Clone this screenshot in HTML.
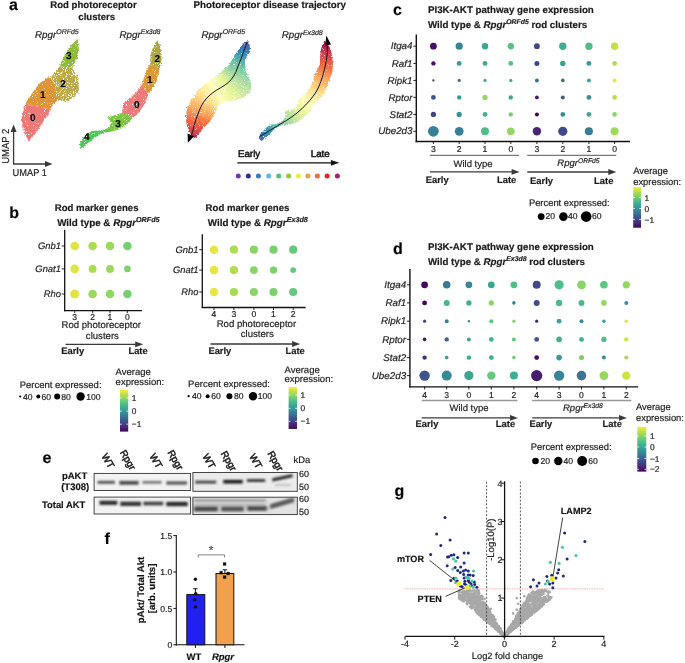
<!DOCTYPE html>
<html><head><meta charset="utf-8"><style>
html,body{margin:0;padding:0;background:#fff;}
svg{display:block;will-change:transform;}
text{font-family:"Liberation Sans", sans-serif;stroke:#1e1e1e;stroke-width:0.18px;text-rendering:geometricPrecision;}
</style></head><body>
<svg width="685" height="663" viewBox="0 0 685 663" font-family='"Liberation Sans", sans-serif'>
<rect width="685" height="663" fill="#fff"/>
<text x="9.0" y="9.8" font-size="16" font-weight="bold" font-style="normal" text-anchor="start" fill="#000" color="#000" >a</text>
<text x="9.3" y="217.7" font-size="16" font-weight="bold" font-style="normal" text-anchor="start" fill="#000" color="#000" >b</text>
<text x="393.0" y="14.5" font-size="16" font-weight="bold" font-style="normal" text-anchor="start" fill="#000" color="#000" >c</text>
<text x="393.0" y="253.8" font-size="16" font-weight="bold" font-style="normal" text-anchor="start" fill="#000" color="#000" >d</text>
<text x="42.4" y="462.9" font-size="16" font-weight="bold" font-style="normal" text-anchor="start" fill="#000" color="#000" >e</text>
<text x="104.5" y="544.4" font-size="16" font-weight="bold" font-style="normal" text-anchor="start" fill="#000" color="#000" >f</text>
<text x="394.4" y="495.7" font-size="16" font-weight="bold" font-style="normal" text-anchor="start" fill="#000" color="#000" >g</text>
<defs><filter id="stip" x="-10%" y="-10%" width="120%" height="120%" color-interpolation-filters="sRGB"><feTurbulence type="fractalNoise" baseFrequency="0.7" numOctaves="2" seed="4" result="n"/><feDisplacementMap in="SourceGraphic" in2="n" scale="3.2" xChannelSelector="R" yChannelSelector="G" result="d"/><feTurbulence type="fractalNoise" baseFrequency="1.1" numOctaves="1" seed="9" result="n2"/><feColorMatrix in="n2" type="matrix" values="0 0 0 0 0  0 0 0 0 0  0 0 0 0 0  14 0 0 0 -3.9" result="m"/><feComposite in="d" in2="m" operator="in"/></filter><filter id="stip2" x="-10%" y="-10%" width="120%" height="120%" color-interpolation-filters="sRGB"><feTurbulence type="fractalNoise" baseFrequency="0.7" numOctaves="2" seed="5" result="n"/><feDisplacementMap in="SourceGraphic" in2="n" scale="4" xChannelSelector="R" yChannelSelector="G" result="d"/><feTurbulence type="fractalNoise" baseFrequency="0.9" numOctaves="1" seed="2" result="n2"/><feColorMatrix in="n2" type="matrix" values="0 0 0 0 0  0 0 0 0 0  0 0 0 0 0  12 0 0 0 -4.3" result="m"/><feComposite in="d" in2="m" operator="in"/></filter></defs>
<text x="50.3" y="8.3" font-size="9.6" font-weight="bold" font-style="normal" text-anchor="start" fill="#1a1a1a" color="#1a1a1a" >Rod photoreceptor</text>
<text x="78.3" y="19.6" font-size="9.6" font-weight="bold" font-style="normal" text-anchor="start" fill="#1a1a1a" color="#1a1a1a" >clusters</text>
<text x="193.6" y="7.8" font-size="9.75" font-weight="bold" font-style="normal" text-anchor="start" fill="#1a1a1a" color="#1a1a1a" >Photoreceptor disease trajectory</text>
<text x="35.0" y="37.6" font-size="9.8" font-weight="normal" font-style="italic" text-anchor="start" fill="#1a1a1a" color="#1a1a1a">Rpgr<tspan font-size="6.96" dy="-3.4">ORFd5</tspan></text>
<text x="119.5" y="37.7" font-size="9.8" font-weight="normal" font-style="italic" text-anchor="start" fill="#1a1a1a" color="#1a1a1a">Rpgr<tspan font-size="6.96" dy="-3.4">Ex3d8</tspan></text>
<text x="201.4" y="37.8" font-size="9.8" font-weight="normal" font-style="italic" text-anchor="start" fill="#1a1a1a" color="#1a1a1a">Rpgr<tspan font-size="6.96" dy="-3.4">ORFd5</tspan></text>
<text x="281.7" y="38.2" font-size="9.8" font-weight="normal" font-style="italic" text-anchor="start" fill="#1a1a1a" color="#1a1a1a">Rpgr<tspan font-size="6.96" dy="-3.4">Ex3d8</tspan></text>
<g filter="url(#stip)">
<path d="M77.7,38.7 L78.9,49.9 L76.4,59.9 L72.2,67.4 L59.5,66.5 L64.8,54.9 L71.4,45.0 Z" fill="#8fbb3c" />
<path d="M50.7,78.1 L54.8,84.8 L57.3,100.5 L53.2,104.7 L49.8,109.7 L36.6,106.3 L25.0,104.7 L26.6,101.4 L33.3,91.4 L39.9,83.1 L48.2,77.3 Z" fill="#e09438" />
<path d="M25.0,104.7 L36.6,106.3 L49.8,109.7 L48.2,114.6 L41.5,124.6 L34.9,134.6 L28.3,141.2 L22.5,127.9 L21.6,118.0 Z" fill="#ef7876" />
</g>
<g filter="url(#stip2)">
<path d="M59.5,66.5 L72.2,67.4 L78.0,78.1 L78.9,89.8 L73.0,98.0 L64.8,101.4 L57.3,100.5 L54.8,84.8 L50.7,78.1 L51.5,76.5 Z" fill="#bea843" />
</g>
<circle cx="75.6" cy="94.7" r="0.60" fill="#5cc8e8"/>
<circle cx="78.9" cy="89.8" r="0.60" fill="#5cc8e8"/>
<circle cx="77.0" cy="92.0" r="0.60" fill="#5cc8e8"/>
<circle cx="74.0" cy="96.0" r="0.60" fill="#5cc8e8"/>
<circle cx="79.0" cy="93.5" r="0.60" fill="#5cc8e8"/>
<g filter="url(#stip)">
<path d="M157.4,40.6 L159.6,44.0 L160.9,50.0 L161.6,58.0 L161.0,64.0 L159.4,68.5 L150.1,64.0 L150.4,57.0 L152.0,50.0 L154.6,44.0 Z" fill="#aaa83c" />
<path d="M150.1,64.0 L159.2,68.5 L159.2,71.2 L156.4,82.1 L148.3,94.7 L142.0,84.8 L142.9,81.2 L146.5,70.3 Z" fill="#dc9838" />
<path d="M142.0,84.8 L148.3,94.7 L143.8,105.6 L137.4,114.6 L132.9,117.4 L122.1,112.8 L123.0,104.7 L127.5,100.2 L135.6,92.9 Z" fill="#ef7878" />
<path d="M122.1,112.8 L132.9,117.4 L127.5,123.7 L120.2,129.1 L111.2,131.8 L104.0,130.0 L109.4,127.3 L111.2,121.9 L107.6,117.4 Z" fill="#7cc640" />
<path d="M104.0,129.6 L110.0,130.5 L111.2,131.8 L107.6,132.0 L104.0,132.9 L98.5,135.5 L94.0,138.2 L89.5,141.8 L85.0,145.4 L81.3,149.2 L79.8,148.1 L80.0,143.6 L82.0,139.1 L85.0,135.5 L88.6,132.7 L93.1,130.9 L98.5,130.4 Z" fill="#4ec854" />
</g>
<text x="68.9" y="58.7" font-size="10" font-weight="bold" font-style="normal" text-anchor="middle" fill="#000" color="#000" >3</text>
<text x="63.1" y="86.9" font-size="10" font-weight="bold" font-style="normal" text-anchor="middle" fill="#000" color="#000" >2</text>
<text x="42.9" y="97.9" font-size="10" font-weight="bold" font-style="normal" text-anchor="middle" fill="#000" color="#000" >1</text>
<text x="32.9" y="121.1" font-size="10" font-weight="bold" font-style="normal" text-anchor="middle" fill="#000" color="#000" >0</text>
<text x="157.4" y="62.0" font-size="10" font-weight="bold" font-style="normal" text-anchor="middle" fill="#000" color="#000" >2</text>
<text x="149.8" y="82.8" font-size="10" font-weight="bold" font-style="normal" text-anchor="middle" fill="#000" color="#000" >1</text>
<text x="136.9" y="107.6" font-size="10" font-weight="bold" font-style="normal" text-anchor="middle" fill="#000" color="#000" >0</text>
<text x="118.1" y="126.6" font-size="10" font-weight="bold" font-style="normal" text-anchor="middle" fill="#000" color="#000" >3</text>
<text x="86.8" y="140.4" font-size="10" font-weight="bold" font-style="normal" text-anchor="middle" fill="#000" color="#000" >4</text>
<line x1="13.6" y1="164.0" x2="13.6" y2="131.0" stroke="#3a3a3a" stroke-width="1.3" />
<path d="M10.6,132 L13.6,124.5 L16.6,132 Z" fill="#3a3a3a"/>
<line x1="13.0" y1="164.0" x2="46.0" y2="164.0" stroke="#3a3a3a" stroke-width="1.3" />
<path d="M45,161 L52.5,164 L45,167 Z" fill="#3a3a3a"/>
<text transform="translate(8.7,146.2) rotate(-90) scale(1,1.07)" font-size="9.5" text-anchor="middle" fill="#222">UMAP 2</text>
<text x="12.6" y="175.9" font-size="9.3" font-weight="normal" font-style="normal" text-anchor="start" fill="#222" color="#222" transform="translate(0,-12.31) scale(1,1.07)">UMAP 1</text>
<defs><clipPath id="cp1"><path d="M247.5,41.2 L249.5,45.0 L249.8,52.0 L246.0,57.0 L244.5,62.0 L246.0,72.0 L250.0,80.0 L251.5,86.0 L250.0,92.0 L244.0,97.0 L239.7,98.6 L234.3,100.8 L225.2,101.3 L218.9,104.0 L216.2,110.3 L209.9,121.2 L202.6,128.4 L195.4,137.5 L193.1,138.6 L191.8,135.7 L189.0,130.2 L186.8,123.9 L185.9,117.6 L187.2,108.5 L190.9,101.3 L196.8,92.3 L204.0,85.0 L213.1,77.8 L221.2,72.4 L229.4,65.1 L234.8,55.2 L240.0,48.0 L244.0,43.0 Z"/></clipPath></defs>
<g filter="url(#stip)"><g clip-path="url(#cp1)">
<line x1="248.2" y1="38.6" x2="246.8" y2="42.6" stroke="#5e4fa2" stroke-width="48"/>
<line x1="247.2" y1="41.4" x2="246.6" y2="43.2" stroke="#5b53a4" stroke-width="48"/>
<line x1="247.0" y1="42.0" x2="246.4" y2="43.9" stroke="#5856a5" stroke-width="48"/>
<line x1="246.7" y1="42.8" x2="246.1" y2="44.7" stroke="#555aa7" stroke-width="48"/>
<line x1="246.4" y1="43.6" x2="245.7" y2="45.7" stroke="#525fa9" stroke-width="48"/>
<line x1="246.1" y1="44.6" x2="245.4" y2="46.8" stroke="#4e63ac" stroke-width="48"/>
<line x1="245.8" y1="45.6" x2="245.0" y2="47.9" stroke="#4a69ae" stroke-width="48"/>
<line x1="245.4" y1="46.8" x2="244.6" y2="49.1" stroke="#466eb1" stroke-width="48"/>
<line x1="245.0" y1="47.9" x2="244.2" y2="50.2" stroke="#4174b4" stroke-width="48"/>
<line x1="244.6" y1="49.1" x2="243.8" y2="51.4" stroke="#3d7ab6" stroke-width="48"/>
<line x1="244.2" y1="50.3" x2="243.4" y2="52.6" stroke="#3880b9" stroke-width="48"/>
<line x1="243.8" y1="51.5" x2="243.0" y2="53.7" stroke="#3485bc" stroke-width="48"/>
<line x1="243.4" y1="52.6" x2="242.6" y2="54.8" stroke="#358bbc" stroke-width="48"/>
<line x1="243.0" y1="53.7" x2="242.2" y2="55.8" stroke="#3990ba" stroke-width="48"/>
<line x1="242.6" y1="54.7" x2="241.9" y2="56.7" stroke="#3d95b8" stroke-width="48"/>
<line x1="242.3" y1="55.5" x2="241.6" y2="57.5" stroke="#4199b6" stroke-width="48"/>
<line x1="242.0" y1="56.3" x2="241.3" y2="58.2" stroke="#459db4" stroke-width="48"/>
<line x1="241.7" y1="57.1" x2="241.0" y2="59.0" stroke="#48a1b3" stroke-width="48"/>
<line x1="241.4" y1="57.8" x2="240.7" y2="59.6" stroke="#4ba4b1" stroke-width="48"/>
<line x1="241.2" y1="58.5" x2="240.4" y2="60.3" stroke="#4ea8b0" stroke-width="48"/>
<line x1="240.9" y1="59.2" x2="240.1" y2="61.0" stroke="#51abae" stroke-width="48"/>
<line x1="240.6" y1="59.9" x2="239.9" y2="61.6" stroke="#54aead" stroke-width="48"/>
<line x1="240.3" y1="60.5" x2="239.6" y2="62.2" stroke="#57b1ac" stroke-width="48"/>
<line x1="240.1" y1="61.1" x2="239.4" y2="62.8" stroke="#5ab4ab" stroke-width="48"/>
<line x1="239.8" y1="61.7" x2="239.1" y2="63.4" stroke="#5db8a9" stroke-width="48"/>
<line x1="239.6" y1="62.2" x2="238.9" y2="63.9" stroke="#5fbaa8" stroke-width="48"/>
<line x1="239.3" y1="62.8" x2="238.6" y2="64.5" stroke="#62bda7" stroke-width="48"/>
<line x1="239.1" y1="63.4" x2="238.4" y2="65.1" stroke="#64c0a6" stroke-width="48"/>
<line x1="238.9" y1="64.0" x2="238.2" y2="65.7" stroke="#67c3a5" stroke-width="48"/>
<line x1="238.6" y1="64.5" x2="238.0" y2="66.2" stroke="#6bc4a5" stroke-width="48"/>
<line x1="238.4" y1="65.1" x2="237.8" y2="66.8" stroke="#6ec5a5" stroke-width="48"/>
<line x1="238.2" y1="65.7" x2="237.6" y2="67.3" stroke="#72c7a5" stroke-width="48"/>
<line x1="238.0" y1="66.2" x2="237.4" y2="67.9" stroke="#75c8a5" stroke-width="48"/>
<line x1="237.8" y1="66.7" x2="237.2" y2="68.4" stroke="#78c9a5" stroke-width="48"/>
<line x1="237.6" y1="67.3" x2="237.1" y2="68.9" stroke="#7bcaa5" stroke-width="48"/>
<line x1="237.5" y1="67.8" x2="236.9" y2="69.4" stroke="#7ecba5" stroke-width="48"/>
<line x1="237.3" y1="68.3" x2="236.7" y2="69.9" stroke="#81cda5" stroke-width="48"/>
<line x1="237.1" y1="68.8" x2="236.6" y2="70.4" stroke="#84cea5" stroke-width="48"/>
<line x1="237.0" y1="69.3" x2="236.4" y2="70.9" stroke="#87cfa5" stroke-width="48"/>
<line x1="236.8" y1="69.8" x2="236.2" y2="71.4" stroke="#8ad0a4" stroke-width="48"/>
<line x1="236.6" y1="70.3" x2="235.9" y2="71.9" stroke="#8dd1a4" stroke-width="48"/>
<line x1="236.4" y1="70.8" x2="235.7" y2="72.4" stroke="#90d2a4" stroke-width="48"/>
<line x1="236.2" y1="71.3" x2="235.4" y2="72.9" stroke="#93d4a4" stroke-width="48"/>
<line x1="236.0" y1="71.9" x2="235.2" y2="73.5" stroke="#97d5a4" stroke-width="48"/>
<line x1="235.7" y1="72.4" x2="234.9" y2="74.0" stroke="#9ad6a4" stroke-width="48"/>
<line x1="235.4" y1="72.9" x2="234.6" y2="74.5" stroke="#9dd8a4" stroke-width="48"/>
<line x1="235.2" y1="73.5" x2="234.3" y2="75.0" stroke="#a1d9a4" stroke-width="48"/>
<line x1="234.9" y1="74.0" x2="234.0" y2="75.6" stroke="#a4daa4" stroke-width="48"/>
<line x1="234.6" y1="74.5" x2="233.7" y2="76.1" stroke="#a7dca4" stroke-width="48"/>
<line x1="234.3" y1="75.1" x2="233.4" y2="76.6" stroke="#abdda4" stroke-width="48"/>
<line x1="234.0" y1="75.6" x2="233.0" y2="77.1" stroke="#aedea3" stroke-width="48"/>
<line x1="233.7" y1="76.1" x2="232.7" y2="77.7" stroke="#b1dfa3" stroke-width="48"/>
<line x1="233.3" y1="76.7" x2="232.3" y2="78.2" stroke="#b4e1a2" stroke-width="48"/>
<line x1="233.0" y1="77.2" x2="232.0" y2="78.7" stroke="#b7e2a2" stroke-width="48"/>
<line x1="232.7" y1="77.7" x2="231.6" y2="79.1" stroke="#bae3a1" stroke-width="48"/>
<line x1="232.3" y1="78.2" x2="231.2" y2="79.6" stroke="#bde4a0" stroke-width="48"/>
<line x1="232.0" y1="78.7" x2="230.8" y2="80.1" stroke="#bfe5a0" stroke-width="48"/>
<line x1="231.6" y1="79.1" x2="230.4" y2="80.5" stroke="#c2e69f" stroke-width="48"/>
<line x1="231.2" y1="79.6" x2="230.0" y2="80.9" stroke="#c5e89f" stroke-width="48"/>
<line x1="230.8" y1="80.0" x2="229.6" y2="81.3" stroke="#c8e99e" stroke-width="48"/>
<line x1="230.4" y1="80.5" x2="229.2" y2="81.7" stroke="#cbea9e" stroke-width="48"/>
<line x1="230.0" y1="80.9" x2="228.7" y2="82.1" stroke="#cdeb9d" stroke-width="48"/>
<line x1="229.6" y1="81.3" x2="228.3" y2="82.5" stroke="#d0ec9c" stroke-width="48"/>
<line x1="229.2" y1="81.7" x2="227.9" y2="82.9" stroke="#d3ed9c" stroke-width="48"/>
<line x1="228.8" y1="82.1" x2="227.4" y2="83.2" stroke="#d6ee9b" stroke-width="48"/>
<line x1="228.3" y1="82.5" x2="226.9" y2="83.6" stroke="#d9f09b" stroke-width="48"/>
<line x1="227.9" y1="82.8" x2="226.5" y2="84.0" stroke="#dcf19a" stroke-width="48"/>
<line x1="227.4" y1="83.2" x2="226.0" y2="84.3" stroke="#def29a" stroke-width="48"/>
<line x1="226.9" y1="83.6" x2="225.5" y2="84.7" stroke="#e1f399" stroke-width="48"/>
<line x1="226.4" y1="84.0" x2="224.9" y2="85.1" stroke="#e4f498" stroke-width="48"/>
<line x1="225.9" y1="84.4" x2="224.4" y2="85.5" stroke="#e7f599" stroke-width="48"/>
<line x1="225.4" y1="84.8" x2="223.9" y2="85.8" stroke="#e8f69b" stroke-width="48"/>
<line x1="224.8" y1="85.2" x2="223.3" y2="86.2" stroke="#e9f69d" stroke-width="48"/>
<line x1="224.3" y1="85.5" x2="222.7" y2="86.6" stroke="#ebf79f" stroke-width="48"/>
<line x1="223.7" y1="85.9" x2="222.0" y2="86.9" stroke="#ecf8a2" stroke-width="48"/>
<line x1="223.1" y1="86.3" x2="221.4" y2="87.3" stroke="#eef8a4" stroke-width="48"/>
<line x1="222.4" y1="86.7" x2="220.7" y2="87.7" stroke="#eff9a6" stroke-width="48"/>
<line x1="221.8" y1="87.1" x2="220.1" y2="88.0" stroke="#f1f9a9" stroke-width="48"/>
<line x1="221.1" y1="87.5" x2="219.4" y2="88.4" stroke="#f2faab" stroke-width="48"/>
<line x1="220.5" y1="87.8" x2="218.8" y2="88.8" stroke="#f4fbae" stroke-width="48"/>
<line x1="219.8" y1="88.2" x2="218.1" y2="89.2" stroke="#f5fbb0" stroke-width="48"/>
<line x1="219.2" y1="88.6" x2="217.5" y2="89.6" stroke="#f7fcb2" stroke-width="48"/>
<line x1="218.5" y1="88.9" x2="216.9" y2="89.9" stroke="#f8fcb5" stroke-width="48"/>
<line x1="217.9" y1="89.3" x2="216.3" y2="90.3" stroke="#fafdb7" stroke-width="48"/>
<line x1="217.3" y1="89.7" x2="215.7" y2="90.7" stroke="#fbfeb9" stroke-width="48"/>
<line x1="216.7" y1="90.1" x2="215.1" y2="91.1" stroke="#fdfebb" stroke-width="48"/>
<line x1="216.1" y1="90.4" x2="214.6" y2="91.5" stroke="#feffbe" stroke-width="48"/>
<line x1="215.6" y1="90.8" x2="214.0" y2="91.9" stroke="#fffebe" stroke-width="48"/>
<line x1="215.0" y1="91.2" x2="213.5" y2="92.3" stroke="#fffdbb" stroke-width="48"/>
<line x1="214.5" y1="91.6" x2="213.0" y2="92.7" stroke="#fffbb8" stroke-width="48"/>
<line x1="213.9" y1="92.0" x2="212.4" y2="93.1" stroke="#fff9b6" stroke-width="48"/>
<line x1="213.4" y1="92.3" x2="211.9" y2="93.4" stroke="#fff8b3" stroke-width="48"/>
<line x1="212.9" y1="92.7" x2="211.4" y2="93.8" stroke="#fff6b0" stroke-width="48"/>
<line x1="212.4" y1="93.1" x2="210.9" y2="94.2" stroke="#fff5ae" stroke-width="48"/>
<line x1="211.9" y1="93.5" x2="210.4" y2="94.6" stroke="#fff3ab" stroke-width="48"/>
<line x1="211.4" y1="93.9" x2="209.9" y2="95.0" stroke="#fff1a8" stroke-width="48"/>
<line x1="210.9" y1="94.3" x2="209.5" y2="95.5" stroke="#fff0a6" stroke-width="48"/>
<line x1="210.4" y1="94.7" x2="209.0" y2="95.9" stroke="#feeea3" stroke-width="48"/>
<line x1="209.9" y1="95.1" x2="208.6" y2="96.3" stroke="#feeda0" stroke-width="48"/>
<line x1="209.4" y1="95.5" x2="208.1" y2="96.7" stroke="#feeb9e" stroke-width="48"/>
<line x1="209.0" y1="95.9" x2="207.7" y2="97.1" stroke="#feea9b" stroke-width="48"/>
<line x1="208.5" y1="96.3" x2="207.3" y2="97.6" stroke="#fee899" stroke-width="48"/>
<line x1="208.1" y1="96.7" x2="206.9" y2="98.0" stroke="#fee796" stroke-width="48"/>
<line x1="207.7" y1="97.1" x2="206.5" y2="98.4" stroke="#fee594" stroke-width="48"/>
<line x1="207.3" y1="97.5" x2="206.1" y2="98.8" stroke="#fee491" stroke-width="48"/>
<line x1="206.9" y1="98.0" x2="205.7" y2="99.3" stroke="#fee28f" stroke-width="48"/>
<line x1="206.5" y1="98.4" x2="205.3" y2="99.7" stroke="#fee18c" stroke-width="48"/>
<line x1="206.1" y1="98.8" x2="204.9" y2="100.2" stroke="#fedf8a" stroke-width="48"/>
<line x1="205.7" y1="99.3" x2="204.6" y2="100.6" stroke="#fedc88" stroke-width="48"/>
<line x1="205.3" y1="99.7" x2="204.2" y2="101.1" stroke="#feda86" stroke-width="48"/>
<line x1="204.9" y1="100.2" x2="203.9" y2="101.6" stroke="#fed884" stroke-width="48"/>
<line x1="204.6" y1="100.7" x2="203.5" y2="102.2" stroke="#fed582" stroke-width="48"/>
<line x1="204.2" y1="101.2" x2="203.2" y2="102.7" stroke="#fed280" stroke-width="48"/>
<line x1="203.8" y1="101.7" x2="202.8" y2="103.3" stroke="#fed07d" stroke-width="48"/>
<line x1="203.5" y1="102.2" x2="202.5" y2="103.8" stroke="#fecd7b" stroke-width="48"/>
<line x1="203.1" y1="102.8" x2="202.2" y2="104.5" stroke="#feca79" stroke-width="48"/>
<line x1="202.7" y1="103.4" x2="201.8" y2="105.1" stroke="#fec776" stroke-width="48"/>
<line x1="202.4" y1="104.0" x2="201.5" y2="105.7" stroke="#fdc574" stroke-width="48"/>
<line x1="202.1" y1="104.6" x2="201.2" y2="106.4" stroke="#fdc272" stroke-width="48"/>
<line x1="201.7" y1="105.3" x2="200.9" y2="107.0" stroke="#fdbf6f" stroke-width="48"/>
<line x1="201.4" y1="105.9" x2="200.6" y2="107.7" stroke="#fdbc6d" stroke-width="48"/>
<line x1="201.1" y1="106.6" x2="200.2" y2="108.3" stroke="#fdb96a" stroke-width="48"/>
<line x1="200.7" y1="107.3" x2="199.9" y2="109.0" stroke="#fdb668" stroke-width="48"/>
<line x1="200.4" y1="107.9" x2="199.6" y2="109.7" stroke="#fdb365" stroke-width="48"/>
<line x1="200.1" y1="108.6" x2="199.3" y2="110.4" stroke="#fdb062" stroke-width="48"/>
<line x1="199.8" y1="109.3" x2="199.1" y2="111.1" stroke="#fdac60" stroke-width="48"/>
<line x1="199.5" y1="110.0" x2="198.8" y2="111.8" stroke="#fca85e" stroke-width="48"/>
<line x1="199.2" y1="110.6" x2="198.5" y2="112.4" stroke="#fca55d" stroke-width="48"/>
<line x1="198.9" y1="111.3" x2="198.2" y2="113.1" stroke="#fba15b" stroke-width="48"/>
<line x1="198.7" y1="112.0" x2="197.9" y2="113.8" stroke="#fb9d59" stroke-width="48"/>
<line x1="198.4" y1="112.7" x2="197.7" y2="114.5" stroke="#fa9957" stroke-width="48"/>
<line x1="198.1" y1="113.4" x2="197.4" y2="115.3" stroke="#f99555" stroke-width="48"/>
<line x1="197.8" y1="114.1" x2="197.1" y2="116.0" stroke="#f99153" stroke-width="48"/>
<line x1="197.5" y1="114.9" x2="196.9" y2="116.7" stroke="#f88d52" stroke-width="48"/>
<line x1="197.3" y1="115.6" x2="196.6" y2="117.4" stroke="#f88850" stroke-width="48"/>
<line x1="197.0" y1="116.3" x2="196.4" y2="118.2" stroke="#f7844e" stroke-width="48"/>
<line x1="196.8" y1="117.0" x2="196.1" y2="118.9" stroke="#f7804c" stroke-width="48"/>
<line x1="196.5" y1="117.7" x2="195.9" y2="119.6" stroke="#f67c4a" stroke-width="48"/>
<line x1="196.3" y1="118.5" x2="195.7" y2="120.3" stroke="#f67848" stroke-width="48"/>
<line x1="196.0" y1="119.2" x2="195.4" y2="121.1" stroke="#f57446" stroke-width="48"/>
<line x1="195.8" y1="119.9" x2="195.2" y2="121.8" stroke="#f47045" stroke-width="48"/>
<line x1="195.6" y1="120.6" x2="195.0" y2="122.5" stroke="#f46d43" stroke-width="48"/>
<line x1="195.3" y1="121.4" x2="194.8" y2="123.3" stroke="#f26a44" stroke-width="48"/>
<line x1="195.1" y1="122.1" x2="194.6" y2="124.0" stroke="#f06745" stroke-width="48"/>
<line x1="194.9" y1="122.9" x2="194.4" y2="124.8" stroke="#ee6345" stroke-width="48"/>
<line x1="194.7" y1="123.7" x2="194.2" y2="125.6" stroke="#ec6046" stroke-width="48"/>
<line x1="194.5" y1="124.4" x2="194.0" y2="126.4" stroke="#ea5d47" stroke-width="48"/>
<line x1="194.3" y1="125.2" x2="193.8" y2="127.2" stroke="#e85a48" stroke-width="48"/>
<line x1="194.1" y1="126.0" x2="193.6" y2="127.9" stroke="#e65749" stroke-width="48"/>
<line x1="193.9" y1="126.8" x2="193.4" y2="128.7" stroke="#e45449" stroke-width="48"/>
<line x1="193.7" y1="127.5" x2="193.2" y2="129.4" stroke="#e2514a" stroke-width="48"/>
<line x1="193.5" y1="128.2" x2="193.0" y2="130.0" stroke="#e04f4b" stroke-width="48"/>
<line x1="193.3" y1="128.9" x2="192.9" y2="130.7" stroke="#de4c4b" stroke-width="48"/>
<line x1="193.2" y1="129.5" x2="192.7" y2="131.3" stroke="#dd4a4c" stroke-width="48"/>
<line x1="193.0" y1="130.1" x2="192.5" y2="131.8" stroke="#db474d" stroke-width="48"/>
<line x1="192.9" y1="130.6" x2="192.4" y2="132.2" stroke="#da454d" stroke-width="48"/>
<line x1="192.7" y1="131.1" x2="192.2" y2="132.7" stroke="#d9444e" stroke-width="48"/>
<line x1="192.6" y1="131.5" x2="192.1" y2="133.1" stroke="#d8424e" stroke-width="48"/>
<line x1="192.5" y1="131.9" x2="192.0" y2="133.4" stroke="#d7414e" stroke-width="48"/>
<line x1="192.4" y1="132.3" x2="191.8" y2="133.7" stroke="#d63f4f" stroke-width="48"/>
<line x1="192.3" y1="132.6" x2="191.7" y2="134.0" stroke="#d53e4f" stroke-width="48"/>
<line x1="192.2" y1="132.9" x2="191.6" y2="134.3" stroke="#d43c4f" stroke-width="48"/>
<line x1="192.1" y1="133.2" x2="191.5" y2="134.5" stroke="#d23b4e" stroke-width="48"/>
<line x1="192.0" y1="133.4" x2="191.4" y2="134.7" stroke="#d13a4e" stroke-width="48"/>
<line x1="191.9" y1="133.6" x2="191.3" y2="134.9" stroke="#d0394e" stroke-width="48"/>
<line x1="191.8" y1="133.8" x2="191.2" y2="135.1" stroke="#cf384e" stroke-width="48"/>
<line x1="191.7" y1="134.0" x2="191.2" y2="135.3" stroke="#cf374d" stroke-width="48"/>
<line x1="191.6" y1="134.2" x2="191.1" y2="135.4" stroke="#ce364d" stroke-width="48"/>
<line x1="191.6" y1="134.3" x2="191.1" y2="135.6" stroke="#cd354d" stroke-width="48"/>
<line x1="191.5" y1="134.4" x2="188.2" y2="143.0" stroke="#bb2149" stroke-width="48"/>
</g></g>
<defs><clipPath id="cp2"><path d="M324.3,41.4 L328.0,44.0 L331.0,51.0 L332.7,63.0 L332.2,72.0 L327.4,85.4 L321.7,96.7 L315.0,103.1 L311.1,109.4 L305.7,115.8 L298.4,121.2 L291.2,123.9 L282.1,124.8 L276.7,127.5 L271.3,132.1 L266.8,136.6 L261.3,141.1 L259.0,138.5 L260.4,133.9 L266.8,127.5 L271.3,124.8 L275.8,124.4 L278.5,123.0 L282.1,121.2 L285.8,117.6 L284.9,112.1 L289.4,110.8 L296.6,107.6 L297.5,104.0 L299.3,98.6 L303.9,95.0 L308.4,90.4 L311.1,85.9 L316.0,72.2 L319.8,65.0 L321.0,50.0 L322.6,44.5 Z"/></clipPath></defs>
<g filter="url(#stip)"><g clip-path="url(#cp2)">
<line x1="253.8" y1="140.0" x2="260.0" y2="136.3" stroke="#545ca8" stroke-width="48"/>
<line x1="259.0" y1="136.9" x2="260.4" y2="136.1" stroke="#496aaf" stroke-width="48"/>
<line x1="259.4" y1="136.7" x2="260.8" y2="135.8" stroke="#486cb0" stroke-width="48"/>
<line x1="259.8" y1="136.4" x2="261.4" y2="135.5" stroke="#466eb1" stroke-width="48"/>
<line x1="260.3" y1="136.1" x2="262.0" y2="135.1" stroke="#4471b2" stroke-width="48"/>
<line x1="260.9" y1="135.8" x2="262.6" y2="134.8" stroke="#4174b3" stroke-width="48"/>
<line x1="261.6" y1="135.4" x2="263.3" y2="134.4" stroke="#3f77b5" stroke-width="48"/>
<line x1="262.3" y1="135.0" x2="264.0" y2="133.9" stroke="#3c7bb7" stroke-width="48"/>
<line x1="263.0" y1="134.5" x2="264.7" y2="133.5" stroke="#397eb8" stroke-width="48"/>
<line x1="263.7" y1="134.1" x2="265.5" y2="133.1" stroke="#3782ba" stroke-width="48"/>
<line x1="264.5" y1="133.7" x2="266.3" y2="132.6" stroke="#3486bc" stroke-width="48"/>
<line x1="265.2" y1="133.2" x2="267.0" y2="132.2" stroke="#338abc" stroke-width="48"/>
<line x1="266.0" y1="132.8" x2="267.7" y2="131.7" stroke="#378dbb" stroke-width="48"/>
<line x1="266.7" y1="132.3" x2="268.4" y2="131.3" stroke="#3a91b9" stroke-width="48"/>
<line x1="267.4" y1="131.9" x2="269.1" y2="130.9" stroke="#3d95b8" stroke-width="48"/>
<line x1="268.1" y1="131.5" x2="269.8" y2="130.5" stroke="#4098b6" stroke-width="48"/>
<line x1="268.7" y1="131.1" x2="270.4" y2="130.1" stroke="#439bb5" stroke-width="48"/>
<line x1="269.4" y1="130.7" x2="271.0" y2="129.7" stroke="#469eb4" stroke-width="48"/>
<line x1="270.0" y1="130.3" x2="271.7" y2="129.3" stroke="#49a2b2" stroke-width="48"/>
<line x1="270.7" y1="129.9" x2="272.3" y2="128.9" stroke="#4ca5b1" stroke-width="48"/>
<line x1="271.3" y1="129.6" x2="273.0" y2="128.5" stroke="#4fa8b0" stroke-width="48"/>
<line x1="271.9" y1="129.2" x2="273.6" y2="128.1" stroke="#52acae" stroke-width="48"/>
<line x1="272.6" y1="128.8" x2="274.3" y2="127.7" stroke="#55afad" stroke-width="48"/>
<line x1="273.2" y1="128.4" x2="274.9" y2="127.3" stroke="#58b2ac" stroke-width="48"/>
<line x1="273.9" y1="128.0" x2="275.5" y2="127.0" stroke="#5bb5aa" stroke-width="48"/>
<line x1="274.5" y1="127.6" x2="276.2" y2="126.6" stroke="#5eb9a9" stroke-width="48"/>
<line x1="275.2" y1="127.2" x2="276.8" y2="126.2" stroke="#61bca7" stroke-width="48"/>
<line x1="275.8" y1="126.8" x2="277.5" y2="125.8" stroke="#64bfa6" stroke-width="48"/>
<line x1="276.4" y1="126.4" x2="278.1" y2="125.4" stroke="#67c2a5" stroke-width="48"/>
<line x1="277.1" y1="126.0" x2="278.8" y2="125.0" stroke="#6bc4a5" stroke-width="48"/>
<line x1="277.7" y1="125.6" x2="279.4" y2="124.6" stroke="#6ec5a5" stroke-width="48"/>
<line x1="278.4" y1="125.2" x2="280.1" y2="124.3" stroke="#72c7a5" stroke-width="48"/>
<line x1="279.0" y1="124.9" x2="280.7" y2="123.9" stroke="#76c8a5" stroke-width="48"/>
<line x1="279.7" y1="124.5" x2="281.4" y2="123.5" stroke="#7acaa5" stroke-width="48"/>
<line x1="280.3" y1="124.1" x2="282.0" y2="123.1" stroke="#7ecba5" stroke-width="48"/>
<line x1="281.0" y1="123.7" x2="282.7" y2="122.8" stroke="#82cda5" stroke-width="48"/>
<line x1="281.6" y1="123.4" x2="283.3" y2="122.4" stroke="#86cea5" stroke-width="48"/>
<line x1="282.3" y1="123.0" x2="284.0" y2="122.0" stroke="#8ad0a4" stroke-width="48"/>
<line x1="282.9" y1="122.6" x2="284.6" y2="121.6" stroke="#8ed2a4" stroke-width="48"/>
<line x1="283.6" y1="122.2" x2="285.3" y2="121.2" stroke="#92d3a4" stroke-width="48"/>
<line x1="284.2" y1="121.8" x2="285.9" y2="120.8" stroke="#96d5a4" stroke-width="48"/>
<line x1="284.9" y1="121.4" x2="286.6" y2="120.4" stroke="#9ad6a4" stroke-width="48"/>
<line x1="285.5" y1="121.0" x2="287.2" y2="120.0" stroke="#9dd8a4" stroke-width="48"/>
<line x1="286.2" y1="120.6" x2="287.8" y2="119.6" stroke="#a1d9a4" stroke-width="48"/>
<line x1="286.8" y1="120.2" x2="288.5" y2="119.1" stroke="#a5dba4" stroke-width="48"/>
<line x1="287.5" y1="119.8" x2="289.1" y2="118.7" stroke="#a9dca4" stroke-width="48"/>
<line x1="288.1" y1="119.4" x2="289.8" y2="118.3" stroke="#addea4" stroke-width="48"/>
<line x1="288.8" y1="119.0" x2="290.4" y2="117.9" stroke="#b0dfa3" stroke-width="48"/>
<line x1="289.4" y1="118.5" x2="291.1" y2="117.4" stroke="#b4e1a2" stroke-width="48"/>
<line x1="290.1" y1="118.1" x2="291.7" y2="117.0" stroke="#b7e2a1" stroke-width="48"/>
<line x1="290.7" y1="117.7" x2="292.3" y2="116.5" stroke="#bbe3a1" stroke-width="48"/>
<line x1="291.4" y1="117.2" x2="293.0" y2="116.1" stroke="#bee5a0" stroke-width="48"/>
<line x1="292.0" y1="116.8" x2="293.6" y2="115.6" stroke="#c2e69f" stroke-width="48"/>
<line x1="292.6" y1="116.3" x2="294.2" y2="115.1" stroke="#c5e89f" stroke-width="48"/>
<line x1="293.3" y1="115.9" x2="294.9" y2="114.6" stroke="#c9e99e" stroke-width="48"/>
<line x1="293.9" y1="115.4" x2="295.5" y2="114.1" stroke="#cceb9d" stroke-width="48"/>
<line x1="294.6" y1="114.9" x2="296.2" y2="113.6" stroke="#d0ec9c" stroke-width="48"/>
<line x1="295.2" y1="114.4" x2="296.8" y2="113.1" stroke="#d4ee9c" stroke-width="48"/>
<line x1="295.9" y1="113.9" x2="297.5" y2="112.6" stroke="#d7ef9b" stroke-width="48"/>
<line x1="296.5" y1="113.3" x2="298.1" y2="112.1" stroke="#dbf19a" stroke-width="48"/>
<line x1="297.2" y1="112.8" x2="298.7" y2="111.5" stroke="#dff299" stroke-width="48"/>
<line x1="297.8" y1="112.3" x2="299.4" y2="111.0" stroke="#e2f499" stroke-width="48"/>
<line x1="298.5" y1="111.8" x2="300.0" y2="110.4" stroke="#e6f598" stroke-width="48"/>
<line x1="299.1" y1="111.2" x2="300.6" y2="109.8" stroke="#e8f69b" stroke-width="48"/>
<line x1="299.7" y1="110.6" x2="301.3" y2="109.3" stroke="#e9f69d" stroke-width="48"/>
<line x1="300.4" y1="110.1" x2="301.9" y2="108.7" stroke="#ebf7a0" stroke-width="48"/>
<line x1="301.0" y1="109.5" x2="302.6" y2="108.1" stroke="#edf8a2" stroke-width="48"/>
<line x1="301.7" y1="108.9" x2="303.2" y2="107.4" stroke="#eef8a5" stroke-width="48"/>
<line x1="302.4" y1="108.3" x2="303.9" y2="106.8" stroke="#f0f9a8" stroke-width="48"/>
<line x1="303.0" y1="107.6" x2="304.5" y2="106.1" stroke="#f2faaa" stroke-width="48"/>
<line x1="303.7" y1="106.9" x2="305.2" y2="105.4" stroke="#f4faad" stroke-width="48"/>
<line x1="304.4" y1="106.2" x2="305.9" y2="104.6" stroke="#f5fbb0" stroke-width="48"/>
<line x1="305.1" y1="105.5" x2="306.6" y2="103.9" stroke="#f7fcb3" stroke-width="48"/>
<line x1="305.8" y1="104.7" x2="307.3" y2="103.1" stroke="#f9fdb6" stroke-width="48"/>
<line x1="306.5" y1="104.0" x2="308.1" y2="102.3" stroke="#fbfeb9" stroke-width="48"/>
<line x1="307.3" y1="103.2" x2="308.8" y2="101.4" stroke="#fdfebd" stroke-width="48"/>
<line x1="308.0" y1="102.3" x2="309.6" y2="100.6" stroke="#fffebe" stroke-width="48"/>
<line x1="308.8" y1="101.5" x2="310.3" y2="99.7" stroke="#fffcb9" stroke-width="48"/>
<line x1="309.5" y1="100.6" x2="311.1" y2="98.8" stroke="#fff9b5" stroke-width="48"/>
<line x1="310.3" y1="99.8" x2="311.8" y2="97.9" stroke="#fff6b0" stroke-width="48"/>
<line x1="311.0" y1="98.9" x2="312.5" y2="97.1" stroke="#fff4ac" stroke-width="48"/>
<line x1="311.8" y1="98.0" x2="313.2" y2="96.2" stroke="#fff1a7" stroke-width="48"/>
<line x1="312.5" y1="97.1" x2="313.8" y2="95.3" stroke="#feeea3" stroke-width="48"/>
<line x1="313.1" y1="96.2" x2="314.5" y2="94.4" stroke="#feec9f" stroke-width="48"/>
<line x1="313.8" y1="95.4" x2="315.0" y2="93.5" stroke="#fee99b" stroke-width="48"/>
<line x1="314.4" y1="94.5" x2="315.6" y2="92.6" stroke="#fee797" stroke-width="48"/>
<line x1="314.9" y1="93.7" x2="316.1" y2="91.8" stroke="#fee593" stroke-width="48"/>
<line x1="315.5" y1="92.8" x2="316.6" y2="90.9" stroke="#fee28f" stroke-width="48"/>
<line x1="316.0" y1="92.0" x2="317.1" y2="90.1" stroke="#fee08b" stroke-width="48"/>
<line x1="316.5" y1="91.1" x2="317.5" y2="89.2" stroke="#fedc88" stroke-width="48"/>
<line x1="317.0" y1="90.3" x2="317.9" y2="88.4" stroke="#fed985" stroke-width="48"/>
<line x1="317.4" y1="89.4" x2="318.4" y2="87.5" stroke="#fed582" stroke-width="48"/>
<line x1="317.8" y1="88.6" x2="318.8" y2="86.6" stroke="#fed17f" stroke-width="48"/>
<line x1="318.3" y1="87.7" x2="319.2" y2="85.7" stroke="#fece7c" stroke-width="48"/>
<line x1="318.7" y1="86.8" x2="319.5" y2="84.8" stroke="#feca79" stroke-width="48"/>
<line x1="319.1" y1="85.9" x2="319.9" y2="83.9" stroke="#fdc776" stroke-width="48"/>
<line x1="319.4" y1="85.0" x2="320.3" y2="83.0" stroke="#fdc372" stroke-width="48"/>
<line x1="319.8" y1="84.1" x2="320.6" y2="82.0" stroke="#fdbf6f" stroke-width="48"/>
<line x1="320.2" y1="83.1" x2="321.0" y2="81.0" stroke="#fdbb6c" stroke-width="48"/>
<line x1="320.6" y1="82.2" x2="321.4" y2="80.0" stroke="#fdb769" stroke-width="48"/>
<line x1="321.0" y1="81.1" x2="321.7" y2="78.9" stroke="#fdb365" stroke-width="48"/>
<line x1="321.4" y1="80.1" x2="322.1" y2="77.8" stroke="#fdae61" stroke-width="48"/>
<line x1="321.7" y1="79.0" x2="322.4" y2="76.7" stroke="#fca95f" stroke-width="48"/>
<line x1="322.1" y1="77.8" x2="322.8" y2="75.5" stroke="#fba35c" stroke-width="48"/>
<line x1="322.4" y1="76.7" x2="323.1" y2="74.3" stroke="#fb9d59" stroke-width="48"/>
<line x1="322.8" y1="75.5" x2="323.4" y2="73.1" stroke="#fa9756" stroke-width="48"/>
<line x1="323.1" y1="74.3" x2="323.7" y2="72.0" stroke="#f99154" stroke-width="48"/>
<line x1="323.4" y1="73.1" x2="324.0" y2="70.8" stroke="#f88b51" stroke-width="48"/>
<line x1="323.7" y1="71.9" x2="324.3" y2="69.6" stroke="#f7854e" stroke-width="48"/>
<line x1="324.0" y1="70.8" x2="324.6" y2="68.5" stroke="#f7804c" stroke-width="48"/>
<line x1="324.3" y1="69.7" x2="324.9" y2="67.4" stroke="#f67a49" stroke-width="48"/>
<line x1="324.6" y1="68.6" x2="325.1" y2="66.4" stroke="#f57547" stroke-width="48"/>
<line x1="324.8" y1="67.6" x2="325.3" y2="65.4" stroke="#f47044" stroke-width="48"/>
<line x1="325.1" y1="66.6" x2="325.5" y2="64.5" stroke="#f36b43" stroke-width="48"/>
<line x1="325.3" y1="65.7" x2="325.7" y2="63.6" stroke="#f16844" stroke-width="48"/>
<line x1="325.5" y1="64.8" x2="325.9" y2="62.7" stroke="#ef6545" stroke-width="48"/>
<line x1="325.7" y1="63.9" x2="326.1" y2="61.9" stroke="#ed6246" stroke-width="48"/>
<line x1="325.8" y1="63.1" x2="326.2" y2="61.1" stroke="#eb5f47" stroke-width="48"/>
<line x1="326.0" y1="62.3" x2="326.3" y2="60.3" stroke="#e95c47" stroke-width="48"/>
<line x1="326.1" y1="61.5" x2="326.5" y2="59.5" stroke="#e75948" stroke-width="48"/>
<line x1="326.3" y1="60.7" x2="326.6" y2="58.8" stroke="#e55749" stroke-width="48"/>
<line x1="326.4" y1="60.0" x2="326.7" y2="58.0" stroke="#e35449" stroke-width="48"/>
<line x1="326.5" y1="59.2" x2="326.8" y2="57.3" stroke="#e2514a" stroke-width="48"/>
<line x1="326.6" y1="58.5" x2="326.8" y2="56.6" stroke="#e04f4b" stroke-width="48"/>
<line x1="326.7" y1="57.8" x2="326.9" y2="55.9" stroke="#de4c4b" stroke-width="48"/>
<line x1="326.8" y1="57.0" x2="327.0" y2="55.1" stroke="#dd4a4c" stroke-width="48"/>
<line x1="326.9" y1="56.3" x2="327.1" y2="54.4" stroke="#db474d" stroke-width="48"/>
<line x1="326.9" y1="55.6" x2="327.1" y2="53.7" stroke="#d9444d" stroke-width="48"/>
<line x1="327.0" y1="54.9" x2="327.2" y2="52.9" stroke="#d7424e" stroke-width="48"/>
<line x1="327.1" y1="54.1" x2="327.2" y2="52.1" stroke="#d63f4f" stroke-width="48"/>
<line x1="327.1" y1="53.3" x2="327.2" y2="51.3" stroke="#d33c4e" stroke-width="48"/>
<line x1="327.2" y1="52.5" x2="327.2" y2="50.5" stroke="#d0384e" stroke-width="48"/>
<line x1="327.2" y1="51.7" x2="327.2" y2="49.7" stroke="#cc344d" stroke-width="48"/>
<line x1="327.2" y1="50.9" x2="327.2" y2="49.0" stroke="#c9314c" stroke-width="48"/>
<line x1="327.2" y1="50.2" x2="327.2" y2="48.2" stroke="#c62d4b" stroke-width="48"/>
<line x1="327.2" y1="49.4" x2="327.2" y2="47.5" stroke="#c32a4b" stroke-width="48"/>
<line x1="327.2" y1="48.7" x2="327.2" y2="46.9" stroke="#c0274a" stroke-width="48"/>
<line x1="327.2" y1="48.1" x2="327.2" y2="46.3" stroke="#be2449" stroke-width="48"/>
<line x1="327.2" y1="47.5" x2="327.2" y2="45.7" stroke="#bb2249" stroke-width="48"/>
<line x1="327.2" y1="46.9" x2="327.2" y2="45.3" stroke="#b91f48" stroke-width="48"/>
<line x1="327.2" y1="46.5" x2="327.2" y2="44.9" stroke="#b81d48" stroke-width="48"/>
<line x1="327.2" y1="46.1" x2="327.3" y2="38.9" stroke="#aa0f45" stroke-width="48"/>
</g></g>
<path d="M247.0,42.0 C246.2,44.4 243.5,52.2 242.1,56.1 C240.7,60.0 239.5,62.4 238.4,65.1 C237.3,67.8 236.9,70.0 235.7,72.4 C234.5,74.8 233.0,77.5 231.2,79.6 C229.4,81.7 227.4,83.3 224.9,85.1 C222.4,86.9 218.8,88.6 216.2,90.4 C213.5,92.2 211.1,93.9 209.0,95.9 C206.9,97.9 205.2,99.7 203.5,102.2 C201.8,104.8 200.3,108.0 199.0,111.2 C197.7,114.4 196.5,117.9 195.4,121.2 C194.3,124.5 193.4,128.9 192.7,131.2 C192.0,133.5 191.5,134.4 191.3,135.0" fill="none" stroke="#111" stroke-width="1"/>
<path d="M187.9,142.8 L187.6,133.4 L194,136.2 Z" fill="#000"/>
<path d="M259.5,136.6 C261.0,135.7 265.6,133.0 268.6,131.2 C271.6,129.4 274.6,127.5 277.6,125.7 C280.6,123.9 283.7,122.2 286.7,120.3 C289.7,118.3 292.7,116.4 295.7,114.0 C298.7,111.6 301.6,109.1 304.8,105.8 C308.0,102.5 312.0,98.0 314.7,94.0 C317.4,90.0 319.1,86.3 320.8,81.6 C322.6,76.9 324.2,70.4 325.2,66.0 C326.2,61.6 326.7,58.4 327.0,55.0 C327.3,51.6 327.2,47.1 327.2,45.5" fill="none" stroke="#111" stroke-width="1"/>
<path d="M326.3,35.4 L325.2,45.6 L331,44.4 Z" fill="#000"/>
<text x="237.9" y="157.1" font-size="9.8" font-weight="normal" font-style="normal" text-anchor="start" fill="#111" color="#111" style="stroke-width:0.55px">Early</text>
<text x="329.8" y="157.1" font-size="9.8" font-weight="normal" font-style="normal" text-anchor="end" fill="#111" color="#111" style="stroke-width:0.55px">Late</text>
<line x1="237.3" y1="162.8" x2="331.9" y2="162.8" stroke="#111" stroke-width="1.3" />
<path d="M330.9,159.9 L339.4,162.8 L330.9,165.7 Z" fill="#111"/>
<circle cx="238.3" cy="176.1" r="2.50" fill="#6a3ab5"/>
<circle cx="248.3" cy="176.1" r="2.50" fill="#2a2e9a"/>
<circle cx="258.4" cy="176.1" r="2.50" fill="#3a7bc8"/>
<circle cx="268.7" cy="176.1" r="2.50" fill="#5ab8e8"/>
<circle cx="278.7" cy="176.1" r="2.50" fill="#4cc27a"/>
<circle cx="288.6" cy="176.1" r="2.50" fill="#8acb3c"/>
<circle cx="298.4" cy="176.1" r="2.50" fill="#e8f03a"/>
<circle cx="307.9" cy="176.1" r="2.50" fill="#eaa042"/>
<circle cx="317.4" cy="176.1" r="2.50" fill="#f06a32"/>
<circle cx="327.1" cy="176.1" r="2.50" fill="#f0201a"/>
<circle cx="337.4" cy="176.1" r="2.50" fill="#a0226e"/>
<text x="54.8" y="211.2" font-size="9.6" font-weight="bold" font-style="normal" text-anchor="start" fill="#1a1a1a" color="#1a1a1a" >Rod marker genes</text>
<text x="57.2" y="225.6" font-size="9.8" font-weight="bold" fill="#1a1a1a">Wild type &amp; <tspan font-style="italic">Rpgr<tspan font-size="7.2" dy="-3.6">ORFd5</tspan></tspan></text>
<line x1="64.7" y1="229.8" x2="64.7" y2="311.3" stroke="#111" stroke-width="1.3" />
<line x1="64.1" y1="310.7" x2="141.9" y2="310.7" stroke="#111" stroke-width="1.3" />
<line x1="61.7" y1="246.0" x2="64.7" y2="246.0" stroke="#111" stroke-width="0.9" />
<text x="60.9" y="249.3" font-size="9.4" font-weight="normal" font-style="italic" text-anchor="end" fill="#222" color="#222" >Gnb1</text>
<circle cx="74.7" cy="246.0" r="4.30" fill="#dfe442"/>
<circle cx="92.6" cy="246.0" r="4.30" fill="#acdc50"/>
<circle cx="110.0" cy="246.0" r="4.30" fill="#9bd85b"/>
<circle cx="127.4" cy="246.0" r="4.30" fill="#77cf71"/>
<line x1="61.7" y1="268.9" x2="64.7" y2="268.9" stroke="#111" stroke-width="0.9" />
<text x="60.9" y="272.2" font-size="9.4" font-weight="normal" font-style="italic" text-anchor="end" fill="#222" color="#222" >Gnat1</text>
<circle cx="74.7" cy="268.9" r="4.30" fill="#dfe442"/>
<circle cx="92.6" cy="268.9" r="3.90" fill="#acdc50"/>
<circle cx="110.0" cy="268.9" r="3.90" fill="#9bd85b"/>
<circle cx="127.4" cy="268.9" r="3.30" fill="#80d16c"/>
<line x1="61.7" y1="294.0" x2="64.7" y2="294.0" stroke="#111" stroke-width="0.9" />
<text x="60.9" y="297.3" font-size="9.4" font-weight="normal" font-style="italic" text-anchor="end" fill="#222" color="#222" >Rho</text>
<circle cx="74.7" cy="294.0" r="4.50" fill="#dfe442"/>
<circle cx="92.6" cy="294.0" r="4.30" fill="#9bd85b"/>
<circle cx="110.0" cy="294.0" r="4.30" fill="#90d663"/>
<circle cx="127.4" cy="294.0" r="4.30" fill="#77cf71"/>
<line x1="74.7" y1="310.7" x2="74.7" y2="313.2" stroke="#111" stroke-width="0.9" />
<text x="74.7" y="319.9" font-size="8.6" font-weight="normal" font-style="normal" text-anchor="middle" fill="#222" color="#222" >3</text>
<line x1="92.6" y1="310.7" x2="92.6" y2="313.2" stroke="#111" stroke-width="0.9" />
<text x="92.6" y="319.9" font-size="8.6" font-weight="normal" font-style="normal" text-anchor="middle" fill="#222" color="#222" >2</text>
<line x1="110.0" y1="310.7" x2="110.0" y2="313.2" stroke="#111" stroke-width="0.9" />
<text x="110.0" y="319.9" font-size="8.6" font-weight="normal" font-style="normal" text-anchor="middle" fill="#222" color="#222" >1</text>
<line x1="127.4" y1="310.7" x2="127.4" y2="313.2" stroke="#111" stroke-width="0.9" />
<text x="127.4" y="319.9" font-size="8.6" font-weight="normal" font-style="normal" text-anchor="middle" fill="#222" color="#222" >0</text>
<text x="101.2" y="328.1" font-size="9.6" font-weight="normal" font-style="normal" text-anchor="middle" fill="#222" color="#222" >Rod photoreceptor</text>
<text x="102.4" y="338.6" font-size="9.6" font-weight="normal" font-style="normal" text-anchor="middle" fill="#222" color="#222" >clusters</text>
<line x1="65.5" y1="344.3" x2="136.2" y2="344.3" stroke="#3a3a3a" stroke-width="1.3" />
<path d="M135.2,341.4 L143.2,344.3 L135.2,347.2 Z" fill="#3a3a3a"/>
<text x="61.2" y="353.6" font-size="9.4" font-weight="bold" font-style="normal" text-anchor="start" fill="#1a1a1a" color="#1a1a1a" >Early</text>
<text x="147.7" y="353.6" font-size="9.4" font-weight="bold" font-style="normal" text-anchor="end" fill="#1a1a1a" color="#1a1a1a" >Late</text>
<text x="115.6" y="375.2" font-size="9.5" font-weight="normal" font-style="normal" text-anchor="start" fill="#222" color="#222" >Average</text>
<text x="115.6" y="384.7" font-size="9.5" font-weight="normal" font-style="normal" text-anchor="start" fill="#222" color="#222" >expression:</text>
<text x="19.7" y="387.8" font-size="9.5" font-weight="normal" font-style="normal" text-anchor="start" fill="#222" color="#222" >Percent expressed:</text>
<circle cx="20.2" cy="396.5" r="1.10" fill="#000"/>
<text x="22.9" y="399.6" font-size="8.6" font-weight="normal" font-style="normal" text-anchor="start" fill="#222" color="#222" >40</text>
<circle cx="38.3" cy="396.5" r="2.00" fill="#000"/>
<text x="41.5" y="399.6" font-size="8.6" font-weight="normal" font-style="normal" text-anchor="start" fill="#222" color="#222" >60</text>
<circle cx="57.2" cy="396.5" r="3.00" fill="#000"/>
<text x="61.2" y="399.6" font-size="8.6" font-weight="normal" font-style="normal" text-anchor="start" fill="#222" color="#222" >80</text>
<circle cx="80.6" cy="396.5" r="4.20" fill="#000"/>
<text x="86.3" y="399.6" font-size="8.6" font-weight="normal" font-style="normal" text-anchor="start" fill="#222" color="#222" >100</text>
<defs><linearGradient id="cb1" x1="0" y1="0" x2="0" y2="1"><stop offset="0.00" stop-color="#fae841"/><stop offset="0.10" stop-color="#c3e142"/><stop offset="0.20" stop-color="#8ad567"/><stop offset="0.30" stop-color="#5bc581"/><stop offset="0.40" stop-color="#3eb192"/><stop offset="0.50" stop-color="#369a96"/><stop offset="0.60" stop-color="#388095"/><stop offset="0.70" stop-color="#3b6490"/><stop offset="0.80" stop-color="#414487"/><stop offset="0.90" stop-color="#482475"/><stop offset="1.00" stop-color="#440154"/></linearGradient></defs>
<rect x="120" y="390" width="8.2" height="41.60000000000002" fill="url(#cb1)"/>
<line x1="120.0" y1="398.0" x2="121.8" y2="398.0" stroke="#ffffff" stroke-width="0.8" />
<line x1="126.4" y1="398.0" x2="128.2" y2="398.0" stroke="#ffffff" stroke-width="0.8" />
<text x="131.8" y="401.1" font-size="8.4" font-weight="normal" font-style="normal" text-anchor="start" fill="#222" color="#222" >1</text>
<line x1="120.0" y1="411.1" x2="121.8" y2="411.1" stroke="#ffffff" stroke-width="0.8" />
<line x1="126.4" y1="411.1" x2="128.2" y2="411.1" stroke="#ffffff" stroke-width="0.8" />
<text x="131.8" y="414.2" font-size="8.4" font-weight="normal" font-style="normal" text-anchor="start" fill="#222" color="#222" >0</text>
<line x1="120.0" y1="424.2" x2="121.8" y2="424.2" stroke="#ffffff" stroke-width="0.8" />
<line x1="126.4" y1="424.2" x2="128.2" y2="424.2" stroke="#ffffff" stroke-width="0.8" />
<text x="131.8" y="427.3" font-size="8.4" font-weight="normal" font-style="normal" text-anchor="start" fill="#222" color="#222" >−1</text>
<text x="205.6" y="211.2" font-size="9.6" font-weight="bold" font-style="normal" text-anchor="start" fill="#1a1a1a" color="#1a1a1a" >Rod marker genes</text>
<text x="207.8" y="225.6" font-size="9.8" font-weight="bold" fill="#1a1a1a">Wild type &amp; <tspan font-style="italic">Rpgr<tspan font-size="7.2" dy="-3.6">Ex3d8</tspan></tspan></text>
<line x1="202.3" y1="234.3" x2="202.3" y2="308.1" stroke="#111" stroke-width="1.3" />
<line x1="201.7" y1="307.5" x2="305.6" y2="307.5" stroke="#111" stroke-width="1.3" />
<line x1="199.3" y1="249.7" x2="202.3" y2="249.7" stroke="#111" stroke-width="0.9" />
<text x="198.5" y="253.0" font-size="9.4" font-weight="normal" font-style="italic" text-anchor="end" fill="#222" color="#222" >Gnb1</text>
<circle cx="214.0" cy="249.7" r="4.30" fill="#eae641"/>
<circle cx="233.9" cy="249.7" r="4.10" fill="#acdc50"/>
<circle cx="253.9" cy="249.7" r="4.10" fill="#8ad567"/>
<circle cx="273.5" cy="249.7" r="4.10" fill="#7cd06e"/>
<circle cx="293.2" cy="249.7" r="4.10" fill="#65c97c"/>
<line x1="199.3" y1="270.1" x2="202.3" y2="270.1" stroke="#111" stroke-width="0.9" />
<text x="198.5" y="273.4" font-size="9.4" font-weight="normal" font-style="italic" text-anchor="end" fill="#222" color="#222" >Gnat1</text>
<circle cx="214.0" cy="270.1" r="4.30" fill="#eae641"/>
<circle cx="233.9" cy="270.1" r="4.10" fill="#b2dd4d"/>
<circle cx="253.9" cy="270.1" r="3.90" fill="#8ad567"/>
<circle cx="273.5" cy="270.1" r="3.70" fill="#7cd06e"/>
<circle cx="293.2" cy="270.1" r="2.90" fill="#65c97c"/>
<line x1="199.3" y1="292.0" x2="202.3" y2="292.0" stroke="#111" stroke-width="0.9" />
<text x="198.5" y="295.3" font-size="9.4" font-weight="normal" font-style="italic" text-anchor="end" fill="#222" color="#222" >Rho</text>
<circle cx="214.0" cy="292.0" r="4.30" fill="#eae641"/>
<circle cx="233.9" cy="292.0" r="4.10" fill="#a7db54"/>
<circle cx="253.9" cy="292.0" r="4.10" fill="#8ad567"/>
<circle cx="273.5" cy="292.0" r="4.10" fill="#7cd06e"/>
<circle cx="293.2" cy="292.0" r="4.10" fill="#65c97c"/>
<line x1="214.0" y1="307.5" x2="214.0" y2="310.0" stroke="#111" stroke-width="0.9" />
<text x="214.0" y="316.7" font-size="8.6" font-weight="normal" font-style="normal" text-anchor="middle" fill="#222" color="#222" >4</text>
<line x1="233.9" y1="307.5" x2="233.9" y2="310.0" stroke="#111" stroke-width="0.9" />
<text x="233.9" y="316.7" font-size="8.6" font-weight="normal" font-style="normal" text-anchor="middle" fill="#222" color="#222" >3</text>
<line x1="253.9" y1="307.5" x2="253.9" y2="310.0" stroke="#111" stroke-width="0.9" />
<text x="253.9" y="316.7" font-size="8.6" font-weight="normal" font-style="normal" text-anchor="middle" fill="#222" color="#222" >0</text>
<line x1="273.5" y1="307.5" x2="273.5" y2="310.0" stroke="#111" stroke-width="0.9" />
<text x="273.5" y="316.7" font-size="8.6" font-weight="normal" font-style="normal" text-anchor="middle" fill="#222" color="#222" >1</text>
<line x1="293.2" y1="307.5" x2="293.2" y2="310.0" stroke="#111" stroke-width="0.9" />
<text x="293.2" y="316.7" font-size="8.6" font-weight="normal" font-style="normal" text-anchor="middle" fill="#222" color="#222" >2</text>
<text x="256.4" y="326.9" font-size="9.6" font-weight="normal" font-style="normal" text-anchor="middle" fill="#222" color="#222" >Rod photoreceptor</text>
<text x="257.3" y="337.3" font-size="9.6" font-weight="normal" font-style="normal" text-anchor="middle" fill="#222" color="#222" >clusters</text>
<line x1="210.5" y1="344.0" x2="293.1" y2="344.0" stroke="#3a3a3a" stroke-width="1.3" />
<path d="M292.1,341.1 L300.1,344.0 L292.1,346.9 Z" fill="#3a3a3a"/>
<text x="208.4" y="353.6" font-size="9.4" font-weight="bold" font-style="normal" text-anchor="start" fill="#1a1a1a" color="#1a1a1a" >Early</text>
<text x="304.8" y="353.6" font-size="9.4" font-weight="bold" font-style="normal" text-anchor="end" fill="#1a1a1a" color="#1a1a1a" >Late</text>
<text x="284.5" y="373.4" font-size="9.5" font-weight="normal" font-style="normal" text-anchor="start" fill="#222" color="#222" >Average</text>
<text x="284.5" y="381.8" font-size="9.5" font-weight="normal" font-style="normal" text-anchor="start" fill="#222" color="#222" >expression:</text>
<text x="188.1" y="387.3" font-size="9.5" font-weight="normal" font-style="normal" text-anchor="start" fill="#222" color="#222" >Percent expressed:</text>
<circle cx="188.6" cy="396.2" r="1.10" fill="#000"/>
<text x="192.0" y="399.3" font-size="8.6" font-weight="normal" font-style="normal" text-anchor="start" fill="#222" color="#222" >40</text>
<circle cx="207.6" cy="396.2" r="2.00" fill="#000"/>
<text x="211.3" y="399.3" font-size="8.6" font-weight="normal" font-style="normal" text-anchor="start" fill="#222" color="#222" >60</text>
<circle cx="229.4" cy="396.2" r="3.00" fill="#000"/>
<text x="234.0" y="399.3" font-size="8.6" font-weight="normal" font-style="normal" text-anchor="start" fill="#222" color="#222" >80</text>
<circle cx="253.0" cy="396.2" r="4.20" fill="#000"/>
<text x="257.7" y="399.3" font-size="8.6" font-weight="normal" font-style="normal" text-anchor="start" fill="#222" color="#222" >100</text>
<defs><linearGradient id="cb2" x1="0" y1="0" x2="0" y2="1"><stop offset="0.00" stop-color="#fae841"/><stop offset="0.10" stop-color="#c3e142"/><stop offset="0.20" stop-color="#8ad567"/><stop offset="0.30" stop-color="#5bc581"/><stop offset="0.40" stop-color="#3eb192"/><stop offset="0.50" stop-color="#369a96"/><stop offset="0.60" stop-color="#388095"/><stop offset="0.70" stop-color="#3b6490"/><stop offset="0.80" stop-color="#414487"/><stop offset="0.90" stop-color="#482475"/><stop offset="1.00" stop-color="#440154"/></linearGradient></defs>
<rect x="288.6" y="387.1" width="8.4" height="41.799999999999955" fill="url(#cb2)"/>
<line x1="288.6" y1="395.0" x2="290.4" y2="395.0" stroke="#ffffff" stroke-width="0.8" />
<line x1="295.2" y1="395.0" x2="297.0" y2="395.0" stroke="#ffffff" stroke-width="0.8" />
<text x="300.6" y="398.1" font-size="8.4" font-weight="normal" font-style="normal" text-anchor="start" fill="#222" color="#222" >1</text>
<line x1="288.6" y1="408.3" x2="290.4" y2="408.3" stroke="#ffffff" stroke-width="0.8" />
<line x1="295.2" y1="408.3" x2="297.0" y2="408.3" stroke="#ffffff" stroke-width="0.8" />
<text x="300.6" y="411.4" font-size="8.4" font-weight="normal" font-style="normal" text-anchor="start" fill="#222" color="#222" >0</text>
<line x1="288.6" y1="421.3" x2="290.4" y2="421.3" stroke="#ffffff" stroke-width="0.8" />
<line x1="295.2" y1="421.3" x2="297.0" y2="421.3" stroke="#ffffff" stroke-width="0.8" />
<text x="300.6" y="424.4" font-size="8.4" font-weight="normal" font-style="normal" text-anchor="start" fill="#222" color="#222" >−1</text>
<text x="428.0" y="13.1" font-size="9.72" font-weight="bold" font-style="normal" text-anchor="start" fill="#1a1a1a" color="#1a1a1a" >PI3K-AKT pathway gene expression</text>
<text x="428" y="27.6" font-size="9.72" font-weight="bold" fill="#1a1a1a">Wild type &amp; <tspan font-style="italic">Rpgr<tspan font-size="6.9" dy="-3.4">ORFd5</tspan></tspan><tspan dy="3.4"> rod clusters</tspan></text>
<line x1="416.3" y1="34.4" x2="416.3" y2="142.2" stroke="#111" stroke-width="1.4" />
<line x1="415.6" y1="141.5" x2="630.0" y2="141.5" stroke="#111" stroke-width="1.4" />
<line x1="413.3" y1="46.2" x2="416.3" y2="46.2" stroke="#111" stroke-width="0.9" />
<text x="412.5" y="49.3" font-size="9.8" font-weight="normal" font-style="italic" text-anchor="end" fill="#222" color="#222" >Itga4</text>
<circle cx="433.4" cy="46.2" r="3.40" fill="#460f61"/>
<circle cx="459.2" cy="46.2" r="3.60" fill="#378595"/>
<circle cx="485.0" cy="46.2" r="3.20" fill="#3ba694"/>
<circle cx="510.8" cy="46.2" r="3.20" fill="#55c185"/>
<circle cx="536.9" cy="46.2" r="2.90" fill="#414487"/>
<circle cx="562.8" cy="46.2" r="3.70" fill="#3dad93"/>
<circle cx="588.9" cy="46.2" r="3.70" fill="#4fbd88"/>
<circle cx="614.6" cy="46.2" r="3.70" fill="#c3e142"/>
<line x1="413.3" y1="63.4" x2="416.3" y2="63.4" stroke="#111" stroke-width="0.9" />
<text x="412.5" y="66.5" font-size="9.8" font-weight="normal" font-style="italic" text-anchor="end" fill="#222" color="#222" >Raf1</text>
<circle cx="433.4" cy="63.4" r="2.20" fill="#460f61"/>
<circle cx="459.2" cy="63.4" r="2.40" fill="#369a96"/>
<circle cx="485.0" cy="63.4" r="2.40" fill="#3ba994"/>
<circle cx="510.8" cy="63.4" r="2.40" fill="#55c185"/>
<circle cx="536.9" cy="63.4" r="2.50" fill="#414487"/>
<circle cx="562.8" cy="63.4" r="2.70" fill="#38a095"/>
<circle cx="588.9" cy="63.4" r="2.40" fill="#369a96"/>
<circle cx="614.6" cy="63.4" r="2.40" fill="#acdc50"/>
<line x1="413.3" y1="80.4" x2="416.3" y2="80.4" stroke="#111" stroke-width="0.9" />
<text x="412.5" y="83.5" font-size="9.8" font-weight="normal" font-style="italic" text-anchor="end" fill="#222" color="#222" >Ripk1</text>
<circle cx="433.4" cy="80.4" r="1.10" fill="#471d6e"/>
<circle cx="459.2" cy="80.4" r="1.60" fill="#3a6c91"/>
<circle cx="485.0" cy="80.4" r="1.60" fill="#3ba994"/>
<circle cx="510.8" cy="80.4" r="1.60" fill="#3ba994"/>
<circle cx="536.9" cy="80.4" r="2.00" fill="#3a7393"/>
<circle cx="562.8" cy="80.4" r="1.80" fill="#3b6490"/>
<circle cx="588.9" cy="80.4" r="2.00" fill="#3ba994"/>
<circle cx="614.6" cy="80.4" r="2.00" fill="#e4e541"/>
<line x1="413.3" y1="97.4" x2="416.3" y2="97.4" stroke="#111" stroke-width="0.9" />
<text x="412.5" y="100.5" font-size="9.8" font-weight="normal" font-style="italic" text-anchor="end" fill="#222" color="#222" >Rptor</text>
<circle cx="433.4" cy="97.4" r="2.40" fill="#3e558c"/>
<circle cx="459.2" cy="97.4" r="2.20" fill="#369a96"/>
<circle cx="485.0" cy="97.4" r="2.60" fill="#95d75f"/>
<circle cx="510.8" cy="97.4" r="2.20" fill="#3ba994"/>
<circle cx="536.9" cy="97.4" r="1.90" fill="#461668"/>
<circle cx="562.8" cy="97.4" r="2.00" fill="#3c5e8f"/>
<circle cx="588.9" cy="97.4" r="2.40" fill="#379096"/>
<circle cx="614.6" cy="97.4" r="2.40" fill="#b8de49"/>
<line x1="413.3" y1="114.4" x2="416.3" y2="114.4" stroke="#111" stroke-width="0.9" />
<text x="412.5" y="117.5" font-size="9.8" font-weight="normal" font-style="italic" text-anchor="end" fill="#222" color="#222" >Stat2</text>
<circle cx="433.4" cy="114.4" r="2.60" fill="#414487"/>
<circle cx="459.2" cy="114.4" r="2.60" fill="#379096"/>
<circle cx="485.0" cy="114.4" r="2.40" fill="#3eb192"/>
<circle cx="510.8" cy="114.4" r="2.20" fill="#77cf71"/>
<circle cx="536.9" cy="114.4" r="2.00" fill="#440154"/>
<circle cx="562.8" cy="114.4" r="2.40" fill="#379096"/>
<circle cx="588.9" cy="114.4" r="2.40" fill="#3ba994"/>
<circle cx="614.6" cy="114.4" r="2.30" fill="#8ad567"/>
<line x1="413.3" y1="131.3" x2="416.3" y2="131.3" stroke="#111" stroke-width="0.9" />
<text x="412.5" y="134.4" font-size="9.8" font-weight="normal" font-style="italic" text-anchor="end" fill="#222" color="#222" >Ube2d3</text>
<circle cx="433.4" cy="131.3" r="5.40" fill="#388095"/>
<circle cx="459.2" cy="131.3" r="4.40" fill="#388095"/>
<circle cx="485.0" cy="131.3" r="4.00" fill="#4fbd88"/>
<circle cx="510.8" cy="131.3" r="3.80" fill="#95d75f"/>
<circle cx="536.9" cy="131.3" r="4.20" fill="#482475"/>
<circle cx="562.8" cy="131.3" r="4.60" fill="#404a89"/>
<circle cx="588.9" cy="131.3" r="4.00" fill="#387b94"/>
<circle cx="614.6" cy="131.3" r="4.00" fill="#a1da58"/>
<line x1="433.4" y1="141.5" x2="433.4" y2="144.0" stroke="#111" stroke-width="0.9" />
<text x="433.4" y="152.0" font-size="8.6" font-weight="normal" font-style="normal" text-anchor="middle" fill="#222" color="#222" >3</text>
<line x1="459.2" y1="141.5" x2="459.2" y2="144.0" stroke="#111" stroke-width="0.9" />
<text x="459.2" y="152.0" font-size="8.6" font-weight="normal" font-style="normal" text-anchor="middle" fill="#222" color="#222" >2</text>
<line x1="485.0" y1="141.5" x2="485.0" y2="144.0" stroke="#111" stroke-width="0.9" />
<text x="485.0" y="152.0" font-size="8.6" font-weight="normal" font-style="normal" text-anchor="middle" fill="#222" color="#222" >1</text>
<line x1="510.8" y1="141.5" x2="510.8" y2="144.0" stroke="#111" stroke-width="0.9" />
<text x="510.8" y="152.0" font-size="8.6" font-weight="normal" font-style="normal" text-anchor="middle" fill="#222" color="#222" >0</text>
<line x1="536.9" y1="141.5" x2="536.9" y2="144.0" stroke="#111" stroke-width="0.9" />
<text x="536.9" y="152.0" font-size="8.6" font-weight="normal" font-style="normal" text-anchor="middle" fill="#222" color="#222" >3</text>
<line x1="562.8" y1="141.5" x2="562.8" y2="144.0" stroke="#111" stroke-width="0.9" />
<text x="562.8" y="152.0" font-size="8.6" font-weight="normal" font-style="normal" text-anchor="middle" fill="#222" color="#222" >2</text>
<line x1="588.9" y1="141.5" x2="588.9" y2="144.0" stroke="#111" stroke-width="0.9" />
<text x="588.9" y="152.0" font-size="8.6" font-weight="normal" font-style="normal" text-anchor="middle" fill="#222" color="#222" >1</text>
<line x1="614.6" y1="141.5" x2="614.6" y2="144.0" stroke="#111" stroke-width="0.9" />
<text x="614.6" y="152.0" font-size="8.6" font-weight="normal" font-style="normal" text-anchor="middle" fill="#222" color="#222" >0</text>
<line x1="429.9" y1="155.3" x2="519.1" y2="155.3" stroke="#555" stroke-width="1" />
<line x1="527.3" y1="155.3" x2="616.3" y2="155.3" stroke="#555" stroke-width="1" />
<text x="473.0" y="166.5" font-size="9.5" font-weight="normal" font-style="normal" text-anchor="middle" fill="#222" color="#222" >Wild type</text>
<text x="557.3" y="166.0" font-size="9.5" font-weight="normal" font-style="italic" text-anchor="start" fill="#222" color="#222">Rpgr<tspan font-size="6.74" dy="-3.4">ORFd5</tspan></text>
<line x1="429.9" y1="171.9" x2="512.6" y2="171.9" stroke="#3a3a3a" stroke-width="1.3" />
<path d="M511.6,169.0 L519.6,171.9 L511.6,174.8 Z" fill="#3a3a3a"/>
<line x1="527.3" y1="172.0" x2="609.3" y2="172.0" stroke="#3a3a3a" stroke-width="1.3" />
<path d="M608.3,169.1 L616.3,172.0 L608.3,174.9 Z" fill="#3a3a3a"/>
<text x="425.7" y="183.4" font-size="9.4" font-weight="bold" font-style="normal" text-anchor="start" fill="#1a1a1a" color="#1a1a1a" >Early</text>
<text x="516.3" y="183.4" font-size="9.4" font-weight="bold" font-style="normal" text-anchor="end" fill="#1a1a1a" color="#1a1a1a" >Late</text>
<text x="530.1" y="183.6" font-size="9.4" font-weight="bold" font-style="normal" text-anchor="start" fill="#1a1a1a" color="#1a1a1a" >Early</text>
<text x="613.4" y="183.6" font-size="9.4" font-weight="bold" font-style="normal" text-anchor="end" fill="#1a1a1a" color="#1a1a1a" >Late</text>
<text x="633.2" y="173.7" font-size="9.4" font-weight="normal" font-style="normal" text-anchor="start" fill="#222" color="#222" >Average</text>
<text x="633.2" y="184.6" font-size="9.4" font-weight="normal" font-style="normal" text-anchor="start" fill="#222" color="#222" >expression:</text>
<text x="528.9" y="205.5" font-size="9.4" font-weight="normal" font-style="normal" text-anchor="start" fill="#222" color="#222" >Percent expressed:</text>
<circle cx="541.2" cy="216.6" r="3.40" fill="#000"/>
<text x="545.6" y="219.1" font-size="8.6" font-weight="normal" font-style="normal" text-anchor="start" fill="#222" color="#222" >20</text>
<circle cx="563.4" cy="216.6" r="4.30" fill="#000"/>
<text x="568.0" y="219.1" font-size="8.6" font-weight="normal" font-style="normal" text-anchor="start" fill="#222" color="#222" >40</text>
<circle cx="586.2" cy="216.6" r="5.30" fill="#000"/>
<text x="592.0" y="219.1" font-size="8.6" font-weight="normal" font-style="normal" text-anchor="start" fill="#222" color="#222" >60</text>
<defs><linearGradient id="cb3" x1="0" y1="0" x2="0" y2="1"><stop offset="0.00" stop-color="#fae841"/><stop offset="0.10" stop-color="#c3e142"/><stop offset="0.20" stop-color="#8ad567"/><stop offset="0.30" stop-color="#5bc581"/><stop offset="0.40" stop-color="#3eb192"/><stop offset="0.50" stop-color="#369a96"/><stop offset="0.60" stop-color="#388095"/><stop offset="0.70" stop-color="#3b6490"/><stop offset="0.80" stop-color="#414487"/><stop offset="0.90" stop-color="#482475"/><stop offset="1.00" stop-color="#440154"/></linearGradient></defs>
<rect x="633.2" y="187" width="7.8" height="40.69999999999999" fill="url(#cb3)"/>
<line x1="633.2" y1="197.5" x2="635.0" y2="197.5" stroke="#ffffff" stroke-width="0.8" />
<line x1="639.2" y1="197.5" x2="641.0" y2="197.5" stroke="#ffffff" stroke-width="0.8" />
<text x="644.6" y="200.6" font-size="8.4" font-weight="normal" font-style="normal" text-anchor="start" fill="#222" color="#222" >1</text>
<line x1="633.2" y1="208.5" x2="635.0" y2="208.5" stroke="#ffffff" stroke-width="0.8" />
<line x1="639.2" y1="208.5" x2="641.0" y2="208.5" stroke="#ffffff" stroke-width="0.8" />
<text x="644.6" y="211.6" font-size="8.4" font-weight="normal" font-style="normal" text-anchor="start" fill="#222" color="#222" >0</text>
<line x1="633.2" y1="219.4" x2="635.0" y2="219.4" stroke="#ffffff" stroke-width="0.8" />
<line x1="639.2" y1="219.4" x2="641.0" y2="219.4" stroke="#ffffff" stroke-width="0.8" />
<text x="644.6" y="222.5" font-size="8.4" font-weight="normal" font-style="normal" text-anchor="start" fill="#222" color="#222" >−1</text>
<text x="428.0" y="249.9" font-size="9.72" font-weight="bold" font-style="normal" text-anchor="start" fill="#1a1a1a" color="#1a1a1a" >PI3K-AKT pathway gene expression</text>
<text x="428" y="264.6" font-size="9.72" font-weight="bold" fill="#1a1a1a">Wild type &amp; <tspan font-style="italic">Rpgr<tspan font-size="6.9" dy="-3.4">Ex3d8</tspan></tspan><tspan dy="3.4"> rod clusters</tspan></text>
<line x1="409.9" y1="268.9" x2="409.9" y2="387.6" stroke="#111" stroke-width="1.4" />
<line x1="409.2" y1="386.9" x2="638.2" y2="386.9" stroke="#111" stroke-width="1.4" />
<line x1="406.9" y1="284.8" x2="409.9" y2="284.8" stroke="#111" stroke-width="0.9" />
<text x="406.1" y="287.9" font-size="9.8" font-weight="normal" font-style="italic" text-anchor="end" fill="#222" color="#222" >Itga4</text>
<circle cx="424.6" cy="284.8" r="3.40" fill="#45085b"/>
<circle cx="446.7" cy="284.8" r="3.80" fill="#387b94"/>
<circle cx="468.9" cy="284.8" r="3.40" fill="#378595"/>
<circle cx="491.3" cy="284.8" r="3.40" fill="#3ba694"/>
<circle cx="513.9" cy="284.8" r="3.40" fill="#4fbd88"/>
<circle cx="536.7" cy="284.8" r="4.00" fill="#404a89"/>
<circle cx="559.1" cy="284.8" r="4.60" fill="#4fbd88"/>
<circle cx="581.5" cy="284.8" r="4.40" fill="#8ad567"/>
<circle cx="603.9" cy="284.8" r="3.80" fill="#5bc581"/>
<circle cx="626.3" cy="284.8" r="3.60" fill="#95d75f"/>
<line x1="406.9" y1="302.9" x2="409.9" y2="302.9" stroke="#111" stroke-width="0.9" />
<text x="406.1" y="306.0" font-size="9.8" font-weight="normal" font-style="italic" text-anchor="end" fill="#222" color="#222" >Raf1</text>
<circle cx="424.6" cy="302.9" r="2.40" fill="#440154"/>
<circle cx="446.7" cy="302.9" r="3.00" fill="#44b68f"/>
<circle cx="468.9" cy="302.9" r="2.60" fill="#3dad93"/>
<circle cx="491.3" cy="302.9" r="2.60" fill="#8ad567"/>
<circle cx="513.9" cy="302.9" r="1.80" fill="#378595"/>
<circle cx="536.7" cy="302.9" r="3.00" fill="#404a89"/>
<circle cx="559.1" cy="302.9" r="3.20" fill="#4ab98c"/>
<circle cx="581.5" cy="302.9" r="3.00" fill="#4ab98c"/>
<circle cx="603.9" cy="302.9" r="2.80" fill="#95d75f"/>
<circle cx="626.3" cy="302.9" r="2.00" fill="#378d95"/>
<line x1="406.9" y1="321.2" x2="409.9" y2="321.2" stroke="#111" stroke-width="0.9" />
<text x="406.1" y="324.3" font-size="9.8" font-weight="normal" font-style="italic" text-anchor="end" fill="#222" color="#222" >Ripk1</text>
<circle cx="424.6" cy="321.2" r="1.60" fill="#414487"/>
<circle cx="446.7" cy="321.2" r="2.00" fill="#388095"/>
<circle cx="468.9" cy="321.2" r="1.20" fill="#378d95"/>
<circle cx="491.3" cy="321.2" r="2.00" fill="#5bc581"/>
<circle cx="513.9" cy="321.2" r="1.60" fill="#80d16c"/>
<circle cx="536.7" cy="321.2" r="1.60" fill="#482475"/>
<circle cx="559.1" cy="321.2" r="2.40" fill="#39a495"/>
<circle cx="581.5" cy="321.2" r="2.00" fill="#378d95"/>
<circle cx="603.9" cy="321.2" r="1.80" fill="#3ba694"/>
<circle cx="626.3" cy="321.2" r="1.80" fill="#dfe442"/>
<line x1="406.9" y1="339.4" x2="409.9" y2="339.4" stroke="#111" stroke-width="0.9" />
<text x="406.1" y="342.5" font-size="9.8" font-weight="normal" font-style="italic" text-anchor="end" fill="#222" color="#222" >Rptor</text>
<circle cx="424.6" cy="339.4" r="1.80" fill="#461264"/>
<circle cx="446.7" cy="339.4" r="2.20" fill="#3b6490"/>
<circle cx="468.9" cy="339.4" r="2.00" fill="#3ba694"/>
<circle cx="491.3" cy="339.4" r="2.40" fill="#44b68f"/>
<circle cx="513.9" cy="339.4" r="2.00" fill="#65c97c"/>
<circle cx="536.7" cy="339.4" r="2.40" fill="#3e558c"/>
<circle cx="559.1" cy="339.4" r="2.80" fill="#3dad93"/>
<circle cx="581.5" cy="339.4" r="2.40" fill="#3eb192"/>
<circle cx="603.9" cy="339.4" r="2.60" fill="#4dbc8a"/>
<circle cx="626.3" cy="339.4" r="2.20" fill="#cfe242"/>
<line x1="406.9" y1="357.6" x2="409.9" y2="357.6" stroke="#111" stroke-width="0.9" />
<text x="406.1" y="360.7" font-size="9.8" font-weight="normal" font-style="italic" text-anchor="end" fill="#222" color="#222" >Stat2</text>
<circle cx="424.6" cy="357.6" r="2.20" fill="#44347e"/>
<circle cx="446.7" cy="357.6" r="1.80" fill="#369a96"/>
<circle cx="468.9" cy="357.6" r="2.20" fill="#3ba694"/>
<circle cx="491.3" cy="357.6" r="2.40" fill="#3eb192"/>
<circle cx="513.9" cy="357.6" r="1.80" fill="#73cd73"/>
<circle cx="536.7" cy="357.6" r="2.40" fill="#461264"/>
<circle cx="559.1" cy="357.6" r="2.80" fill="#369a96"/>
<circle cx="581.5" cy="357.6" r="2.60" fill="#80d16c"/>
<circle cx="603.9" cy="357.6" r="2.00" fill="#378d95"/>
<circle cx="626.3" cy="357.6" r="2.00" fill="#a7db54"/>
<line x1="406.9" y1="375.6" x2="409.9" y2="375.6" stroke="#111" stroke-width="0.9" />
<text x="406.1" y="378.7" font-size="9.8" font-weight="normal" font-style="italic" text-anchor="end" fill="#222" color="#222" >Ube2d3</text>
<circle cx="424.6" cy="375.6" r="5.20" fill="#3e558c"/>
<circle cx="446.7" cy="375.6" r="5.00" fill="#378d95"/>
<circle cx="468.9" cy="375.6" r="4.60" fill="#3ba694"/>
<circle cx="491.3" cy="375.6" r="4.20" fill="#65c97c"/>
<circle cx="513.9" cy="375.6" r="4.00" fill="#3dad93"/>
<circle cx="536.7" cy="375.6" r="5.60" fill="#471d6e"/>
<circle cx="559.1" cy="375.6" r="5.20" fill="#378595"/>
<circle cx="581.5" cy="375.6" r="4.80" fill="#3a7393"/>
<circle cx="603.9" cy="375.6" r="4.40" fill="#95d75f"/>
<circle cx="626.3" cy="375.6" r="4.20" fill="#cfe242"/>
<line x1="424.6" y1="386.9" x2="424.6" y2="389.4" stroke="#111" stroke-width="0.9" />
<text x="424.6" y="397.5" font-size="8.6" font-weight="normal" font-style="normal" text-anchor="middle" fill="#222" color="#222" >4</text>
<line x1="446.7" y1="386.9" x2="446.7" y2="389.4" stroke="#111" stroke-width="0.9" />
<text x="446.7" y="397.5" font-size="8.6" font-weight="normal" font-style="normal" text-anchor="middle" fill="#222" color="#222" >3</text>
<line x1="468.9" y1="386.9" x2="468.9" y2="389.4" stroke="#111" stroke-width="0.9" />
<text x="468.9" y="397.5" font-size="8.6" font-weight="normal" font-style="normal" text-anchor="middle" fill="#222" color="#222" >0</text>
<line x1="491.3" y1="386.9" x2="491.3" y2="389.4" stroke="#111" stroke-width="0.9" />
<text x="491.3" y="397.5" font-size="8.6" font-weight="normal" font-style="normal" text-anchor="middle" fill="#222" color="#222" >1</text>
<line x1="513.9" y1="386.9" x2="513.9" y2="389.4" stroke="#111" stroke-width="0.9" />
<text x="513.9" y="397.5" font-size="8.6" font-weight="normal" font-style="normal" text-anchor="middle" fill="#222" color="#222" >2</text>
<line x1="536.7" y1="386.9" x2="536.7" y2="389.4" stroke="#111" stroke-width="0.9" />
<text x="536.7" y="397.5" font-size="8.6" font-weight="normal" font-style="normal" text-anchor="middle" fill="#222" color="#222" >4</text>
<line x1="559.1" y1="386.9" x2="559.1" y2="389.4" stroke="#111" stroke-width="0.9" />
<text x="559.1" y="397.5" font-size="8.6" font-weight="normal" font-style="normal" text-anchor="middle" fill="#222" color="#222" >3</text>
<line x1="581.5" y1="386.9" x2="581.5" y2="389.4" stroke="#111" stroke-width="0.9" />
<text x="581.5" y="397.5" font-size="8.6" font-weight="normal" font-style="normal" text-anchor="middle" fill="#222" color="#222" >0</text>
<line x1="603.9" y1="386.9" x2="603.9" y2="389.4" stroke="#111" stroke-width="0.9" />
<text x="603.9" y="397.5" font-size="8.6" font-weight="normal" font-style="normal" text-anchor="middle" fill="#222" color="#222" >1</text>
<line x1="626.3" y1="386.9" x2="626.3" y2="389.4" stroke="#111" stroke-width="0.9" />
<text x="626.3" y="397.5" font-size="8.6" font-weight="normal" font-style="normal" text-anchor="middle" fill="#222" color="#222" >2</text>
<line x1="421.7" y1="400.4" x2="517.5" y2="400.4" stroke="#999" stroke-width="1.5" />
<line x1="532.2" y1="400.4" x2="631.3" y2="400.4" stroke="#999" stroke-width="1.5" />
<text x="469.0" y="411.3" font-size="9.5" font-weight="normal" font-style="normal" text-anchor="middle" fill="#222" color="#222" >Wild type</text>
<text x="563.0" y="411.3" font-size="9.5" font-weight="normal" font-style="italic" text-anchor="start" fill="#222" color="#222">Rpgr<tspan font-size="6.74" dy="-3.4">Ex3d8</tspan></text>
<line x1="421.7" y1="417.9" x2="511.0" y2="417.9" stroke="#3a3a3a" stroke-width="1.3" />
<path d="M510.0,415.0 L518.0,417.9 L510.0,420.8 Z" fill="#3a3a3a"/>
<line x1="532.2" y1="417.9" x2="620.0" y2="417.9" stroke="#3a3a3a" stroke-width="1.3" />
<path d="M619.0,415.0 L627.0,417.9 L619.0,420.8 Z" fill="#3a3a3a"/>
<text x="415.5" y="427.4" font-size="9.4" font-weight="bold" font-style="normal" text-anchor="start" fill="#1a1a1a" color="#1a1a1a" >Early</text>
<text x="515.1" y="427.4" font-size="9.4" font-weight="bold" font-style="normal" text-anchor="end" fill="#1a1a1a" color="#1a1a1a" >Late</text>
<text x="529.4" y="427.4" font-size="9.4" font-weight="bold" font-style="normal" text-anchor="start" fill="#1a1a1a" color="#1a1a1a" >Early</text>
<text x="621.9" y="427.4" font-size="9.4" font-weight="bold" font-style="normal" text-anchor="end" fill="#1a1a1a" color="#1a1a1a" >Late</text>
<text x="636.0" y="410.3" font-size="9.4" font-weight="normal" font-style="normal" text-anchor="start" fill="#222" color="#222" >Average</text>
<text x="636.0" y="420.8" font-size="9.4" font-weight="normal" font-style="normal" text-anchor="start" fill="#222" color="#222" >expression:</text>
<text x="530.8" y="449.6" font-size="9.4" font-weight="normal" font-style="normal" text-anchor="start" fill="#222" color="#222" >Percent expressed:</text>
<circle cx="535.5" cy="461.0" r="3.30" fill="#000"/>
<text x="540.5" y="464.0" font-size="8.6" font-weight="normal" font-style="normal" text-anchor="start" fill="#222" color="#222" >20</text>
<circle cx="558.3" cy="461.0" r="4.20" fill="#000"/>
<text x="563.6" y="464.0" font-size="8.6" font-weight="normal" font-style="normal" text-anchor="start" fill="#222" color="#222" >40</text>
<circle cx="582.2" cy="461.0" r="5.00" fill="#000"/>
<text x="588.2" y="464.0" font-size="8.6" font-weight="normal" font-style="normal" text-anchor="start" fill="#222" color="#222" >60</text>
<defs><linearGradient id="cb4" x1="0" y1="0" x2="0" y2="1"><stop offset="0.00" stop-color="#fae841"/><stop offset="0.10" stop-color="#c3e142"/><stop offset="0.20" stop-color="#8ad567"/><stop offset="0.30" stop-color="#5bc581"/><stop offset="0.40" stop-color="#3eb192"/><stop offset="0.50" stop-color="#369a96"/><stop offset="0.60" stop-color="#388095"/><stop offset="0.70" stop-color="#3b6490"/><stop offset="0.80" stop-color="#414487"/><stop offset="0.90" stop-color="#482475"/><stop offset="1.00" stop-color="#440154"/></linearGradient></defs>
<rect x="637.3" y="426.8" width="9" height="44.80000000000001" fill="url(#cb4)"/>
<line x1="637.3" y1="436.0" x2="639.1" y2="436.0" stroke="#ffffff" stroke-width="0.8" />
<line x1="644.5" y1="436.0" x2="646.3" y2="436.0" stroke="#ffffff" stroke-width="0.8" />
<text x="649.9" y="439.1" font-size="8.4" font-weight="normal" font-style="normal" text-anchor="start" fill="#222" color="#222" >1</text>
<line x1="637.3" y1="447.0" x2="639.1" y2="447.0" stroke="#ffffff" stroke-width="0.8" />
<line x1="644.5" y1="447.0" x2="646.3" y2="447.0" stroke="#ffffff" stroke-width="0.8" />
<text x="649.9" y="450.1" font-size="8.4" font-weight="normal" font-style="normal" text-anchor="start" fill="#222" color="#222" >0</text>
<line x1="637.3" y1="458.5" x2="639.1" y2="458.5" stroke="#ffffff" stroke-width="0.8" />
<line x1="644.5" y1="458.5" x2="646.3" y2="458.5" stroke="#ffffff" stroke-width="0.8" />
<text x="649.9" y="461.6" font-size="8.4" font-weight="normal" font-style="normal" text-anchor="start" fill="#222" color="#222" >−1</text>
<line x1="637.3" y1="469.3" x2="639.1" y2="469.3" stroke="#ffffff" stroke-width="0.8" />
<line x1="644.5" y1="469.3" x2="646.3" y2="469.3" stroke="#ffffff" stroke-width="0.8" />
<text x="649.9" y="472.4" font-size="8.4" font-weight="normal" font-style="normal" text-anchor="start" fill="#222" color="#222" >−2</text>
<defs><filter id="bl" x="-20%" y="-100%" width="140%" height="300%"><feGaussianBlur stdDeviation="1.0 0.8"/></filter><filter id="bl2" x="-20%" y="-100%" width="140%" height="300%"><feGaussianBlur stdDeviation="1.5 1.3"/></filter></defs>
<text x="61.9" y="478.5" font-size="9.5" font-weight="bold" font-style="normal" text-anchor="start" fill="#111" color="#111" >pAKT</text>
<text x="61.2" y="489.8" font-size="9.5" font-weight="bold" font-style="normal" text-anchor="start" fill="#111" color="#111" >(T308)</text>
<text x="42.0" y="508.2" font-size="9.4" font-weight="bold" font-style="normal" text-anchor="start" fill="#111" color="#111" >Total AKT</text>
<text transform="translate(108,461) rotate(60)" font-size="9.8" text-anchor="middle" fill="#111" dy="3.3" style="stroke-width:0.5px">WT</text>
<text transform="translate(128,460) rotate(60)" font-size="9.8" text-anchor="middle" fill="#111" dy="3.3" style="stroke-width:0.5px">Rpgr</text>
<text transform="translate(156,461) rotate(60)" font-size="9.8" text-anchor="middle" fill="#111" dy="3.3" style="stroke-width:0.5px">WT</text>
<text transform="translate(175.5,460) rotate(60)" font-size="9.8" text-anchor="middle" fill="#111" dy="3.3" style="stroke-width:0.5px">Rpgr</text>
<text transform="translate(209,461.3) rotate(60)" font-size="9.8" text-anchor="middle" fill="#111" dy="3.3" style="stroke-width:0.5px">WT</text>
<text transform="translate(228.8,461) rotate(60)" font-size="9.8" text-anchor="middle" fill="#111" dy="3.3" style="stroke-width:0.5px">Rpgr</text>
<text transform="translate(255.7,461.3) rotate(60)" font-size="9.8" text-anchor="middle" fill="#111" dy="3.3" style="stroke-width:0.5px">WT</text>
<text transform="translate(275.4,461) rotate(60)" font-size="9.8" text-anchor="middle" fill="#111" dy="3.3" style="stroke-width:0.5px">Rpgr</text>
<text x="293.6" y="462.8" font-size="9.4" font-weight="normal" font-style="normal" text-anchor="start" fill="#222" color="#222" >kDa</text>
<text x="298.9" y="477.0" font-size="9" font-weight="normal" font-style="normal" text-anchor="start" fill="#222" color="#222" >60</text>
<text x="298.9" y="490.2" font-size="9" font-weight="normal" font-style="normal" text-anchor="start" fill="#222" color="#222" >50</text>
<text x="298.9" y="502.4" font-size="9" font-weight="normal" font-style="normal" text-anchor="start" fill="#222" color="#222" >60</text>
<text x="298.9" y="515.3" font-size="9" font-weight="normal" font-style="normal" text-anchor="start" fill="#222" color="#222" >50</text>
<rect x="94.1" y="473.4" width="96.3" height="17.1" fill="#f3f3f3"/>
<path d="M97.5,480.8 L115,480.8 L115,483.8 L97.5,483.8 Z" fill="#555" filter="url(#bl)"/>
<path d="M119.3,480.90000000000003 L138.6,480.90000000000003 L138.6,484.7 L119.3,484.7 Z" fill="#484848" filter="url(#bl)"/>
<path d="M142.5,480.90000000000003 L161.6,480.90000000000003 L161.6,483.7 L142.5,483.7 Z" fill="#777" filter="url(#bl)"/>
<path d="M166.3,481.3 L187,481.3 L187,484.7 L166.3,484.7 Z" fill="#5a5a5a" filter="url(#bl)"/>
<rect x="94.1" y="473.4" width="96.3" height="17.1" fill="none" stroke="#333" stroke-width="0.9"/>
<rect x="94.1" y="497.1" width="96.5" height="16.9" fill="#f3f3f3"/>
<path d="M99.5,500.7 L117.3,500.7 L117.3,504.90000000000003 L99.5,504.90000000000003 Z" fill="#2a2a2a" filter="url(#bl)"/>
<path d="M120.3,501.6 L141,501.6 L141,506.0 L120.3,506.0 Z" fill="#363636" filter="url(#bl)"/>
<path d="M143.3,501.6 L163.3,501.6 L163.3,505.4 L143.3,505.4 Z" fill="#444" filter="url(#bl)"/>
<path d="M166.3,501.8 L187.8,501.8 L187.8,506.2 L166.3,506.2 Z" fill="#2a2a2a" filter="url(#bl)"/>
<rect x="94.1" y="497.1" width="96.5" height="16.9" fill="none" stroke="#333" stroke-width="0.9"/>
<rect x="192.9" y="472.5" width="104.4" height="18.8" fill="#ebebeb"/>
<path d="M195.2,480.6 L216.2,480.6 L216.2,483.6 L195.2,483.6 Z" fill="#4a4a4a" filter="url(#bl)"/>
<path d="M223.3,479.9 L242.7,479.9 L242.7,483.5 L223.3,483.5 Z" fill="#151515" filter="url(#bl)"/>
<path d="M246.9,479.0 L265.2,479.0 L265.2,482.0 L246.9,482.0 Z" fill="#3a3a3a" filter="url(#bl)"/>
<path d="M272.3,478.2 L292.5,474.0 L292.5,477.20000000000005 L272.3,481.40000000000003 Z" fill="#2a2a2a" filter="url(#bl)"/>
<path d="M275,484.0 L291,484.0 L291,486.0 L275,486.0 Z" fill="#c0c0c0" filter="url(#bl)"/>
<rect x="192.9" y="472.5" width="104.4" height="18.8" fill="none" stroke="#333" stroke-width="0.9"/>
<rect x="192.9" y="497.2" width="104.4" height="17.4" fill="#e2e2e2"/>
<path d="M194,499.1 L266,499.1 L266,502.1 L194,502.1 Z" fill="#a0a0a0" filter="url(#bl2)"/>
<path d="M194,503.05 L266,503.05 L266,506.55 L194,506.55 Z" fill="#bdbdbd" filter="url(#bl2)"/>
<path d="M194,506.5 L218,506.5 L218,511.5 L194,511.5 Z" fill="#4a4a4a" filter="url(#bl2)"/>
<path d="M221,506.5 L244,506.5 L244,511.5 L221,511.5 Z" fill="#555" filter="url(#bl2)"/>
<path d="M247,506.1 L267,506.1 L267,510.9 L247,510.9 Z" fill="#4e4e4e" filter="url(#bl2)"/>
<path d="M270,504.3 L294,497.3 L294,502.3 L270,509.3 Z" fill="#5a5a5a" filter="url(#bl2)"/>
<rect x="192.9" y="497.2" width="104.4" height="17.4" fill="none" stroke="#333" stroke-width="0.9"/>
<line x1="176.3" y1="535.0" x2="176.3" y2="645.4" stroke="#111" stroke-width="1.1" />
<line x1="173.4" y1="535.6" x2="176.3" y2="535.6" stroke="#111" stroke-width="1" />
<text x="172.3" y="538.7" font-size="8.6" font-weight="normal" font-style="normal" text-anchor="end" fill="#222" color="#222" >1.5</text>
<line x1="173.4" y1="572.0" x2="176.3" y2="572.0" stroke="#111" stroke-width="1" />
<text x="172.3" y="575.1" font-size="8.6" font-weight="normal" font-style="normal" text-anchor="end" fill="#222" color="#222" >1.0</text>
<line x1="173.4" y1="608.4" x2="176.3" y2="608.4" stroke="#111" stroke-width="1" />
<text x="172.3" y="611.5" font-size="8.6" font-weight="normal" font-style="normal" text-anchor="end" fill="#222" color="#222" >0.5</text>
<line x1="173.4" y1="644.8" x2="176.3" y2="644.8" stroke="#111" stroke-width="1" />
<text x="172.3" y="647.9" font-size="8.6" font-weight="normal" font-style="normal" text-anchor="end" fill="#222" color="#222" >0</text>
<line x1="175.8" y1="644.8" x2="244.5" y2="644.8" stroke="#111" stroke-width="1.1" />
<line x1="195.4" y1="644.8" x2="195.4" y2="648.0" stroke="#111" stroke-width="1" />
<line x1="224.9" y1="644.8" x2="224.9" y2="648.0" stroke="#111" stroke-width="1" />
<rect x="186.8" y="594.6" width="18" height="50.2" fill="#2020f0" stroke="#111" stroke-width="1"/>
<rect x="216" y="573.5" width="17.8" height="71.3" fill="#f1a14e" stroke="#111" stroke-width="1"/>
<line x1="195.4" y1="594.6" x2="195.4" y2="588.7" stroke="#111" stroke-width="1" />
<line x1="193.2" y1="588.7" x2="197.6" y2="588.7" stroke="#111" stroke-width="1" />
<line x1="224.9" y1="573.5" x2="224.9" y2="569.8" stroke="#111" stroke-width="1" />
<line x1="222.7" y1="569.8" x2="227.1" y2="569.8" stroke="#111" stroke-width="1" />
<circle cx="195.4" cy="579.3" r="1.70" fill="#111"/>
<circle cx="195.8" cy="593.8" r="1.70" fill="#111"/>
<circle cx="194.8" cy="599.7" r="1.70" fill="#111"/>
<circle cx="195.4" cy="606.9" r="1.70" fill="#111"/>
<rect x="223.0" y="562.4" width="3.2" height="3.2" fill="#111"/>
<rect x="219.5" y="571.1" width="3.2" height="3.2" fill="#111"/>
<rect x="226.5" y="571.9" width="3.2" height="3.2" fill="#111"/>
<rect x="223.0" y="575.5" width="3.2" height="3.2" fill="#111"/>
<path d="M198.2,557.6 L198.2,554.9 L224.6,554.9 L224.6,557.6" fill="none" stroke="#777" stroke-width="0.9"/>
<text x="211.1" y="553.5" font-size="12" font-weight="normal" font-style="normal" text-anchor="middle" fill="#666" color="#666" >*</text>
<text x="194.0" y="660.0" font-size="9.5" font-weight="bold" font-style="normal" text-anchor="middle" fill="#111" color="#111" >WT</text>
<text x="223.0" y="660.0" font-size="9.5" font-weight="bold" font-style="italic" text-anchor="middle" fill="#111" color="#111" >Rpgr</text>
<text transform="translate(143.7,590) rotate(-90)" font-size="9.6" font-weight="bold" text-anchor="middle" fill="#111">pAkt/ Total Akt</text>
<text transform="translate(155,588.4) rotate(-90)" font-size="9.6" font-weight="bold" text-anchor="middle" fill="#111">[arb. units]</text>
<circle cx="483.3" cy="608.6" r="1.3" fill="#a8a8a8"/>
<circle cx="479.9" cy="604.8" r="1.3" fill="#a8a8a8"/>
<circle cx="474.3" cy="590.8" r="1.3" fill="#a8a8a8"/>
<circle cx="499.9" cy="628.6" r="1.3" fill="#a8a8a8"/>
<circle cx="473.3" cy="594.7" r="1.3" fill="#a8a8a8"/>
<circle cx="478.9" cy="614.2" r="1.3" fill="#a8a8a8"/>
<circle cx="502.7" cy="634.9" r="1.3" fill="#a8a8a8"/>
<circle cx="479.7" cy="602.9" r="1.3" fill="#a8a8a8"/>
<circle cx="483.1" cy="614.6" r="1.3" fill="#a8a8a8"/>
<circle cx="488.8" cy="620.8" r="1.3" fill="#a8a8a8"/>
<circle cx="469.1" cy="596.0" r="1.3" fill="#a8a8a8"/>
<circle cx="504.9" cy="636.3" r="1.3" fill="#a8a8a8"/>
<circle cx="500.9" cy="630.9" r="1.3" fill="#a8a8a8"/>
<circle cx="500.4" cy="631.9" r="1.3" fill="#a8a8a8"/>
<circle cx="497.9" cy="629.9" r="1.3" fill="#a8a8a8"/>
<circle cx="467.4" cy="601.3" r="1.3" fill="#a8a8a8"/>
<circle cx="494.4" cy="622.6" r="1.3" fill="#a8a8a8"/>
<circle cx="498.1" cy="629.3" r="1.3" fill="#a8a8a8"/>
<circle cx="489.2" cy="612.0" r="1.3" fill="#a8a8a8"/>
<circle cx="498.9" cy="627.0" r="1.3" fill="#a8a8a8"/>
<circle cx="468.2" cy="597.5" r="1.3" fill="#a8a8a8"/>
<circle cx="499.4" cy="630.4" r="1.3" fill="#a8a8a8"/>
<circle cx="487.0" cy="615.2" r="1.3" fill="#a8a8a8"/>
<circle cx="476.9" cy="592.1" r="1.3" fill="#a8a8a8"/>
<circle cx="492.4" cy="625.2" r="1.3" fill="#a8a8a8"/>
<circle cx="495.1" cy="619.7" r="1.3" fill="#a8a8a8"/>
<circle cx="483.6" cy="618.8" r="1.3" fill="#a8a8a8"/>
<circle cx="492.3" cy="619.9" r="1.3" fill="#a8a8a8"/>
<circle cx="475.9" cy="607.5" r="1.3" fill="#a8a8a8"/>
<circle cx="500.9" cy="633.3" r="1.3" fill="#a8a8a8"/>
<circle cx="476.0" cy="606.4" r="1.3" fill="#a8a8a8"/>
<circle cx="503.4" cy="634.9" r="1.3" fill="#a8a8a8"/>
<circle cx="495.6" cy="626.2" r="1.3" fill="#a8a8a8"/>
<circle cx="487.5" cy="607.8" r="1.3" fill="#a8a8a8"/>
<circle cx="471.6" cy="593.5" r="1.3" fill="#a8a8a8"/>
<circle cx="503.6" cy="635.3" r="1.3" fill="#a8a8a8"/>
<circle cx="503.2" cy="635.1" r="1.3" fill="#a8a8a8"/>
<circle cx="488.4" cy="609.0" r="1.3" fill="#a8a8a8"/>
<circle cx="487.8" cy="612.8" r="1.3" fill="#a8a8a8"/>
<circle cx="484.8" cy="605.9" r="1.3" fill="#a8a8a8"/>
<circle cx="475.1" cy="603.8" r="1.3" fill="#a8a8a8"/>
<circle cx="500.8" cy="631.1" r="1.3" fill="#a8a8a8"/>
<circle cx="470.7" cy="598.5" r="1.3" fill="#a8a8a8"/>
<circle cx="482.8" cy="603.3" r="1.3" fill="#a8a8a8"/>
<circle cx="502.7" cy="633.9" r="1.3" fill="#a8a8a8"/>
<circle cx="471.9" cy="597.0" r="1.3" fill="#a8a8a8"/>
<circle cx="491.6" cy="625.9" r="1.3" fill="#a8a8a8"/>
<circle cx="494.8" cy="627.1" r="1.3" fill="#a8a8a8"/>
<circle cx="483.0" cy="601.8" r="1.3" fill="#a8a8a8"/>
<circle cx="494.9" cy="625.4" r="1.3" fill="#a8a8a8"/>
<circle cx="463.8" cy="590.8" r="1.3" fill="#a8a8a8"/>
<circle cx="497.9" cy="628.4" r="1.3" fill="#a8a8a8"/>
<circle cx="490.8" cy="623.4" r="1.3" fill="#a8a8a8"/>
<circle cx="493.9" cy="624.3" r="1.3" fill="#a8a8a8"/>
<circle cx="489.6" cy="612.0" r="1.3" fill="#a8a8a8"/>
<circle cx="500.9" cy="632.5" r="1.3" fill="#a8a8a8"/>
<circle cx="471.0" cy="593.9" r="1.3" fill="#a8a8a8"/>
<circle cx="503.3" cy="634.8" r="1.3" fill="#a8a8a8"/>
<circle cx="465.5" cy="597.7" r="1.3" fill="#a8a8a8"/>
<circle cx="475.0" cy="601.9" r="1.3" fill="#a8a8a8"/>
<circle cx="472.3" cy="605.2" r="1.3" fill="#a8a8a8"/>
<circle cx="504.0" cy="635.3" r="1.3" fill="#a8a8a8"/>
<circle cx="491.3" cy="622.0" r="1.3" fill="#a8a8a8"/>
<circle cx="475.3" cy="593.6" r="1.3" fill="#a8a8a8"/>
<circle cx="463.1" cy="599.6" r="1.3" fill="#a8a8a8"/>
<circle cx="497.9" cy="629.1" r="1.3" fill="#a8a8a8"/>
<circle cx="486.7" cy="613.3" r="1.3" fill="#a8a8a8"/>
<circle cx="474.1" cy="607.2" r="1.3" fill="#a8a8a8"/>
<circle cx="473.9" cy="593.2" r="1.3" fill="#a8a8a8"/>
<circle cx="478.7" cy="598.0" r="1.3" fill="#a8a8a8"/>
<circle cx="464.2" cy="593.4" r="1.3" fill="#a8a8a8"/>
<circle cx="478.3" cy="596.6" r="1.3" fill="#a8a8a8"/>
<circle cx="467.2" cy="603.2" r="1.3" fill="#a8a8a8"/>
<circle cx="487.7" cy="611.2" r="1.3" fill="#a8a8a8"/>
<circle cx="480.3" cy="600.9" r="1.3" fill="#a8a8a8"/>
<circle cx="460.3" cy="597.7" r="1.3" fill="#a8a8a8"/>
<circle cx="490.4" cy="615.7" r="1.3" fill="#a8a8a8"/>
<circle cx="489.6" cy="620.0" r="1.3" fill="#a8a8a8"/>
<circle cx="494.6" cy="619.9" r="1.3" fill="#a8a8a8"/>
<circle cx="477.4" cy="610.3" r="1.3" fill="#a8a8a8"/>
<circle cx="476.4" cy="612.0" r="1.3" fill="#a8a8a8"/>
<circle cx="485.2" cy="606.7" r="1.3" fill="#a8a8a8"/>
<circle cx="472.1" cy="608.0" r="1.3" fill="#a8a8a8"/>
<circle cx="490.7" cy="620.5" r="1.3" fill="#a8a8a8"/>
<circle cx="481.3" cy="612.5" r="1.3" fill="#a8a8a8"/>
<circle cx="462.0" cy="596.9" r="1.3" fill="#a8a8a8"/>
<circle cx="494.9" cy="626.7" r="1.3" fill="#a8a8a8"/>
<circle cx="486.7" cy="613.6" r="1.3" fill="#a8a8a8"/>
<circle cx="497.8" cy="628.3" r="1.3" fill="#a8a8a8"/>
<circle cx="479.1" cy="607.0" r="1.3" fill="#a8a8a8"/>
<circle cx="478.9" cy="613.1" r="1.3" fill="#a8a8a8"/>
<circle cx="474.8" cy="598.9" r="1.3" fill="#a8a8a8"/>
<circle cx="465.0" cy="597.6" r="1.3" fill="#a8a8a8"/>
<circle cx="462.5" cy="592.9" r="1.3" fill="#a8a8a8"/>
<circle cx="494.0" cy="616.8" r="1.3" fill="#a8a8a8"/>
<circle cx="492.3" cy="618.7" r="1.3" fill="#a8a8a8"/>
<circle cx="466.1" cy="591.6" r="1.3" fill="#a8a8a8"/>
<circle cx="484.4" cy="608.7" r="1.3" fill="#a8a8a8"/>
<circle cx="459.8" cy="596.4" r="1.3" fill="#a8a8a8"/>
<circle cx="480.1" cy="602.1" r="1.3" fill="#a8a8a8"/>
<circle cx="499.0" cy="631.7" r="1.3" fill="#a8a8a8"/>
<circle cx="477.1" cy="611.2" r="1.3" fill="#a8a8a8"/>
<circle cx="461.1" cy="598.8" r="1.3" fill="#a8a8a8"/>
<circle cx="482.1" cy="603.2" r="1.3" fill="#a8a8a8"/>
<circle cx="480.0" cy="607.5" r="1.3" fill="#a8a8a8"/>
<circle cx="495.6" cy="625.6" r="1.3" fill="#a8a8a8"/>
<circle cx="494.7" cy="626.7" r="1.3" fill="#a8a8a8"/>
<circle cx="474.9" cy="602.9" r="1.3" fill="#a8a8a8"/>
<circle cx="492.0" cy="615.6" r="1.3" fill="#a8a8a8"/>
<circle cx="467.0" cy="594.0" r="1.3" fill="#a8a8a8"/>
<circle cx="469.0" cy="595.5" r="1.3" fill="#a8a8a8"/>
<circle cx="487.2" cy="616.4" r="1.3" fill="#a8a8a8"/>
<circle cx="474.0" cy="596.4" r="1.3" fill="#a8a8a8"/>
<circle cx="473.3" cy="602.9" r="1.3" fill="#a8a8a8"/>
<circle cx="479.7" cy="608.3" r="1.3" fill="#a8a8a8"/>
<circle cx="459.4" cy="598.1" r="1.3" fill="#a8a8a8"/>
<circle cx="491.2" cy="621.8" r="1.3" fill="#a8a8a8"/>
<circle cx="486.0" cy="620.7" r="1.3" fill="#a8a8a8"/>
<circle cx="478.9" cy="604.4" r="1.3" fill="#a8a8a8"/>
<circle cx="466.9" cy="603.6" r="1.3" fill="#a8a8a8"/>
<circle cx="501.6" cy="632.3" r="1.3" fill="#a8a8a8"/>
<circle cx="496.0" cy="625.5" r="1.3" fill="#a8a8a8"/>
<circle cx="479.2" cy="603.1" r="1.3" fill="#a8a8a8"/>
<circle cx="473.4" cy="597.2" r="1.3" fill="#a8a8a8"/>
<circle cx="489.6" cy="623.5" r="1.3" fill="#a8a8a8"/>
<circle cx="496.4" cy="625.1" r="1.3" fill="#a8a8a8"/>
<circle cx="470.1" cy="606.7" r="1.3" fill="#a8a8a8"/>
<circle cx="500.5" cy="630.0" r="1.3" fill="#a8a8a8"/>
<circle cx="459.6" cy="592.3" r="1.3" fill="#a8a8a8"/>
<circle cx="471.2" cy="596.5" r="1.3" fill="#a8a8a8"/>
<circle cx="476.1" cy="610.6" r="1.3" fill="#a8a8a8"/>
<circle cx="494.3" cy="627.2" r="1.3" fill="#a8a8a8"/>
<circle cx="483.1" cy="606.5" r="1.3" fill="#a8a8a8"/>
<circle cx="477.2" cy="604.9" r="1.3" fill="#a8a8a8"/>
<circle cx="469.7" cy="602.9" r="1.3" fill="#a8a8a8"/>
<circle cx="487.2" cy="618.8" r="1.3" fill="#a8a8a8"/>
<circle cx="476.8" cy="598.1" r="1.3" fill="#a8a8a8"/>
<circle cx="492.6" cy="615.4" r="1.3" fill="#a8a8a8"/>
<circle cx="502.0" cy="634.4" r="1.3" fill="#a8a8a8"/>
<circle cx="475.1" cy="609.6" r="1.3" fill="#a8a8a8"/>
<circle cx="500.0" cy="630.3" r="1.3" fill="#a8a8a8"/>
<circle cx="486.0" cy="614.5" r="1.3" fill="#a8a8a8"/>
<circle cx="500.9" cy="633.0" r="1.3" fill="#a8a8a8"/>
<circle cx="468.5" cy="601.3" r="1.3" fill="#a8a8a8"/>
<circle cx="467.0" cy="595.6" r="1.3" fill="#a8a8a8"/>
<circle cx="488.9" cy="616.8" r="1.3" fill="#a8a8a8"/>
<circle cx="483.4" cy="614.3" r="1.3" fill="#a8a8a8"/>
<circle cx="500.4" cy="632.8" r="1.3" fill="#a8a8a8"/>
<circle cx="472.6" cy="602.5" r="1.3" fill="#a8a8a8"/>
<circle cx="493.3" cy="621.5" r="1.3" fill="#a8a8a8"/>
<circle cx="490.4" cy="623.9" r="1.3" fill="#a8a8a8"/>
<circle cx="486.9" cy="620.5" r="1.3" fill="#a8a8a8"/>
<circle cx="466.9" cy="597.3" r="1.3" fill="#a8a8a8"/>
<circle cx="492.0" cy="622.8" r="1.3" fill="#a8a8a8"/>
<circle cx="485.0" cy="615.2" r="1.3" fill="#a8a8a8"/>
<circle cx="496.0" cy="622.9" r="1.3" fill="#a8a8a8"/>
<circle cx="503.2" cy="634.9" r="1.3" fill="#a8a8a8"/>
<circle cx="467.1" cy="604.1" r="1.3" fill="#a8a8a8"/>
<circle cx="500.3" cy="633.0" r="1.3" fill="#a8a8a8"/>
<circle cx="499.6" cy="630.7" r="1.3" fill="#a8a8a8"/>
<circle cx="473.6" cy="606.3" r="1.3" fill="#a8a8a8"/>
<circle cx="479.5" cy="599.0" r="1.3" fill="#a8a8a8"/>
<circle cx="481.2" cy="607.0" r="1.3" fill="#a8a8a8"/>
<circle cx="479.9" cy="600.5" r="1.3" fill="#a8a8a8"/>
<circle cx="484.5" cy="618.3" r="1.3" fill="#a8a8a8"/>
<circle cx="485.9" cy="619.3" r="1.3" fill="#a8a8a8"/>
<circle cx="489.6" cy="611.4" r="1.3" fill="#a8a8a8"/>
<circle cx="498.8" cy="627.9" r="1.3" fill="#a8a8a8"/>
<circle cx="501.2" cy="633.0" r="1.3" fill="#a8a8a8"/>
<circle cx="502.0" cy="634.3" r="1.3" fill="#a8a8a8"/>
<circle cx="492.9" cy="619.2" r="1.3" fill="#a8a8a8"/>
<circle cx="494.8" cy="627.2" r="1.3" fill="#a8a8a8"/>
<circle cx="489.6" cy="617.1" r="1.3" fill="#a8a8a8"/>
<circle cx="492.1" cy="615.2" r="1.3" fill="#a8a8a8"/>
<circle cx="478.4" cy="591.4" r="1.3" fill="#a8a8a8"/>
<circle cx="502.1" cy="631.7" r="1.3" fill="#a8a8a8"/>
<circle cx="479.1" cy="606.0" r="1.3" fill="#a8a8a8"/>
<circle cx="472.9" cy="605.8" r="1.3" fill="#a8a8a8"/>
<circle cx="486.7" cy="609.0" r="1.3" fill="#a8a8a8"/>
<circle cx="496.3" cy="628.7" r="1.3" fill="#a8a8a8"/>
<circle cx="490.9" cy="620.3" r="1.3" fill="#a8a8a8"/>
<circle cx="504.7" cy="636.7" r="1.3" fill="#a8a8a8"/>
<circle cx="500.4" cy="631.6" r="1.3" fill="#a8a8a8"/>
<circle cx="482.1" cy="609.2" r="1.3" fill="#a8a8a8"/>
<circle cx="465.0" cy="594.8" r="1.3" fill="#a8a8a8"/>
<circle cx="462.5" cy="598.4" r="1.3" fill="#a8a8a8"/>
<circle cx="478.2" cy="604.6" r="1.3" fill="#a8a8a8"/>
<circle cx="488.7" cy="620.2" r="1.3" fill="#a8a8a8"/>
<circle cx="481.9" cy="604.4" r="1.3" fill="#a8a8a8"/>
<circle cx="498.9" cy="630.8" r="1.3" fill="#a8a8a8"/>
<circle cx="503.9" cy="635.3" r="1.3" fill="#a8a8a8"/>
<circle cx="477.1" cy="605.4" r="1.3" fill="#a8a8a8"/>
<circle cx="467.4" cy="600.2" r="1.3" fill="#a8a8a8"/>
<circle cx="486.0" cy="613.3" r="1.3" fill="#a8a8a8"/>
<circle cx="485.2" cy="609.7" r="1.3" fill="#a8a8a8"/>
<circle cx="470.8" cy="600.1" r="1.3" fill="#a8a8a8"/>
<circle cx="471.0" cy="599.8" r="1.3" fill="#a8a8a8"/>
<circle cx="497.5" cy="630.3" r="1.3" fill="#a8a8a8"/>
<circle cx="495.8" cy="626.3" r="1.3" fill="#a8a8a8"/>
<circle cx="499.3" cy="631.4" r="1.3" fill="#a8a8a8"/>
<circle cx="485.3" cy="619.1" r="1.3" fill="#a8a8a8"/>
<circle cx="480.4" cy="603.4" r="1.3" fill="#a8a8a8"/>
<circle cx="485.7" cy="616.0" r="1.3" fill="#a8a8a8"/>
<circle cx="485.7" cy="609.2" r="1.3" fill="#a8a8a8"/>
<circle cx="472.8" cy="594.9" r="1.3" fill="#a8a8a8"/>
<circle cx="487.3" cy="613.4" r="1.3" fill="#a8a8a8"/>
<circle cx="480.6" cy="599.6" r="1.3" fill="#a8a8a8"/>
<circle cx="496.9" cy="624.5" r="1.3" fill="#a8a8a8"/>
<circle cx="486.9" cy="615.8" r="1.3" fill="#a8a8a8"/>
<circle cx="494.7" cy="619.3" r="1.3" fill="#a8a8a8"/>
<circle cx="500.2" cy="632.3" r="1.3" fill="#a8a8a8"/>
<circle cx="488.2" cy="609.3" r="1.3" fill="#a8a8a8"/>
<circle cx="497.6" cy="625.9" r="1.3" fill="#a8a8a8"/>
<circle cx="478.7" cy="603.1" r="1.3" fill="#a8a8a8"/>
<circle cx="497.9" cy="627.1" r="1.3" fill="#a8a8a8"/>
<circle cx="492.9" cy="620.6" r="1.3" fill="#a8a8a8"/>
<circle cx="477.9" cy="613.2" r="1.3" fill="#a8a8a8"/>
<circle cx="473.7" cy="604.3" r="1.3" fill="#a8a8a8"/>
<circle cx="486.4" cy="611.6" r="1.3" fill="#a8a8a8"/>
<circle cx="494.0" cy="624.4" r="1.3" fill="#a8a8a8"/>
<circle cx="477.5" cy="610.7" r="1.3" fill="#a8a8a8"/>
<circle cx="477.7" cy="607.1" r="1.3" fill="#a8a8a8"/>
<circle cx="473.5" cy="607.5" r="1.3" fill="#a8a8a8"/>
<circle cx="482.1" cy="611.1" r="1.3" fill="#a8a8a8"/>
<circle cx="481.7" cy="595.9" r="1.3" fill="#a8a8a8"/>
<circle cx="484.8" cy="614.1" r="1.3" fill="#a8a8a8"/>
<circle cx="479.3" cy="605.7" r="1.3" fill="#a8a8a8"/>
<circle cx="489.1" cy="623.3" r="1.3" fill="#a8a8a8"/>
<circle cx="470.5" cy="591.0" r="1.3" fill="#a8a8a8"/>
<circle cx="475.9" cy="611.8" r="1.3" fill="#a8a8a8"/>
<circle cx="479.9" cy="609.7" r="1.3" fill="#a8a8a8"/>
<circle cx="479.2" cy="611.5" r="1.3" fill="#a8a8a8"/>
<circle cx="493.2" cy="626.7" r="1.3" fill="#a8a8a8"/>
<circle cx="483.8" cy="605.4" r="1.3" fill="#a8a8a8"/>
<circle cx="477.1" cy="592.3" r="1.3" fill="#a8a8a8"/>
<circle cx="498.6" cy="627.8" r="1.3" fill="#a8a8a8"/>
<circle cx="492.2" cy="623.4" r="1.3" fill="#a8a8a8"/>
<circle cx="485.4" cy="615.0" r="1.3" fill="#a8a8a8"/>
<circle cx="502.5" cy="633.6" r="1.3" fill="#a8a8a8"/>
<circle cx="481.6" cy="615.1" r="1.3" fill="#a8a8a8"/>
<circle cx="463.4" cy="596.5" r="1.3" fill="#a8a8a8"/>
<circle cx="482.3" cy="615.8" r="1.3" fill="#a8a8a8"/>
<circle cx="494.0" cy="623.2" r="1.3" fill="#a8a8a8"/>
<circle cx="502.0" cy="633.8" r="1.3" fill="#a8a8a8"/>
<circle cx="471.3" cy="606.4" r="1.3" fill="#a8a8a8"/>
<circle cx="482.8" cy="617.4" r="1.3" fill="#a8a8a8"/>
<circle cx="470.8" cy="604.2" r="1.3" fill="#a8a8a8"/>
<circle cx="486.9" cy="611.5" r="1.3" fill="#a8a8a8"/>
<circle cx="493.6" cy="624.8" r="1.3" fill="#a8a8a8"/>
<circle cx="490.3" cy="618.5" r="1.3" fill="#a8a8a8"/>
<circle cx="483.3" cy="609.5" r="1.3" fill="#a8a8a8"/>
<circle cx="475.8" cy="607.7" r="1.3" fill="#a8a8a8"/>
<circle cx="500.2" cy="631.4" r="1.3" fill="#a8a8a8"/>
<circle cx="490.3" cy="619.5" r="1.3" fill="#a8a8a8"/>
<circle cx="458.9" cy="597.7" r="1.3" fill="#a8a8a8"/>
<circle cx="485.8" cy="604.7" r="1.3" fill="#a8a8a8"/>
<circle cx="477.9" cy="600.5" r="1.3" fill="#a8a8a8"/>
<circle cx="468.0" cy="591.6" r="1.3" fill="#a8a8a8"/>
<circle cx="472.9" cy="596.1" r="1.3" fill="#a8a8a8"/>
<circle cx="468.2" cy="602.1" r="1.3" fill="#a8a8a8"/>
<circle cx="483.6" cy="604.9" r="1.3" fill="#a8a8a8"/>
<circle cx="492.4" cy="622.4" r="1.3" fill="#a8a8a8"/>
<circle cx="480.8" cy="616.2" r="1.3" fill="#a8a8a8"/>
<circle cx="476.9" cy="592.1" r="1.3" fill="#a8a8a8"/>
<circle cx="503.3" cy="635.1" r="1.3" fill="#a8a8a8"/>
<circle cx="491.0" cy="617.0" r="1.3" fill="#a8a8a8"/>
<circle cx="477.8" cy="602.0" r="1.3" fill="#a8a8a8"/>
<circle cx="496.4" cy="628.4" r="1.3" fill="#a8a8a8"/>
<circle cx="474.9" cy="600.0" r="1.3" fill="#a8a8a8"/>
<circle cx="499.4" cy="628.9" r="1.3" fill="#a8a8a8"/>
<circle cx="496.7" cy="625.3" r="1.3" fill="#a8a8a8"/>
<circle cx="501.0" cy="632.4" r="1.3" fill="#a8a8a8"/>
<circle cx="459.7" cy="598.2" r="1.3" fill="#a8a8a8"/>
<circle cx="459.0" cy="594.8" r="1.3" fill="#a8a8a8"/>
<circle cx="502.7" cy="633.9" r="1.3" fill="#a8a8a8"/>
<circle cx="485.4" cy="616.2" r="1.3" fill="#a8a8a8"/>
<circle cx="502.9" cy="633.4" r="1.3" fill="#a8a8a8"/>
<circle cx="493.1" cy="624.7" r="1.3" fill="#a8a8a8"/>
<circle cx="482.2" cy="598.9" r="1.3" fill="#a8a8a8"/>
<circle cx="502.4" cy="633.4" r="1.3" fill="#a8a8a8"/>
<circle cx="488.2" cy="612.8" r="1.3" fill="#a8a8a8"/>
<circle cx="485.3" cy="606.7" r="1.3" fill="#a8a8a8"/>
<circle cx="493.3" cy="624.9" r="1.3" fill="#a8a8a8"/>
<circle cx="495.8" cy="628.4" r="1.3" fill="#a8a8a8"/>
<circle cx="489.9" cy="619.0" r="1.3" fill="#a8a8a8"/>
<circle cx="464.3" cy="597.3" r="1.3" fill="#a8a8a8"/>
<circle cx="471.8" cy="600.4" r="1.3" fill="#a8a8a8"/>
<circle cx="495.2" cy="627.7" r="1.3" fill="#a8a8a8"/>
<circle cx="470.8" cy="602.0" r="1.3" fill="#a8a8a8"/>
<circle cx="462.3" cy="600.5" r="1.3" fill="#a8a8a8"/>
<circle cx="499.9" cy="629.7" r="1.3" fill="#a8a8a8"/>
<circle cx="479.6" cy="614.7" r="1.3" fill="#a8a8a8"/>
<circle cx="502.3" cy="633.8" r="1.3" fill="#a8a8a8"/>
<circle cx="489.2" cy="618.5" r="1.3" fill="#a8a8a8"/>
<circle cx="471.6" cy="603.3" r="1.3" fill="#a8a8a8"/>
<circle cx="496.7" cy="629.5" r="1.3" fill="#a8a8a8"/>
<circle cx="485.3" cy="614.3" r="1.3" fill="#a8a8a8"/>
<circle cx="489.8" cy="620.4" r="1.3" fill="#a8a8a8"/>
<circle cx="503.1" cy="634.9" r="1.3" fill="#a8a8a8"/>
<circle cx="459.7" cy="590.2" r="1.3" fill="#a8a8a8"/>
<circle cx="493.9" cy="621.7" r="1.3" fill="#a8a8a8"/>
<circle cx="464.4" cy="596.2" r="1.3" fill="#a8a8a8"/>
<circle cx="483.4" cy="613.2" r="1.3" fill="#a8a8a8"/>
<circle cx="488.2" cy="616.5" r="1.3" fill="#a8a8a8"/>
<circle cx="484.6" cy="613.4" r="1.3" fill="#a8a8a8"/>
<circle cx="492.4" cy="625.8" r="1.3" fill="#a8a8a8"/>
<circle cx="497.0" cy="626.5" r="1.3" fill="#a8a8a8"/>
<circle cx="471.5" cy="608.2" r="1.3" fill="#a8a8a8"/>
<circle cx="500.5" cy="632.6" r="1.3" fill="#a8a8a8"/>
<circle cx="476.5" cy="603.1" r="1.3" fill="#a8a8a8"/>
<circle cx="503.6" cy="635.1" r="1.3" fill="#a8a8a8"/>
<circle cx="491.1" cy="618.4" r="1.3" fill="#a8a8a8"/>
<circle cx="487.4" cy="613.9" r="1.3" fill="#a8a8a8"/>
<circle cx="474.8" cy="596.6" r="1.3" fill="#a8a8a8"/>
<circle cx="491.3" cy="615.0" r="1.3" fill="#a8a8a8"/>
<circle cx="461.9" cy="600.2" r="1.3" fill="#a8a8a8"/>
<circle cx="489.9" cy="619.5" r="1.3" fill="#a8a8a8"/>
<circle cx="495.0" cy="626.6" r="1.3" fill="#a8a8a8"/>
<circle cx="504.2" cy="636.0" r="1.3" fill="#a8a8a8"/>
<circle cx="480.9" cy="604.2" r="1.3" fill="#a8a8a8"/>
<circle cx="478.4" cy="594.4" r="1.3" fill="#a8a8a8"/>
<circle cx="487.4" cy="609.1" r="1.3" fill="#a8a8a8"/>
<circle cx="472.4" cy="590.7" r="1.3" fill="#a8a8a8"/>
<circle cx="496.4" cy="625.7" r="1.3" fill="#a8a8a8"/>
<circle cx="486.8" cy="618.1" r="1.3" fill="#a8a8a8"/>
<circle cx="492.5" cy="624.3" r="1.3" fill="#a8a8a8"/>
<circle cx="479.5" cy="613.7" r="1.3" fill="#a8a8a8"/>
<circle cx="498.7" cy="628.8" r="1.3" fill="#a8a8a8"/>
<circle cx="468.0" cy="593.5" r="1.3" fill="#a8a8a8"/>
<circle cx="463.8" cy="601.4" r="1.3" fill="#a8a8a8"/>
<circle cx="467.6" cy="594.6" r="1.3" fill="#a8a8a8"/>
<circle cx="470.7" cy="601.1" r="1.3" fill="#a8a8a8"/>
<circle cx="477.8" cy="605.7" r="1.3" fill="#a8a8a8"/>
<circle cx="498.2" cy="629.0" r="1.3" fill="#a8a8a8"/>
<circle cx="495.3" cy="629.1" r="1.3" fill="#a8a8a8"/>
<circle cx="459.9" cy="595.4" r="1.3" fill="#a8a8a8"/>
<circle cx="475.2" cy="603.5" r="1.3" fill="#a8a8a8"/>
<circle cx="501.3" cy="632.1" r="1.3" fill="#a8a8a8"/>
<circle cx="491.0" cy="615.5" r="1.3" fill="#a8a8a8"/>
<circle cx="488.4" cy="622.7" r="1.3" fill="#a8a8a8"/>
<circle cx="486.7" cy="617.9" r="1.3" fill="#a8a8a8"/>
<circle cx="490.6" cy="621.1" r="1.3" fill="#a8a8a8"/>
<circle cx="472.3" cy="594.7" r="1.3" fill="#a8a8a8"/>
<circle cx="496.1" cy="628.2" r="1.3" fill="#a8a8a8"/>
<circle cx="480.9" cy="614.7" r="1.3" fill="#a8a8a8"/>
<circle cx="477.8" cy="611.5" r="1.3" fill="#a8a8a8"/>
<circle cx="493.0" cy="622.5" r="1.3" fill="#a8a8a8"/>
<circle cx="502.1" cy="633.8" r="1.3" fill="#a8a8a8"/>
<circle cx="500.3" cy="633.1" r="1.3" fill="#a8a8a8"/>
<circle cx="494.3" cy="620.0" r="1.3" fill="#a8a8a8"/>
<circle cx="466.4" cy="594.3" r="1.3" fill="#a8a8a8"/>
<circle cx="473.3" cy="595.4" r="1.3" fill="#a8a8a8"/>
<circle cx="483.4" cy="602.5" r="1.3" fill="#a8a8a8"/>
<circle cx="502.5" cy="634.5" r="1.3" fill="#a8a8a8"/>
<circle cx="486.8" cy="610.6" r="1.3" fill="#a8a8a8"/>
<circle cx="504.3" cy="635.2" r="1.3" fill="#a8a8a8"/>
<circle cx="479.7" cy="597.9" r="1.3" fill="#a8a8a8"/>
<circle cx="485.6" cy="607.1" r="1.3" fill="#a8a8a8"/>
<circle cx="459.6" cy="595.7" r="1.3" fill="#a8a8a8"/>
<circle cx="471.9" cy="602.8" r="1.3" fill="#a8a8a8"/>
<circle cx="477.0" cy="609.5" r="1.3" fill="#a8a8a8"/>
<circle cx="486.6" cy="612.1" r="1.3" fill="#a8a8a8"/>
<circle cx="462.1" cy="591.9" r="1.3" fill="#a8a8a8"/>
<circle cx="470.1" cy="602.9" r="1.3" fill="#a8a8a8"/>
<circle cx="472.0" cy="605.8" r="1.3" fill="#a8a8a8"/>
<circle cx="486.8" cy="616.8" r="1.3" fill="#a8a8a8"/>
<circle cx="485.0" cy="616.4" r="1.3" fill="#a8a8a8"/>
<circle cx="494.0" cy="620.1" r="1.3" fill="#a8a8a8"/>
<circle cx="498.7" cy="627.2" r="1.3" fill="#a8a8a8"/>
<circle cx="493.8" cy="623.6" r="1.3" fill="#a8a8a8"/>
<circle cx="491.5" cy="617.3" r="1.3" fill="#a8a8a8"/>
<circle cx="495.8" cy="626.0" r="1.3" fill="#a8a8a8"/>
<circle cx="474.7" cy="603.0" r="1.3" fill="#a8a8a8"/>
<circle cx="479.9" cy="605.8" r="1.3" fill="#a8a8a8"/>
<circle cx="472.3" cy="598.2" r="1.3" fill="#a8a8a8"/>
<circle cx="486.0" cy="618.2" r="1.3" fill="#a8a8a8"/>
<circle cx="480.1" cy="615.3" r="1.3" fill="#a8a8a8"/>
<circle cx="476.9" cy="599.1" r="1.3" fill="#a8a8a8"/>
<circle cx="482.3" cy="596.7" r="1.3" fill="#a8a8a8"/>
<circle cx="484.6" cy="605.7" r="1.3" fill="#a8a8a8"/>
<circle cx="481.4" cy="613.5" r="1.3" fill="#a8a8a8"/>
<circle cx="467.9" cy="590.1" r="1.3" fill="#a8a8a8"/>
<circle cx="492.0" cy="617.3" r="1.3" fill="#a8a8a8"/>
<circle cx="464.1" cy="598.1" r="1.3" fill="#a8a8a8"/>
<circle cx="500.9" cy="631.5" r="1.3" fill="#a8a8a8"/>
<circle cx="492.9" cy="618.4" r="1.3" fill="#a8a8a8"/>
<circle cx="478.7" cy="592.8" r="1.3" fill="#a8a8a8"/>
<circle cx="486.2" cy="620.4" r="1.3" fill="#a8a8a8"/>
<circle cx="498.3" cy="631.1" r="1.3" fill="#a8a8a8"/>
<circle cx="500.3" cy="629.9" r="1.3" fill="#a8a8a8"/>
<circle cx="494.5" cy="622.1" r="1.3" fill="#a8a8a8"/>
<circle cx="488.1" cy="618.8" r="1.3" fill="#a8a8a8"/>
<circle cx="475.6" cy="595.5" r="1.3" fill="#a8a8a8"/>
<circle cx="471.5" cy="597.3" r="1.3" fill="#a8a8a8"/>
<circle cx="487.7" cy="620.0" r="1.3" fill="#a8a8a8"/>
<circle cx="469.8" cy="598.7" r="1.3" fill="#a8a8a8"/>
<circle cx="496.9" cy="626.7" r="1.3" fill="#a8a8a8"/>
<circle cx="484.7" cy="613.7" r="1.3" fill="#a8a8a8"/>
<circle cx="487.3" cy="612.4" r="1.3" fill="#a8a8a8"/>
<circle cx="490.2" cy="614.2" r="1.3" fill="#a8a8a8"/>
<circle cx="473.2" cy="598.8" r="1.3" fill="#a8a8a8"/>
<circle cx="469.7" cy="589.9" r="1.3" fill="#a8a8a8"/>
<circle cx="484.2" cy="616.3" r="1.3" fill="#a8a8a8"/>
<circle cx="490.3" cy="615.7" r="1.3" fill="#a8a8a8"/>
<circle cx="485.1" cy="618.0" r="1.3" fill="#a8a8a8"/>
<circle cx="484.6" cy="615.1" r="1.3" fill="#a8a8a8"/>
<circle cx="476.0" cy="601.5" r="1.3" fill="#a8a8a8"/>
<circle cx="499.7" cy="631.6" r="1.3" fill="#a8a8a8"/>
<circle cx="473.5" cy="603.1" r="1.3" fill="#a8a8a8"/>
<circle cx="503.1" cy="634.5" r="1.3" fill="#a8a8a8"/>
<circle cx="482.4" cy="613.1" r="1.3" fill="#a8a8a8"/>
<circle cx="500.8" cy="632.4" r="1.3" fill="#a8a8a8"/>
<circle cx="493.2" cy="617.2" r="1.3" fill="#a8a8a8"/>
<circle cx="497.4" cy="627.8" r="1.3" fill="#a8a8a8"/>
<circle cx="496.2" cy="625.2" r="1.3" fill="#a8a8a8"/>
<circle cx="492.2" cy="617.4" r="1.3" fill="#a8a8a8"/>
<circle cx="497.7" cy="629.5" r="1.3" fill="#a8a8a8"/>
<circle cx="503.1" cy="635.0" r="1.3" fill="#a8a8a8"/>
<circle cx="498.5" cy="627.7" r="1.3" fill="#a8a8a8"/>
<circle cx="497.6" cy="627.7" r="1.3" fill="#a8a8a8"/>
<circle cx="480.4" cy="610.9" r="1.3" fill="#a8a8a8"/>
<circle cx="484.2" cy="619.1" r="1.3" fill="#a8a8a8"/>
<circle cx="478.4" cy="604.6" r="1.3" fill="#a8a8a8"/>
<circle cx="465.6" cy="599.8" r="1.3" fill="#a8a8a8"/>
<circle cx="485.3" cy="610.8" r="1.3" fill="#a8a8a8"/>
<circle cx="484.1" cy="619.9" r="1.3" fill="#a8a8a8"/>
<circle cx="495.9" cy="626.0" r="1.3" fill="#a8a8a8"/>
<circle cx="489.9" cy="611.4" r="1.3" fill="#a8a8a8"/>
<circle cx="501.4" cy="633.3" r="1.3" fill="#a8a8a8"/>
<circle cx="498.5" cy="626.8" r="1.3" fill="#a8a8a8"/>
<circle cx="480.4" cy="596.6" r="1.3" fill="#a8a8a8"/>
<circle cx="469.7" cy="601.6" r="1.3" fill="#a8a8a8"/>
<circle cx="481.6" cy="611.5" r="1.3" fill="#a8a8a8"/>
<circle cx="501.2" cy="632.2" r="1.3" fill="#a8a8a8"/>
<circle cx="478.1" cy="606.6" r="1.3" fill="#a8a8a8"/>
<circle cx="486.4" cy="617.2" r="1.3" fill="#a8a8a8"/>
<circle cx="468.9" cy="594.0" r="1.3" fill="#a8a8a8"/>
<circle cx="460.0" cy="599.2" r="1.3" fill="#a8a8a8"/>
<circle cx="486.6" cy="612.8" r="1.3" fill="#a8a8a8"/>
<circle cx="475.5" cy="598.7" r="1.3" fill="#a8a8a8"/>
<circle cx="479.3" cy="599.4" r="1.3" fill="#a8a8a8"/>
<circle cx="492.3" cy="623.7" r="1.3" fill="#a8a8a8"/>
<circle cx="464.3" cy="591.6" r="1.3" fill="#a8a8a8"/>
<circle cx="500.4" cy="628.4" r="1.3" fill="#a8a8a8"/>
<circle cx="489.3" cy="612.4" r="1.3" fill="#a8a8a8"/>
<circle cx="500.8" cy="632.0" r="1.3" fill="#a8a8a8"/>
<circle cx="478.4" cy="591.7" r="1.3" fill="#a8a8a8"/>
<circle cx="477.3" cy="613.1" r="1.3" fill="#a8a8a8"/>
<circle cx="462.4" cy="599.1" r="1.3" fill="#a8a8a8"/>
<circle cx="469.3" cy="597.5" r="1.3" fill="#a8a8a8"/>
<circle cx="498.6" cy="629.5" r="1.3" fill="#a8a8a8"/>
<circle cx="498.7" cy="627.1" r="1.3" fill="#a8a8a8"/>
<circle cx="498.4" cy="631.7" r="1.3" fill="#a8a8a8"/>
<circle cx="477.5" cy="591.8" r="1.3" fill="#a8a8a8"/>
<circle cx="478.5" cy="596.6" r="1.3" fill="#a8a8a8"/>
<circle cx="481.8" cy="616.9" r="1.3" fill="#a8a8a8"/>
<circle cx="480.8" cy="603.4" r="1.3" fill="#a8a8a8"/>
<circle cx="498.6" cy="628.5" r="1.3" fill="#a8a8a8"/>
<circle cx="493.9" cy="625.3" r="1.3" fill="#a8a8a8"/>
<circle cx="476.4" cy="601.8" r="1.3" fill="#a8a8a8"/>
<circle cx="465.4" cy="593.8" r="1.3" fill="#a8a8a8"/>
<circle cx="471.5" cy="604.4" r="1.3" fill="#a8a8a8"/>
<circle cx="476.7" cy="609.5" r="1.3" fill="#a8a8a8"/>
<circle cx="486.1" cy="610.2" r="1.3" fill="#a8a8a8"/>
<circle cx="478.4" cy="590.2" r="1.3" fill="#a8a8a8"/>
<circle cx="481.5" cy="613.1" r="1.3" fill="#a8a8a8"/>
<circle cx="488.9" cy="612.8" r="1.3" fill="#a8a8a8"/>
<circle cx="477.3" cy="601.7" r="1.3" fill="#a8a8a8"/>
<circle cx="467.3" cy="602.6" r="1.3" fill="#a8a8a8"/>
<circle cx="494.6" cy="623.5" r="1.3" fill="#a8a8a8"/>
<circle cx="469.2" cy="590.4" r="1.3" fill="#a8a8a8"/>
<circle cx="472.7" cy="601.3" r="1.3" fill="#a8a8a8"/>
<circle cx="490.4" cy="613.3" r="1.3" fill="#a8a8a8"/>
<circle cx="492.2" cy="625.6" r="1.3" fill="#a8a8a8"/>
<circle cx="489.6" cy="622.0" r="1.3" fill="#a8a8a8"/>
<circle cx="490.8" cy="622.7" r="1.3" fill="#a8a8a8"/>
<circle cx="464.4" cy="599.1" r="1.3" fill="#a8a8a8"/>
<circle cx="476.0" cy="600.1" r="1.3" fill="#a8a8a8"/>
<circle cx="467.8" cy="600.5" r="1.3" fill="#a8a8a8"/>
<circle cx="486.5" cy="609.6" r="1.3" fill="#a8a8a8"/>
<circle cx="487.0" cy="610.3" r="1.3" fill="#a8a8a8"/>
<circle cx="477.3" cy="608.0" r="1.3" fill="#a8a8a8"/>
<circle cx="498.9" cy="626.3" r="1.3" fill="#a8a8a8"/>
<circle cx="462.8" cy="598.6" r="1.3" fill="#a8a8a8"/>
<circle cx="464.2" cy="600.7" r="1.3" fill="#a8a8a8"/>
<circle cx="503.4" cy="634.5" r="1.3" fill="#a8a8a8"/>
<circle cx="479.7" cy="614.2" r="1.3" fill="#a8a8a8"/>
<circle cx="479.4" cy="608.8" r="1.3" fill="#a8a8a8"/>
<circle cx="471.4" cy="598.1" r="1.3" fill="#a8a8a8"/>
<circle cx="481.8" cy="606.8" r="1.3" fill="#a8a8a8"/>
<circle cx="497.3" cy="629.5" r="1.3" fill="#a8a8a8"/>
<circle cx="503.4" cy="635.3" r="1.3" fill="#a8a8a8"/>
<circle cx="476.1" cy="597.3" r="1.3" fill="#a8a8a8"/>
<circle cx="479.2" cy="593.4" r="1.3" fill="#a8a8a8"/>
<circle cx="503.5" cy="635.5" r="1.3" fill="#a8a8a8"/>
<circle cx="480.0" cy="604.6" r="1.3" fill="#a8a8a8"/>
<circle cx="504.7" cy="636.9" r="1.3" fill="#a8a8a8"/>
<circle cx="465.5" cy="592.3" r="1.3" fill="#a8a8a8"/>
<circle cx="503.3" cy="635.2" r="1.3" fill="#a8a8a8"/>
<circle cx="479.6" cy="609.6" r="1.3" fill="#a8a8a8"/>
<circle cx="492.4" cy="617.1" r="1.3" fill="#a8a8a8"/>
<circle cx="492.3" cy="621.2" r="1.3" fill="#a8a8a8"/>
<circle cx="492.3" cy="620.2" r="1.3" fill="#a8a8a8"/>
<circle cx="491.5" cy="615.7" r="1.3" fill="#a8a8a8"/>
<circle cx="490.0" cy="620.9" r="1.3" fill="#a8a8a8"/>
<circle cx="467.1" cy="590.3" r="1.3" fill="#a8a8a8"/>
<circle cx="492.2" cy="625.2" r="1.3" fill="#a8a8a8"/>
<circle cx="487.0" cy="617.5" r="1.3" fill="#a8a8a8"/>
<circle cx="486.1" cy="619.6" r="1.3" fill="#a8a8a8"/>
<circle cx="487.8" cy="611.1" r="1.3" fill="#a8a8a8"/>
<circle cx="476.4" cy="595.5" r="1.3" fill="#a8a8a8"/>
<circle cx="503.5" cy="634.9" r="1.3" fill="#a8a8a8"/>
<circle cx="461.8" cy="597.9" r="1.3" fill="#a8a8a8"/>
<circle cx="487.4" cy="608.6" r="1.3" fill="#a8a8a8"/>
<circle cx="460.4" cy="594.9" r="1.3" fill="#a8a8a8"/>
<circle cx="486.1" cy="620.6" r="1.3" fill="#a8a8a8"/>
<circle cx="500.5" cy="632.3" r="1.3" fill="#a8a8a8"/>
<circle cx="489.0" cy="622.2" r="1.3" fill="#a8a8a8"/>
<circle cx="479.1" cy="603.4" r="1.3" fill="#a8a8a8"/>
<circle cx="460.4" cy="597.3" r="1.3" fill="#a8a8a8"/>
<circle cx="489.8" cy="613.8" r="1.3" fill="#a8a8a8"/>
<circle cx="496.4" cy="627.5" r="1.3" fill="#a8a8a8"/>
<circle cx="482.8" cy="607.2" r="1.3" fill="#a8a8a8"/>
<circle cx="495.4" cy="619.6" r="1.3" fill="#a8a8a8"/>
<circle cx="468.3" cy="595.9" r="1.3" fill="#a8a8a8"/>
<circle cx="495.4" cy="623.1" r="1.3" fill="#a8a8a8"/>
<circle cx="493.5" cy="619.8" r="1.3" fill="#a8a8a8"/>
<circle cx="481.6" cy="615.1" r="1.3" fill="#a8a8a8"/>
<circle cx="502.3" cy="634.0" r="1.3" fill="#a8a8a8"/>
<circle cx="481.6" cy="605.8" r="1.3" fill="#a8a8a8"/>
<circle cx="484.3" cy="610.9" r="1.3" fill="#a8a8a8"/>
<circle cx="462.7" cy="595.2" r="1.3" fill="#a8a8a8"/>
<circle cx="463.6" cy="598.8" r="1.3" fill="#a8a8a8"/>
<circle cx="490.5" cy="622.8" r="1.3" fill="#a8a8a8"/>
<circle cx="477.4" cy="610.5" r="1.3" fill="#a8a8a8"/>
<circle cx="499.2" cy="629.4" r="1.3" fill="#a8a8a8"/>
<circle cx="480.7" cy="596.5" r="1.3" fill="#a8a8a8"/>
<circle cx="504.0" cy="636.4" r="1.3" fill="#a8a8a8"/>
<circle cx="474.2" cy="601.1" r="1.3" fill="#a8a8a8"/>
<circle cx="482.0" cy="604.7" r="1.3" fill="#a8a8a8"/>
<circle cx="483.6" cy="617.3" r="1.3" fill="#a8a8a8"/>
<circle cx="491.9" cy="615.5" r="1.3" fill="#a8a8a8"/>
<circle cx="478.1" cy="591.5" r="1.3" fill="#a8a8a8"/>
<circle cx="490.2" cy="613.7" r="1.3" fill="#a8a8a8"/>
<circle cx="495.0" cy="627.2" r="1.3" fill="#a8a8a8"/>
<circle cx="467.5" cy="601.0" r="1.3" fill="#a8a8a8"/>
<circle cx="491.8" cy="616.2" r="1.3" fill="#a8a8a8"/>
<circle cx="487.9" cy="611.4" r="1.3" fill="#a8a8a8"/>
<circle cx="500.5" cy="632.2" r="1.3" fill="#a8a8a8"/>
<circle cx="463.7" cy="594.3" r="1.3" fill="#a8a8a8"/>
<circle cx="475.4" cy="609.2" r="1.3" fill="#a8a8a8"/>
<circle cx="477.7" cy="590.5" r="1.3" fill="#a8a8a8"/>
<circle cx="485.3" cy="615.8" r="1.3" fill="#a8a8a8"/>
<circle cx="467.6" cy="600.3" r="1.3" fill="#a8a8a8"/>
<circle cx="471.7" cy="595.9" r="1.3" fill="#a8a8a8"/>
<circle cx="495.3" cy="624.1" r="1.3" fill="#a8a8a8"/>
<circle cx="488.8" cy="609.1" r="1.3" fill="#a8a8a8"/>
<circle cx="488.2" cy="619.8" r="1.3" fill="#a8a8a8"/>
<circle cx="502.5" cy="633.3" r="1.3" fill="#a8a8a8"/>
<circle cx="469.3" cy="601.8" r="1.3" fill="#a8a8a8"/>
<circle cx="492.0" cy="623.2" r="1.3" fill="#a8a8a8"/>
<circle cx="487.7" cy="615.1" r="1.3" fill="#a8a8a8"/>
<circle cx="484.2" cy="613.8" r="1.3" fill="#a8a8a8"/>
<circle cx="460.1" cy="596.5" r="1.3" fill="#a8a8a8"/>
<circle cx="469.0" cy="591.5" r="1.3" fill="#a8a8a8"/>
<circle cx="462.7" cy="595.2" r="1.3" fill="#a8a8a8"/>
<circle cx="479.7" cy="612.0" r="1.3" fill="#a8a8a8"/>
<circle cx="496.5" cy="627.0" r="1.3" fill="#a8a8a8"/>
<circle cx="470.8" cy="600.7" r="1.3" fill="#a8a8a8"/>
<circle cx="471.3" cy="596.9" r="1.3" fill="#a8a8a8"/>
<circle cx="482.2" cy="596.9" r="1.3" fill="#a8a8a8"/>
<circle cx="500.9" cy="632.5" r="1.3" fill="#a8a8a8"/>
<circle cx="498.0" cy="629.2" r="1.3" fill="#a8a8a8"/>
<circle cx="485.2" cy="609.9" r="1.3" fill="#a8a8a8"/>
<circle cx="501.5" cy="632.3" r="1.3" fill="#a8a8a8"/>
<circle cx="481.3" cy="617.0" r="1.3" fill="#a8a8a8"/>
<circle cx="482.6" cy="616.7" r="1.3" fill="#a8a8a8"/>
<circle cx="481.0" cy="606.6" r="1.3" fill="#a8a8a8"/>
<circle cx="497.9" cy="630.4" r="1.3" fill="#a8a8a8"/>
<circle cx="480.1" cy="609.3" r="1.3" fill="#a8a8a8"/>
<circle cx="492.0" cy="617.0" r="1.3" fill="#a8a8a8"/>
<circle cx="486.7" cy="615.6" r="1.3" fill="#a8a8a8"/>
<circle cx="474.8" cy="603.3" r="1.3" fill="#a8a8a8"/>
<circle cx="483.1" cy="610.3" r="1.3" fill="#a8a8a8"/>
<circle cx="486.8" cy="606.8" r="1.3" fill="#a8a8a8"/>
<circle cx="485.4" cy="609.1" r="1.3" fill="#a8a8a8"/>
<circle cx="473.5" cy="593.6" r="1.3" fill="#a8a8a8"/>
<circle cx="493.3" cy="620.1" r="1.3" fill="#a8a8a8"/>
<circle cx="487.2" cy="612.4" r="1.3" fill="#a8a8a8"/>
<circle cx="468.8" cy="600.1" r="1.3" fill="#a8a8a8"/>
<circle cx="484.9" cy="603.1" r="1.3" fill="#a8a8a8"/>
<circle cx="501.6" cy="632.7" r="1.3" fill="#a8a8a8"/>
<circle cx="485.8" cy="611.9" r="1.3" fill="#a8a8a8"/>
<circle cx="469.3" cy="591.3" r="1.3" fill="#a8a8a8"/>
<circle cx="478.4" cy="602.3" r="1.3" fill="#a8a8a8"/>
<circle cx="468.3" cy="598.4" r="1.3" fill="#a8a8a8"/>
<circle cx="491.0" cy="619.0" r="1.3" fill="#a8a8a8"/>
<circle cx="496.5" cy="625.3" r="1.3" fill="#a8a8a8"/>
<circle cx="490.2" cy="614.1" r="1.3" fill="#a8a8a8"/>
<circle cx="475.9" cy="603.1" r="1.3" fill="#a8a8a8"/>
<circle cx="477.3" cy="590.5" r="1.3" fill="#a8a8a8"/>
<circle cx="500.7" cy="632.5" r="1.3" fill="#a8a8a8"/>
<circle cx="465.7" cy="593.5" r="1.3" fill="#a8a8a8"/>
<circle cx="478.8" cy="614.8" r="1.3" fill="#a8a8a8"/>
<circle cx="497.3" cy="629.0" r="1.3" fill="#a8a8a8"/>
<circle cx="491.6" cy="624.3" r="1.3" fill="#a8a8a8"/>
<circle cx="491.6" cy="620.1" r="1.3" fill="#a8a8a8"/>
<circle cx="494.1" cy="621.2" r="1.3" fill="#a8a8a8"/>
<circle cx="463.7" cy="596.5" r="1.3" fill="#a8a8a8"/>
<circle cx="483.3" cy="603.7" r="1.3" fill="#a8a8a8"/>
<circle cx="458.7" cy="592.1" r="1.3" fill="#a8a8a8"/>
<circle cx="496.6" cy="623.2" r="1.3" fill="#a8a8a8"/>
<circle cx="484.2" cy="604.1" r="1.3" fill="#a8a8a8"/>
<circle cx="496.0" cy="626.7" r="1.3" fill="#a8a8a8"/>
<circle cx="492.9" cy="624.4" r="1.3" fill="#a8a8a8"/>
<circle cx="501.4" cy="633.2" r="1.3" fill="#a8a8a8"/>
<circle cx="478.2" cy="602.2" r="1.3" fill="#a8a8a8"/>
<circle cx="487.4" cy="606.8" r="1.3" fill="#a8a8a8"/>
<circle cx="500.5" cy="633.7" r="1.3" fill="#a8a8a8"/>
<circle cx="495.8" cy="627.6" r="1.3" fill="#a8a8a8"/>
<circle cx="520.1" cy="618.4" r="1.3" fill="#a8a8a8"/>
<circle cx="521.6" cy="618.0" r="1.3" fill="#a8a8a8"/>
<circle cx="517.2" cy="626.0" r="1.3" fill="#a8a8a8"/>
<circle cx="518.2" cy="624.9" r="1.3" fill="#a8a8a8"/>
<circle cx="529.6" cy="612.0" r="1.3" fill="#a8a8a8"/>
<circle cx="534.4" cy="597.0" r="1.3" fill="#a8a8a8"/>
<circle cx="524.6" cy="614.9" r="1.3" fill="#a8a8a8"/>
<circle cx="530.3" cy="606.4" r="1.3" fill="#a8a8a8"/>
<circle cx="515.4" cy="626.7" r="1.3" fill="#a8a8a8"/>
<circle cx="519.0" cy="623.9" r="1.3" fill="#a8a8a8"/>
<circle cx="537.2" cy="592.2" r="1.3" fill="#a8a8a8"/>
<circle cx="524.3" cy="613.4" r="1.3" fill="#a8a8a8"/>
<circle cx="508.9" cy="632.7" r="1.3" fill="#a8a8a8"/>
<circle cx="529.7" cy="611.6" r="1.3" fill="#a8a8a8"/>
<circle cx="551.3" cy="597.3" r="1.3" fill="#a8a8a8"/>
<circle cx="512.2" cy="627.8" r="1.3" fill="#a8a8a8"/>
<circle cx="531.4" cy="592.8" r="1.3" fill="#a8a8a8"/>
<circle cx="532.4" cy="601.0" r="1.3" fill="#a8a8a8"/>
<circle cx="515.4" cy="624.0" r="1.3" fill="#a8a8a8"/>
<circle cx="531.6" cy="600.2" r="1.3" fill="#a8a8a8"/>
<circle cx="535.2" cy="607.8" r="1.3" fill="#a8a8a8"/>
<circle cx="520.9" cy="608.8" r="1.3" fill="#a8a8a8"/>
<circle cx="535.2" cy="607.5" r="1.3" fill="#a8a8a8"/>
<circle cx="539.8" cy="607.2" r="1.3" fill="#a8a8a8"/>
<circle cx="511.1" cy="629.4" r="1.3" fill="#a8a8a8"/>
<circle cx="527.2" cy="598.3" r="1.3" fill="#a8a8a8"/>
<circle cx="543.6" cy="601.4" r="1.3" fill="#a8a8a8"/>
<circle cx="548.3" cy="600.5" r="1.3" fill="#a8a8a8"/>
<circle cx="543.5" cy="599.1" r="1.3" fill="#a8a8a8"/>
<circle cx="528.0" cy="596.4" r="1.3" fill="#a8a8a8"/>
<circle cx="507.6" cy="633.0" r="1.3" fill="#a8a8a8"/>
<circle cx="534.7" cy="604.6" r="1.3" fill="#a8a8a8"/>
<circle cx="507.4" cy="632.8" r="1.3" fill="#a8a8a8"/>
<circle cx="507.6" cy="634.1" r="1.3" fill="#a8a8a8"/>
<circle cx="520.8" cy="622.6" r="1.3" fill="#a8a8a8"/>
<circle cx="513.6" cy="626.0" r="1.3" fill="#a8a8a8"/>
<circle cx="531.2" cy="611.1" r="1.3" fill="#a8a8a8"/>
<circle cx="508.0" cy="629.6" r="1.3" fill="#a8a8a8"/>
<circle cx="527.2" cy="602.2" r="1.3" fill="#a8a8a8"/>
<circle cx="506.8" cy="631.8" r="1.3" fill="#a8a8a8"/>
<circle cx="506.9" cy="634.6" r="1.3" fill="#a8a8a8"/>
<circle cx="509.4" cy="632.8" r="1.3" fill="#a8a8a8"/>
<circle cx="546.9" cy="601.1" r="1.3" fill="#a8a8a8"/>
<circle cx="513.7" cy="628.3" r="1.3" fill="#a8a8a8"/>
<circle cx="513.0" cy="628.6" r="1.3" fill="#a8a8a8"/>
<circle cx="512.1" cy="626.8" r="1.3" fill="#a8a8a8"/>
<circle cx="527.5" cy="617.3" r="1.3" fill="#a8a8a8"/>
<circle cx="521.4" cy="623.2" r="1.3" fill="#a8a8a8"/>
<circle cx="524.1" cy="612.8" r="1.3" fill="#a8a8a8"/>
<circle cx="523.0" cy="610.9" r="1.3" fill="#a8a8a8"/>
<circle cx="546.8" cy="601.4" r="1.3" fill="#a8a8a8"/>
<circle cx="514.3" cy="626.6" r="1.3" fill="#a8a8a8"/>
<circle cx="510.6" cy="627.0" r="1.3" fill="#a8a8a8"/>
<circle cx="522.7" cy="614.3" r="1.3" fill="#a8a8a8"/>
<circle cx="532.7" cy="593.3" r="1.3" fill="#a8a8a8"/>
<circle cx="511.9" cy="628.0" r="1.3" fill="#a8a8a8"/>
<circle cx="541.5" cy="605.6" r="1.3" fill="#a8a8a8"/>
<circle cx="520.0" cy="616.1" r="1.3" fill="#a8a8a8"/>
<circle cx="517.7" cy="622.3" r="1.3" fill="#a8a8a8"/>
<circle cx="544.5" cy="599.8" r="1.3" fill="#a8a8a8"/>
<circle cx="503.9" cy="636.1" r="1.3" fill="#a8a8a8"/>
<circle cx="518.3" cy="612.8" r="1.3" fill="#a8a8a8"/>
<circle cx="538.4" cy="604.8" r="1.3" fill="#a8a8a8"/>
<circle cx="524.8" cy="615.6" r="1.3" fill="#a8a8a8"/>
<circle cx="539.8" cy="596.2" r="1.3" fill="#a8a8a8"/>
<circle cx="514.3" cy="622.7" r="1.3" fill="#a8a8a8"/>
<circle cx="524.9" cy="618.3" r="1.3" fill="#a8a8a8"/>
<circle cx="507.0" cy="633.7" r="1.3" fill="#a8a8a8"/>
<circle cx="530.6" cy="595.5" r="1.3" fill="#a8a8a8"/>
<circle cx="534.7" cy="611.0" r="1.3" fill="#a8a8a8"/>
<circle cx="512.7" cy="629.1" r="1.3" fill="#a8a8a8"/>
<circle cx="533.1" cy="592.7" r="1.3" fill="#a8a8a8"/>
<circle cx="536.8" cy="591.9" r="1.3" fill="#a8a8a8"/>
<circle cx="532.6" cy="594.0" r="1.3" fill="#a8a8a8"/>
<circle cx="518.8" cy="615.8" r="1.3" fill="#a8a8a8"/>
<circle cx="504.7" cy="635.8" r="1.3" fill="#a8a8a8"/>
<circle cx="528.5" cy="607.0" r="1.3" fill="#a8a8a8"/>
<circle cx="534.1" cy="597.6" r="1.3" fill="#a8a8a8"/>
<circle cx="518.8" cy="620.6" r="1.3" fill="#a8a8a8"/>
<circle cx="523.7" cy="605.3" r="1.3" fill="#a8a8a8"/>
<circle cx="528.3" cy="611.8" r="1.3" fill="#a8a8a8"/>
<circle cx="524.2" cy="619.7" r="1.3" fill="#a8a8a8"/>
<circle cx="512.2" cy="628.3" r="1.3" fill="#a8a8a8"/>
<circle cx="525.9" cy="615.6" r="1.3" fill="#a8a8a8"/>
<circle cx="515.6" cy="627.7" r="1.3" fill="#a8a8a8"/>
<circle cx="511.7" cy="630.8" r="1.3" fill="#a8a8a8"/>
<circle cx="507.5" cy="631.7" r="1.3" fill="#a8a8a8"/>
<circle cx="533.9" cy="612.4" r="1.3" fill="#a8a8a8"/>
<circle cx="511.3" cy="625.1" r="1.3" fill="#a8a8a8"/>
<circle cx="536.0" cy="601.4" r="1.3" fill="#a8a8a8"/>
<circle cx="515.0" cy="627.8" r="1.3" fill="#a8a8a8"/>
<circle cx="519.0" cy="612.7" r="1.3" fill="#a8a8a8"/>
<circle cx="508.9" cy="630.3" r="1.3" fill="#a8a8a8"/>
<circle cx="520.7" cy="614.8" r="1.3" fill="#a8a8a8"/>
<circle cx="506.2" cy="633.8" r="1.3" fill="#a8a8a8"/>
<circle cx="516.6" cy="620.9" r="1.3" fill="#a8a8a8"/>
<circle cx="521.2" cy="618.6" r="1.3" fill="#a8a8a8"/>
<circle cx="526.4" cy="616.7" r="1.3" fill="#a8a8a8"/>
<circle cx="543.6" cy="591.0" r="1.3" fill="#a8a8a8"/>
<circle cx="523.1" cy="620.3" r="1.3" fill="#a8a8a8"/>
<circle cx="511.2" cy="627.4" r="1.3" fill="#a8a8a8"/>
<circle cx="541.3" cy="590.7" r="1.3" fill="#a8a8a8"/>
<circle cx="524.1" cy="610.2" r="1.3" fill="#a8a8a8"/>
<circle cx="522.2" cy="612.7" r="1.3" fill="#a8a8a8"/>
<circle cx="523.0" cy="611.5" r="1.3" fill="#a8a8a8"/>
<circle cx="510.2" cy="628.4" r="1.3" fill="#a8a8a8"/>
<circle cx="522.5" cy="620.7" r="1.3" fill="#a8a8a8"/>
<circle cx="546.0" cy="601.6" r="1.3" fill="#a8a8a8"/>
<circle cx="515.6" cy="618.7" r="1.3" fill="#a8a8a8"/>
<circle cx="514.5" cy="626.1" r="1.3" fill="#a8a8a8"/>
<circle cx="539.2" cy="608.7" r="1.3" fill="#a8a8a8"/>
<circle cx="520.1" cy="621.3" r="1.3" fill="#a8a8a8"/>
<circle cx="505.4" cy="635.2" r="1.3" fill="#a8a8a8"/>
<circle cx="506.1" cy="634.9" r="1.3" fill="#a8a8a8"/>
<circle cx="522.5" cy="608.1" r="1.3" fill="#a8a8a8"/>
<circle cx="510.4" cy="626.8" r="1.3" fill="#a8a8a8"/>
<circle cx="509.4" cy="631.7" r="1.3" fill="#a8a8a8"/>
<circle cx="527.5" cy="602.8" r="1.3" fill="#a8a8a8"/>
<circle cx="530.0" cy="608.9" r="1.3" fill="#a8a8a8"/>
<circle cx="537.5" cy="596.4" r="1.3" fill="#a8a8a8"/>
<circle cx="508.7" cy="631.7" r="1.3" fill="#a8a8a8"/>
<circle cx="549.2" cy="591.6" r="1.3" fill="#a8a8a8"/>
<circle cx="531.9" cy="609.8" r="1.3" fill="#a8a8a8"/>
<circle cx="504.0" cy="636.8" r="1.3" fill="#a8a8a8"/>
<circle cx="508.4" cy="632.9" r="1.3" fill="#a8a8a8"/>
<circle cx="536.2" cy="601.6" r="1.3" fill="#a8a8a8"/>
<circle cx="527.1" cy="614.5" r="1.3" fill="#a8a8a8"/>
<circle cx="511.5" cy="630.0" r="1.3" fill="#a8a8a8"/>
<circle cx="505.0" cy="635.9" r="1.3" fill="#a8a8a8"/>
<circle cx="513.1" cy="623.8" r="1.3" fill="#a8a8a8"/>
<circle cx="547.9" cy="595.7" r="1.3" fill="#a8a8a8"/>
<circle cx="516.5" cy="618.0" r="1.3" fill="#a8a8a8"/>
<circle cx="510.7" cy="629.8" r="1.3" fill="#a8a8a8"/>
<circle cx="525.6" cy="612.3" r="1.3" fill="#a8a8a8"/>
<circle cx="526.8" cy="606.4" r="1.3" fill="#a8a8a8"/>
<circle cx="531.1" cy="612.5" r="1.3" fill="#a8a8a8"/>
<circle cx="521.6" cy="622.0" r="1.3" fill="#a8a8a8"/>
<circle cx="505.9" cy="634.5" r="1.3" fill="#a8a8a8"/>
<circle cx="511.9" cy="627.4" r="1.3" fill="#a8a8a8"/>
<circle cx="512.8" cy="629.1" r="1.3" fill="#a8a8a8"/>
<circle cx="516.4" cy="619.8" r="1.3" fill="#a8a8a8"/>
<circle cx="514.3" cy="627.1" r="1.3" fill="#a8a8a8"/>
<circle cx="519.2" cy="619.5" r="1.3" fill="#a8a8a8"/>
<circle cx="542.3" cy="601.0" r="1.3" fill="#a8a8a8"/>
<circle cx="549.0" cy="596.8" r="1.3" fill="#a8a8a8"/>
<circle cx="542.2" cy="603.7" r="1.3" fill="#a8a8a8"/>
<circle cx="515.1" cy="620.1" r="1.3" fill="#a8a8a8"/>
<circle cx="506.9" cy="633.6" r="1.3" fill="#a8a8a8"/>
<circle cx="542.8" cy="604.6" r="1.3" fill="#a8a8a8"/>
<circle cx="520.7" cy="620.2" r="1.3" fill="#a8a8a8"/>
<circle cx="524.4" cy="612.1" r="1.3" fill="#a8a8a8"/>
<circle cx="519.1" cy="624.6" r="1.3" fill="#a8a8a8"/>
<circle cx="527.9" cy="610.8" r="1.3" fill="#a8a8a8"/>
<circle cx="518.7" cy="621.3" r="1.3" fill="#a8a8a8"/>
<circle cx="528.1" cy="617.4" r="1.3" fill="#a8a8a8"/>
<circle cx="525.4" cy="610.3" r="1.3" fill="#a8a8a8"/>
<circle cx="541.5" cy="591.0" r="1.3" fill="#a8a8a8"/>
<circle cx="540.4" cy="595.2" r="1.3" fill="#a8a8a8"/>
<circle cx="536.6" cy="600.3" r="1.3" fill="#a8a8a8"/>
<circle cx="530.2" cy="598.1" r="1.3" fill="#a8a8a8"/>
<circle cx="540.2" cy="591.4" r="1.3" fill="#a8a8a8"/>
<circle cx="506.9" cy="633.9" r="1.3" fill="#a8a8a8"/>
<circle cx="512.4" cy="626.4" r="1.3" fill="#a8a8a8"/>
<circle cx="527.8" cy="603.7" r="1.3" fill="#a8a8a8"/>
<circle cx="505.1" cy="636.5" r="1.3" fill="#a8a8a8"/>
<circle cx="540.7" cy="601.0" r="1.3" fill="#a8a8a8"/>
<circle cx="539.6" cy="607.8" r="1.3" fill="#a8a8a8"/>
<circle cx="506.1" cy="633.8" r="1.3" fill="#a8a8a8"/>
<circle cx="510.6" cy="629.4" r="1.3" fill="#a8a8a8"/>
<circle cx="510.0" cy="630.5" r="1.3" fill="#a8a8a8"/>
<circle cx="526.1" cy="610.3" r="1.3" fill="#a8a8a8"/>
<circle cx="515.8" cy="625.7" r="1.3" fill="#a8a8a8"/>
<circle cx="534.0" cy="606.3" r="1.3" fill="#a8a8a8"/>
<circle cx="505.2" cy="635.7" r="1.3" fill="#a8a8a8"/>
<circle cx="543.7" cy="603.8" r="1.3" fill="#a8a8a8"/>
<circle cx="518.1" cy="625.8" r="1.3" fill="#a8a8a8"/>
<circle cx="538.7" cy="598.0" r="1.3" fill="#a8a8a8"/>
<circle cx="529.0" cy="612.8" r="1.3" fill="#a8a8a8"/>
<circle cx="520.0" cy="616.1" r="1.3" fill="#a8a8a8"/>
<circle cx="515.6" cy="627.0" r="1.3" fill="#a8a8a8"/>
<circle cx="531.9" cy="614.1" r="1.3" fill="#a8a8a8"/>
<circle cx="543.4" cy="604.4" r="1.3" fill="#a8a8a8"/>
<circle cx="528.6" cy="599.2" r="1.3" fill="#a8a8a8"/>
<circle cx="536.8" cy="593.5" r="1.3" fill="#a8a8a8"/>
<circle cx="535.4" cy="611.4" r="1.3" fill="#a8a8a8"/>
<circle cx="542.0" cy="593.5" r="1.3" fill="#a8a8a8"/>
<circle cx="536.3" cy="596.6" r="1.3" fill="#a8a8a8"/>
<circle cx="523.5" cy="617.7" r="1.3" fill="#a8a8a8"/>
<circle cx="525.2" cy="609.0" r="1.3" fill="#a8a8a8"/>
<circle cx="505.7" cy="634.9" r="1.3" fill="#a8a8a8"/>
<circle cx="533.6" cy="605.5" r="1.3" fill="#a8a8a8"/>
<circle cx="536.3" cy="610.9" r="1.3" fill="#a8a8a8"/>
<circle cx="536.6" cy="596.6" r="1.3" fill="#a8a8a8"/>
<circle cx="526.9" cy="618.6" r="1.3" fill="#a8a8a8"/>
<circle cx="522.7" cy="622.2" r="1.3" fill="#a8a8a8"/>
<circle cx="546.0" cy="591.1" r="1.3" fill="#a8a8a8"/>
<circle cx="521.6" cy="607.0" r="1.3" fill="#a8a8a8"/>
<circle cx="537.0" cy="608.5" r="1.3" fill="#a8a8a8"/>
<circle cx="510.8" cy="628.6" r="1.3" fill="#a8a8a8"/>
<circle cx="520.8" cy="608.5" r="1.3" fill="#a8a8a8"/>
<circle cx="515.5" cy="627.7" r="1.3" fill="#a8a8a8"/>
<circle cx="518.9" cy="619.4" r="1.3" fill="#a8a8a8"/>
<circle cx="530.0" cy="614.8" r="1.3" fill="#a8a8a8"/>
<circle cx="538.2" cy="594.8" r="1.3" fill="#a8a8a8"/>
<circle cx="507.7" cy="634.2" r="1.3" fill="#a8a8a8"/>
<circle cx="512.6" cy="626.6" r="1.3" fill="#a8a8a8"/>
<circle cx="511.4" cy="624.6" r="1.3" fill="#a8a8a8"/>
<circle cx="507.8" cy="631.1" r="1.3" fill="#a8a8a8"/>
<circle cx="519.2" cy="617.6" r="1.3" fill="#a8a8a8"/>
<circle cx="516.6" cy="617.5" r="1.3" fill="#a8a8a8"/>
<circle cx="509.0" cy="632.6" r="1.3" fill="#a8a8a8"/>
<circle cx="537.9" cy="596.2" r="1.3" fill="#a8a8a8"/>
<circle cx="508.0" cy="631.3" r="1.3" fill="#a8a8a8"/>
<circle cx="526.3" cy="618.3" r="1.3" fill="#a8a8a8"/>
<circle cx="530.0" cy="595.1" r="1.3" fill="#a8a8a8"/>
<circle cx="520.8" cy="612.9" r="1.3" fill="#a8a8a8"/>
<circle cx="529.5" cy="612.3" r="1.3" fill="#a8a8a8"/>
<circle cx="521.4" cy="611.3" r="1.3" fill="#a8a8a8"/>
<circle cx="504.8" cy="636.8" r="1.3" fill="#a8a8a8"/>
<circle cx="532.3" cy="612.5" r="1.3" fill="#a8a8a8"/>
<circle cx="534.3" cy="598.5" r="1.3" fill="#a8a8a8"/>
<circle cx="515.7" cy="625.0" r="1.3" fill="#a8a8a8"/>
<circle cx="528.1" cy="610.9" r="1.3" fill="#a8a8a8"/>
<circle cx="520.0" cy="612.6" r="1.3" fill="#a8a8a8"/>
<circle cx="506.5" cy="633.8" r="1.3" fill="#a8a8a8"/>
<circle cx="538.0" cy="605.6" r="1.3" fill="#a8a8a8"/>
<circle cx="538.5" cy="604.4" r="1.3" fill="#a8a8a8"/>
<circle cx="530.3" cy="615.5" r="1.3" fill="#a8a8a8"/>
<circle cx="507.4" cy="633.3" r="1.3" fill="#a8a8a8"/>
<circle cx="521.6" cy="621.5" r="1.3" fill="#a8a8a8"/>
<circle cx="525.7" cy="608.9" r="1.3" fill="#a8a8a8"/>
<circle cx="530.1" cy="615.6" r="1.3" fill="#a8a8a8"/>
<circle cx="517.2" cy="616.7" r="1.3" fill="#a8a8a8"/>
<circle cx="541.9" cy="606.4" r="1.3" fill="#a8a8a8"/>
<circle cx="537.1" cy="605.7" r="1.3" fill="#a8a8a8"/>
<circle cx="517.9" cy="619.6" r="1.3" fill="#a8a8a8"/>
<circle cx="524.3" cy="620.3" r="1.3" fill="#a8a8a8"/>
<circle cx="523.1" cy="604.7" r="1.3" fill="#a8a8a8"/>
<circle cx="547.9" cy="595.4" r="1.3" fill="#a8a8a8"/>
<circle cx="508.9" cy="629.9" r="1.3" fill="#a8a8a8"/>
<circle cx="509.9" cy="628.2" r="1.3" fill="#a8a8a8"/>
<circle cx="533.2" cy="599.6" r="1.3" fill="#a8a8a8"/>
<circle cx="511.1" cy="629.4" r="1.3" fill="#a8a8a8"/>
<circle cx="506.2" cy="634.3" r="1.3" fill="#a8a8a8"/>
<circle cx="528.4" cy="599.1" r="1.3" fill="#a8a8a8"/>
<circle cx="542.3" cy="600.7" r="1.3" fill="#a8a8a8"/>
<circle cx="541.2" cy="594.9" r="1.3" fill="#a8a8a8"/>
<circle cx="526.0" cy="604.3" r="1.3" fill="#a8a8a8"/>
<circle cx="517.4" cy="619.3" r="1.3" fill="#a8a8a8"/>
<circle cx="511.4" cy="627.1" r="1.3" fill="#a8a8a8"/>
<circle cx="509.0" cy="632.1" r="1.3" fill="#a8a8a8"/>
<circle cx="544.5" cy="590.7" r="1.3" fill="#a8a8a8"/>
<circle cx="541.6" cy="590.0" r="1.3" fill="#a8a8a8"/>
<circle cx="526.2" cy="617.5" r="1.3" fill="#a8a8a8"/>
<circle cx="525.5" cy="618.5" r="1.3" fill="#a8a8a8"/>
<circle cx="513.0" cy="628.6" r="1.3" fill="#a8a8a8"/>
<circle cx="534.7" cy="596.1" r="1.3" fill="#a8a8a8"/>
<circle cx="526.0" cy="604.6" r="1.3" fill="#a8a8a8"/>
<circle cx="517.4" cy="625.7" r="1.3" fill="#a8a8a8"/>
<circle cx="547.7" cy="595.8" r="1.3" fill="#a8a8a8"/>
<circle cx="506.4" cy="633.6" r="1.3" fill="#a8a8a8"/>
<circle cx="505.0" cy="635.4" r="1.3" fill="#a8a8a8"/>
<circle cx="518.1" cy="619.0" r="1.3" fill="#a8a8a8"/>
<circle cx="517.5" cy="616.9" r="1.3" fill="#a8a8a8"/>
<circle cx="521.5" cy="608.1" r="1.3" fill="#a8a8a8"/>
<circle cx="534.8" cy="605.1" r="1.3" fill="#a8a8a8"/>
<circle cx="533.2" cy="609.2" r="1.3" fill="#a8a8a8"/>
<circle cx="511.4" cy="625.8" r="1.3" fill="#a8a8a8"/>
<circle cx="534.0" cy="599.2" r="1.3" fill="#a8a8a8"/>
<circle cx="531.9" cy="610.9" r="1.3" fill="#a8a8a8"/>
<circle cx="538.0" cy="604.4" r="1.3" fill="#a8a8a8"/>
<circle cx="525.6" cy="604.3" r="1.3" fill="#a8a8a8"/>
<circle cx="533.6" cy="601.2" r="1.3" fill="#a8a8a8"/>
<circle cx="530.5" cy="611.4" r="1.3" fill="#a8a8a8"/>
<circle cx="519.0" cy="618.3" r="1.3" fill="#a8a8a8"/>
<circle cx="513.0" cy="622.8" r="1.3" fill="#a8a8a8"/>
<circle cx="517.9" cy="623.2" r="1.3" fill="#a8a8a8"/>
<circle cx="529.8" cy="614.0" r="1.3" fill="#a8a8a8"/>
<circle cx="534.4" cy="601.9" r="1.3" fill="#a8a8a8"/>
<circle cx="526.6" cy="606.2" r="1.3" fill="#a8a8a8"/>
<circle cx="534.2" cy="600.4" r="1.3" fill="#a8a8a8"/>
<circle cx="523.0" cy="616.5" r="1.3" fill="#a8a8a8"/>
<circle cx="514.4" cy="620.9" r="1.3" fill="#a8a8a8"/>
<circle cx="522.7" cy="620.7" r="1.3" fill="#a8a8a8"/>
<circle cx="538.9" cy="592.7" r="1.3" fill="#a8a8a8"/>
<circle cx="539.7" cy="591.9" r="1.3" fill="#a8a8a8"/>
<circle cx="535.7" cy="597.7" r="1.3" fill="#a8a8a8"/>
<circle cx="538.4" cy="599.6" r="1.3" fill="#a8a8a8"/>
<circle cx="512.7" cy="626.0" r="1.3" fill="#a8a8a8"/>
<circle cx="546.4" cy="598.6" r="1.3" fill="#a8a8a8"/>
<circle cx="528.9" cy="594.6" r="1.3" fill="#a8a8a8"/>
<circle cx="505.3" cy="635.7" r="1.3" fill="#a8a8a8"/>
<circle cx="534.5" cy="601.9" r="1.3" fill="#a8a8a8"/>
<circle cx="525.4" cy="603.2" r="1.3" fill="#a8a8a8"/>
<circle cx="527.6" cy="608.7" r="1.3" fill="#a8a8a8"/>
<circle cx="520.5" cy="609.9" r="1.3" fill="#a8a8a8"/>
<circle cx="530.2" cy="595.9" r="1.3" fill="#a8a8a8"/>
<circle cx="527.6" cy="613.0" r="1.3" fill="#a8a8a8"/>
<circle cx="525.8" cy="612.8" r="1.3" fill="#a8a8a8"/>
<circle cx="534.4" cy="603.0" r="1.3" fill="#a8a8a8"/>
<circle cx="516.4" cy="616.3" r="1.3" fill="#a8a8a8"/>
<circle cx="517.1" cy="619.1" r="1.3" fill="#a8a8a8"/>
<circle cx="516.9" cy="617.2" r="1.3" fill="#a8a8a8"/>
<circle cx="525.8" cy="613.5" r="1.3" fill="#a8a8a8"/>
<circle cx="531.3" cy="604.4" r="1.3" fill="#a8a8a8"/>
<circle cx="508.7" cy="627.7" r="1.3" fill="#a8a8a8"/>
<circle cx="542.5" cy="598.6" r="1.3" fill="#a8a8a8"/>
<circle cx="527.8" cy="599.6" r="1.3" fill="#a8a8a8"/>
<circle cx="504.9" cy="635.8" r="1.3" fill="#a8a8a8"/>
<circle cx="516.4" cy="623.3" r="1.3" fill="#a8a8a8"/>
<circle cx="514.9" cy="624.4" r="1.3" fill="#a8a8a8"/>
<circle cx="532.3" cy="612.3" r="1.3" fill="#a8a8a8"/>
<circle cx="528.5" cy="603.6" r="1.3" fill="#a8a8a8"/>
<circle cx="533.1" cy="596.3" r="1.3" fill="#a8a8a8"/>
<circle cx="528.5" cy="614.5" r="1.3" fill="#a8a8a8"/>
<circle cx="509.3" cy="632.1" r="1.3" fill="#a8a8a8"/>
<circle cx="514.7" cy="626.8" r="1.3" fill="#a8a8a8"/>
<circle cx="512.6" cy="626.4" r="1.3" fill="#a8a8a8"/>
<circle cx="526.3" cy="610.8" r="1.3" fill="#a8a8a8"/>
<circle cx="541.9" cy="600.7" r="1.3" fill="#a8a8a8"/>
<circle cx="510.7" cy="628.7" r="1.3" fill="#a8a8a8"/>
<circle cx="518.4" cy="613.7" r="1.3" fill="#a8a8a8"/>
<circle cx="540.7" cy="593.8" r="1.3" fill="#a8a8a8"/>
<circle cx="537.2" cy="603.4" r="1.3" fill="#a8a8a8"/>
<circle cx="523.0" cy="608.8" r="1.3" fill="#a8a8a8"/>
<circle cx="529.4" cy="614.5" r="1.3" fill="#a8a8a8"/>
<circle cx="524.2" cy="617.6" r="1.3" fill="#a8a8a8"/>
<circle cx="537.3" cy="600.8" r="1.3" fill="#a8a8a8"/>
<circle cx="509.6" cy="629.8" r="1.3" fill="#a8a8a8"/>
<circle cx="539.6" cy="605.1" r="1.3" fill="#a8a8a8"/>
<circle cx="515.0" cy="627.3" r="1.3" fill="#a8a8a8"/>
<circle cx="505.3" cy="634.8" r="1.3" fill="#a8a8a8"/>
<circle cx="540.4" cy="606.7" r="1.3" fill="#a8a8a8"/>
<circle cx="540.7" cy="602.7" r="1.3" fill="#a8a8a8"/>
<circle cx="532.9" cy="601.5" r="1.3" fill="#a8a8a8"/>
<circle cx="514.1" cy="625.0" r="1.3" fill="#a8a8a8"/>
<circle cx="535.0" cy="599.0" r="1.3" fill="#a8a8a8"/>
<circle cx="536.9" cy="596.0" r="1.3" fill="#a8a8a8"/>
<circle cx="536.1" cy="606.6" r="1.3" fill="#a8a8a8"/>
<circle cx="533.2" cy="604.2" r="1.3" fill="#a8a8a8"/>
<circle cx="520.1" cy="620.6" r="1.3" fill="#a8a8a8"/>
<circle cx="534.9" cy="593.8" r="1.3" fill="#a8a8a8"/>
<circle cx="526.4" cy="611.9" r="1.3" fill="#a8a8a8"/>
<circle cx="543.6" cy="593.8" r="1.3" fill="#a8a8a8"/>
<circle cx="522.0" cy="622.0" r="1.3" fill="#a8a8a8"/>
<circle cx="549.4" cy="598.3" r="1.3" fill="#a8a8a8"/>
<circle cx="541.2" cy="600.5" r="1.3" fill="#a8a8a8"/>
<circle cx="508.6" cy="633.0" r="1.3" fill="#a8a8a8"/>
<circle cx="513.0" cy="625.6" r="1.3" fill="#a8a8a8"/>
<circle cx="528.1" cy="600.9" r="1.3" fill="#a8a8a8"/>
<circle cx="511.1" cy="629.6" r="1.3" fill="#a8a8a8"/>
<circle cx="532.4" cy="598.2" r="1.3" fill="#a8a8a8"/>
<circle cx="539.2" cy="593.8" r="1.3" fill="#a8a8a8"/>
<circle cx="519.0" cy="619.3" r="1.3" fill="#a8a8a8"/>
<circle cx="537.3" cy="609.9" r="1.3" fill="#a8a8a8"/>
<circle cx="514.9" cy="622.0" r="1.3" fill="#a8a8a8"/>
<circle cx="530.9" cy="611.1" r="1.3" fill="#a8a8a8"/>
<circle cx="521.3" cy="614.6" r="1.3" fill="#a8a8a8"/>
<circle cx="510.6" cy="631.7" r="1.3" fill="#a8a8a8"/>
<circle cx="524.2" cy="605.4" r="1.3" fill="#a8a8a8"/>
<circle cx="518.5" cy="614.3" r="1.3" fill="#a8a8a8"/>
<circle cx="516.9" cy="615.9" r="1.3" fill="#a8a8a8"/>
<circle cx="539.0" cy="605.7" r="1.3" fill="#a8a8a8"/>
<circle cx="520.5" cy="619.1" r="1.3" fill="#a8a8a8"/>
<circle cx="509.1" cy="629.5" r="1.3" fill="#a8a8a8"/>
<circle cx="525.7" cy="601.9" r="1.3" fill="#a8a8a8"/>
<circle cx="532.7" cy="612.6" r="1.3" fill="#a8a8a8"/>
<circle cx="534.5" cy="612.0" r="1.3" fill="#a8a8a8"/>
<circle cx="525.4" cy="612.8" r="1.3" fill="#a8a8a8"/>
<circle cx="511.7" cy="626.5" r="1.3" fill="#a8a8a8"/>
<circle cx="524.5" cy="602.9" r="1.3" fill="#a8a8a8"/>
<circle cx="519.6" cy="610.8" r="1.3" fill="#a8a8a8"/>
<circle cx="530.7" cy="601.5" r="1.3" fill="#a8a8a8"/>
<circle cx="520.7" cy="614.1" r="1.3" fill="#a8a8a8"/>
<circle cx="536.0" cy="609.0" r="1.3" fill="#a8a8a8"/>
<circle cx="519.2" cy="622.4" r="1.3" fill="#a8a8a8"/>
<circle cx="506.2" cy="634.3" r="1.3" fill="#a8a8a8"/>
<circle cx="508.8" cy="629.1" r="1.3" fill="#a8a8a8"/>
<circle cx="528.5" cy="613.0" r="1.3" fill="#a8a8a8"/>
<circle cx="529.1" cy="610.3" r="1.3" fill="#a8a8a8"/>
<circle cx="523.0" cy="607.7" r="1.3" fill="#a8a8a8"/>
<circle cx="529.9" cy="614.0" r="1.3" fill="#a8a8a8"/>
<circle cx="530.7" cy="599.7" r="1.3" fill="#a8a8a8"/>
<circle cx="513.1" cy="625.2" r="1.3" fill="#a8a8a8"/>
<circle cx="506.2" cy="634.5" r="1.3" fill="#a8a8a8"/>
<circle cx="528.0" cy="613.7" r="1.3" fill="#a8a8a8"/>
<circle cx="518.2" cy="620.5" r="1.3" fill="#a8a8a8"/>
<circle cx="506.9" cy="633.1" r="1.3" fill="#a8a8a8"/>
<circle cx="536.8" cy="609.0" r="1.3" fill="#a8a8a8"/>
<circle cx="524.2" cy="610.3" r="1.3" fill="#a8a8a8"/>
<circle cx="514.8" cy="624.3" r="1.3" fill="#a8a8a8"/>
<circle cx="507.6" cy="633.2" r="1.3" fill="#a8a8a8"/>
<circle cx="527.6" cy="597.7" r="1.3" fill="#a8a8a8"/>
<circle cx="523.7" cy="615.5" r="1.3" fill="#a8a8a8"/>
<circle cx="527.2" cy="614.7" r="1.3" fill="#a8a8a8"/>
<circle cx="537.5" cy="609.4" r="1.3" fill="#a8a8a8"/>
<circle cx="533.9" cy="602.3" r="1.3" fill="#a8a8a8"/>
<circle cx="513.9" cy="628.1" r="1.3" fill="#a8a8a8"/>
<circle cx="506.9" cy="633.9" r="1.3" fill="#a8a8a8"/>
<circle cx="513.2" cy="621.4" r="1.3" fill="#a8a8a8"/>
<circle cx="526.5" cy="616.2" r="1.3" fill="#a8a8a8"/>
<circle cx="513.1" cy="629.6" r="1.3" fill="#a8a8a8"/>
<circle cx="516.9" cy="615.7" r="1.3" fill="#a8a8a8"/>
<circle cx="527.3" cy="604.2" r="1.3" fill="#a8a8a8"/>
<circle cx="508.4" cy="631.3" r="1.3" fill="#a8a8a8"/>
<circle cx="510.1" cy="628.2" r="1.3" fill="#a8a8a8"/>
<circle cx="533.6" cy="597.6" r="1.3" fill="#a8a8a8"/>
<circle cx="538.6" cy="606.6" r="1.3" fill="#a8a8a8"/>
<circle cx="516.4" cy="627.1" r="1.3" fill="#a8a8a8"/>
<circle cx="538.0" cy="605.2" r="1.3" fill="#a8a8a8"/>
<circle cx="513.7" cy="627.0" r="1.3" fill="#a8a8a8"/>
<circle cx="512.9" cy="624.6" r="1.3" fill="#a8a8a8"/>
<circle cx="509.0" cy="630.7" r="1.3" fill="#a8a8a8"/>
<circle cx="531.9" cy="613.8" r="1.3" fill="#a8a8a8"/>
<circle cx="528.7" cy="595.8" r="1.3" fill="#a8a8a8"/>
<circle cx="535.0" cy="592.5" r="1.3" fill="#a8a8a8"/>
<circle cx="518.4" cy="614.9" r="1.3" fill="#a8a8a8"/>
<circle cx="506.1" cy="634.9" r="1.3" fill="#a8a8a8"/>
<circle cx="531.6" cy="598.7" r="1.3" fill="#a8a8a8"/>
<circle cx="535.8" cy="600.9" r="1.3" fill="#a8a8a8"/>
<circle cx="522.3" cy="611.2" r="1.3" fill="#a8a8a8"/>
<circle cx="507.7" cy="632.5" r="1.3" fill="#a8a8a8"/>
<circle cx="541.3" cy="605.6" r="1.3" fill="#a8a8a8"/>
<circle cx="518.8" cy="613.8" r="1.3" fill="#a8a8a8"/>
<circle cx="525.8" cy="618.5" r="1.3" fill="#a8a8a8"/>
<circle cx="532.8" cy="601.6" r="1.3" fill="#a8a8a8"/>
<circle cx="529.3" cy="611.0" r="1.3" fill="#a8a8a8"/>
<circle cx="527.9" cy="612.2" r="1.3" fill="#a8a8a8"/>
<circle cx="517.9" cy="619.2" r="1.3" fill="#a8a8a8"/>
<circle cx="515.0" cy="623.8" r="1.3" fill="#a8a8a8"/>
<circle cx="530.6" cy="595.9" r="1.3" fill="#a8a8a8"/>
<circle cx="522.2" cy="619.0" r="1.3" fill="#a8a8a8"/>
<circle cx="513.6" cy="628.7" r="1.3" fill="#a8a8a8"/>
<circle cx="529.8" cy="609.7" r="1.3" fill="#a8a8a8"/>
<circle cx="509.9" cy="626.9" r="1.3" fill="#a8a8a8"/>
<circle cx="541.6" cy="594.8" r="1.3" fill="#a8a8a8"/>
<circle cx="526.8" cy="606.8" r="1.3" fill="#a8a8a8"/>
<circle cx="520.6" cy="613.5" r="1.3" fill="#a8a8a8"/>
<circle cx="509.5" cy="630.2" r="1.3" fill="#a8a8a8"/>
<circle cx="530.3" cy="614.9" r="1.3" fill="#a8a8a8"/>
<circle cx="531.2" cy="611.6" r="1.3" fill="#a8a8a8"/>
<circle cx="526.0" cy="615.2" r="1.3" fill="#a8a8a8"/>
<circle cx="539.9" cy="606.0" r="1.3" fill="#a8a8a8"/>
<circle cx="515.6" cy="622.4" r="1.3" fill="#a8a8a8"/>
<circle cx="521.9" cy="621.2" r="1.3" fill="#a8a8a8"/>
<circle cx="532.7" cy="593.4" r="1.3" fill="#a8a8a8"/>
<circle cx="521.9" cy="607.9" r="1.3" fill="#a8a8a8"/>
<circle cx="526.7" cy="618.0" r="1.3" fill="#a8a8a8"/>
<circle cx="511.6" cy="627.7" r="1.3" fill="#a8a8a8"/>
<circle cx="532.6" cy="607.9" r="1.3" fill="#a8a8a8"/>
<circle cx="543.7" cy="591.9" r="1.3" fill="#a8a8a8"/>
<circle cx="534.9" cy="610.7" r="1.3" fill="#a8a8a8"/>
<circle cx="524.4" cy="620.3" r="1.3" fill="#a8a8a8"/>
<circle cx="513.9" cy="628.1" r="1.3" fill="#a8a8a8"/>
<circle cx="511.9" cy="629.3" r="1.3" fill="#a8a8a8"/>
<circle cx="506.4" cy="634.7" r="1.3" fill="#a8a8a8"/>
<circle cx="544.4" cy="599.4" r="1.3" fill="#a8a8a8"/>
<circle cx="533.9" cy="598.1" r="1.3" fill="#a8a8a8"/>
<circle cx="515.8" cy="626.5" r="1.3" fill="#a8a8a8"/>
<circle cx="509.5" cy="628.9" r="1.3" fill="#a8a8a8"/>
<circle cx="504.6" cy="635.8" r="1.3" fill="#a8a8a8"/>
<circle cx="507.4" cy="632.9" r="1.3" fill="#a8a8a8"/>
<circle cx="528.2" cy="615.0" r="1.3" fill="#a8a8a8"/>
<circle cx="528.4" cy="601.1" r="1.3" fill="#a8a8a8"/>
<circle cx="541.5" cy="598.3" r="1.3" fill="#a8a8a8"/>
<circle cx="512.8" cy="627.0" r="1.3" fill="#a8a8a8"/>
<circle cx="517.4" cy="621.9" r="1.3" fill="#a8a8a8"/>
<circle cx="537.6" cy="590.5" r="1.3" fill="#a8a8a8"/>
<circle cx="533.0" cy="598.7" r="1.3" fill="#a8a8a8"/>
<circle cx="548.1" cy="592.8" r="1.3" fill="#a8a8a8"/>
<circle cx="520.0" cy="614.5" r="1.3" fill="#a8a8a8"/>
<circle cx="514.8" cy="623.1" r="1.3" fill="#a8a8a8"/>
<circle cx="527.4" cy="617.5" r="1.3" fill="#a8a8a8"/>
<circle cx="509.4" cy="630.4" r="1.3" fill="#a8a8a8"/>
<circle cx="529.4" cy="608.2" r="1.3" fill="#a8a8a8"/>
<circle cx="525.8" cy="605.3" r="1.3" fill="#a8a8a8"/>
<circle cx="550.7" cy="597.4" r="1.3" fill="#a8a8a8"/>
<circle cx="516.3" cy="623.6" r="1.3" fill="#a8a8a8"/>
<circle cx="533.1" cy="591.6" r="1.3" fill="#a8a8a8"/>
<circle cx="549.7" cy="592.3" r="1.3" fill="#a8a8a8"/>
<circle cx="519.5" cy="622.3" r="1.3" fill="#a8a8a8"/>
<circle cx="550.2" cy="598.2" r="1.3" fill="#a8a8a8"/>
<circle cx="518.0" cy="624.3" r="1.3" fill="#a8a8a8"/>
<circle cx="531.4" cy="608.3" r="1.3" fill="#a8a8a8"/>
<circle cx="511.4" cy="628.7" r="1.3" fill="#a8a8a8"/>
<circle cx="529.6" cy="598.7" r="1.3" fill="#a8a8a8"/>
<circle cx="521.8" cy="616.3" r="1.3" fill="#a8a8a8"/>
<circle cx="509.3" cy="630.3" r="1.3" fill="#a8a8a8"/>
<circle cx="514.3" cy="625.7" r="1.3" fill="#a8a8a8"/>
<circle cx="535.5" cy="610.7" r="1.3" fill="#a8a8a8"/>
<circle cx="538.3" cy="607.2" r="1.3" fill="#a8a8a8"/>
<circle cx="524.2" cy="615.3" r="1.3" fill="#a8a8a8"/>
<circle cx="510.8" cy="628.4" r="1.3" fill="#a8a8a8"/>
<circle cx="533.6" cy="600.4" r="1.3" fill="#a8a8a8"/>
<circle cx="511.0" cy="628.6" r="1.3" fill="#a8a8a8"/>
<circle cx="515.5" cy="620.4" r="1.3" fill="#a8a8a8"/>
<circle cx="545.9" cy="600.4" r="1.3" fill="#a8a8a8"/>
<circle cx="507.7" cy="631.5" r="1.3" fill="#a8a8a8"/>
<circle cx="534.1" cy="610.3" r="1.3" fill="#a8a8a8"/>
<circle cx="518.5" cy="620.9" r="1.3" fill="#a8a8a8"/>
<circle cx="547.7" cy="591.8" r="1.3" fill="#a8a8a8"/>
<circle cx="539.0" cy="599.5" r="1.3" fill="#a8a8a8"/>
<circle cx="524.8" cy="605.8" r="1.3" fill="#a8a8a8"/>
<circle cx="527.0" cy="607.9" r="1.3" fill="#a8a8a8"/>
<circle cx="538.7" cy="607.3" r="1.3" fill="#a8a8a8"/>
<circle cx="518.5" cy="621.8" r="1.3" fill="#a8a8a8"/>
<circle cx="506.3" cy="633.9" r="1.3" fill="#a8a8a8"/>
<circle cx="545.7" cy="600.0" r="1.3" fill="#a8a8a8"/>
<circle cx="529.4" cy="599.8" r="1.3" fill="#a8a8a8"/>
<circle cx="505.2" cy="635.5" r="1.3" fill="#a8a8a8"/>
<circle cx="504.3" cy="636.5" r="1.3" fill="#a8a8a8"/>
<circle cx="514.6" cy="626.2" r="1.3" fill="#a8a8a8"/>
<circle cx="509.9" cy="629.6" r="1.3" fill="#a8a8a8"/>
<circle cx="539.9" cy="600.8" r="1.3" fill="#a8a8a8"/>
<circle cx="534.2" cy="608.2" r="1.3" fill="#a8a8a8"/>
<circle cx="528.6" cy="600.5" r="1.3" fill="#a8a8a8"/>
<circle cx="516.7" cy="615.5" r="1.3" fill="#a8a8a8"/>
<circle cx="515.3" cy="619.4" r="1.3" fill="#a8a8a8"/>
<circle cx="536.5" cy="610.6" r="1.3" fill="#a8a8a8"/>
<circle cx="540.9" cy="592.5" r="1.3" fill="#a8a8a8"/>
<circle cx="523.3" cy="606.7" r="1.3" fill="#a8a8a8"/>
<circle cx="520.1" cy="622.8" r="1.3" fill="#a8a8a8"/>
<circle cx="527.3" cy="617.6" r="1.3" fill="#a8a8a8"/>
<circle cx="518.9" cy="624.2" r="1.3" fill="#a8a8a8"/>
<circle cx="511.0" cy="629.8" r="1.3" fill="#a8a8a8"/>
<circle cx="524.0" cy="603.2" r="1.3" fill="#a8a8a8"/>
<circle cx="508.7" cy="629.3" r="1.3" fill="#a8a8a8"/>
<circle cx="511.7" cy="625.7" r="1.3" fill="#a8a8a8"/>
<circle cx="531.4" cy="607.8" r="1.3" fill="#a8a8a8"/>
<circle cx="508.3" cy="631.6" r="1.3" fill="#a8a8a8"/>
<circle cx="505.9" cy="634.8" r="1.3" fill="#a8a8a8"/>
<circle cx="521.2" cy="617.7" r="1.3" fill="#a8a8a8"/>
<circle cx="527.0" cy="600.0" r="1.3" fill="#a8a8a8"/>
<circle cx="514.0" cy="625.8" r="1.3" fill="#a8a8a8"/>
<circle cx="539.3" cy="607.0" r="1.3" fill="#a8a8a8"/>
<circle cx="509.8" cy="627.4" r="1.3" fill="#a8a8a8"/>
<circle cx="508.5" cy="631.7" r="1.3" fill="#a8a8a8"/>
<circle cx="534.3" cy="602.5" r="1.3" fill="#a8a8a8"/>
<circle cx="537.1" cy="594.7" r="1.3" fill="#a8a8a8"/>
<circle cx="523.9" cy="604.2" r="1.3" fill="#a8a8a8"/>
<circle cx="541.7" cy="598.8" r="1.3" fill="#a8a8a8"/>
<circle cx="518.6" cy="615.5" r="1.3" fill="#a8a8a8"/>
<circle cx="538.6" cy="601.5" r="1.3" fill="#a8a8a8"/>
<circle cx="534.0" cy="611.2" r="1.3" fill="#a8a8a8"/>
<circle cx="533.1" cy="603.3" r="1.3" fill="#a8a8a8"/>
<circle cx="544.8" cy="597.2" r="1.3" fill="#a8a8a8"/>
<circle cx="515.6" cy="626.7" r="1.3" fill="#a8a8a8"/>
<circle cx="533.1" cy="592.2" r="1.3" fill="#a8a8a8"/>
<circle cx="523.6" cy="605.5" r="1.3" fill="#a8a8a8"/>
<circle cx="534.0" cy="605.4" r="1.3" fill="#a8a8a8"/>
<circle cx="516.2" cy="621.5" r="1.3" fill="#a8a8a8"/>
<circle cx="546.8" cy="601.6" r="1.3" fill="#a8a8a8"/>
<circle cx="522.5" cy="607.8" r="1.3" fill="#a8a8a8"/>
<circle cx="514.1" cy="626.5" r="1.3" fill="#a8a8a8"/>
<circle cx="539.2" cy="592.1" r="1.3" fill="#a8a8a8"/>
<circle cx="522.0" cy="606.4" r="1.3" fill="#a8a8a8"/>
<circle cx="537.7" cy="598.2" r="1.3" fill="#a8a8a8"/>
<circle cx="517.8" cy="623.2" r="1.3" fill="#a8a8a8"/>
<circle cx="509.0" cy="633.0" r="1.3" fill="#a8a8a8"/>
<circle cx="539.6" cy="603.6" r="1.3" fill="#a8a8a8"/>
<circle cx="529.0" cy="615.6" r="1.3" fill="#a8a8a8"/>
<circle cx="521.1" cy="616.5" r="1.3" fill="#a8a8a8"/>
<circle cx="511.3" cy="626.6" r="1.3" fill="#a8a8a8"/>
<circle cx="511.9" cy="629.4" r="1.3" fill="#a8a8a8"/>
<circle cx="512.6" cy="626.9" r="1.3" fill="#a8a8a8"/>
<circle cx="544.5" cy="597.0" r="1.3" fill="#a8a8a8"/>
<circle cx="537.9" cy="600.4" r="1.3" fill="#a8a8a8"/>
<circle cx="531.8" cy="614.6" r="1.3" fill="#a8a8a8"/>
<circle cx="538.6" cy="598.0" r="1.3" fill="#a8a8a8"/>
<circle cx="516.1" cy="620.4" r="1.3" fill="#a8a8a8"/>
<circle cx="544.1" cy="604.0" r="1.3" fill="#a8a8a8"/>
<circle cx="515.7" cy="622.1" r="1.3" fill="#a8a8a8"/>
<circle cx="546.9" cy="599.8" r="1.3" fill="#a8a8a8"/>
<circle cx="530.4" cy="600.5" r="1.3" fill="#a8a8a8"/>
<circle cx="543.1" cy="602.1" r="1.3" fill="#a8a8a8"/>
<circle cx="543.3" cy="601.9" r="1.3" fill="#a8a8a8"/>
<circle cx="513.0" cy="629.1" r="1.3" fill="#a8a8a8"/>
<circle cx="512.2" cy="623.8" r="1.3" fill="#a8a8a8"/>
<circle cx="548.9" cy="598.4" r="1.3" fill="#a8a8a8"/>
<circle cx="524.9" cy="617.3" r="1.3" fill="#a8a8a8"/>
<circle cx="547.6" cy="601.1" r="1.3" fill="#a8a8a8"/>
<circle cx="520.2" cy="616.0" r="1.3" fill="#a8a8a8"/>
<circle cx="544.3" cy="590.0" r="1.3" fill="#a8a8a8"/>
<circle cx="513.1" cy="628.0" r="1.3" fill="#a8a8a8"/>
<circle cx="505.5" cy="635.5" r="1.3" fill="#a8a8a8"/>
<circle cx="545.1" cy="598.2" r="1.3" fill="#a8a8a8"/>
<circle cx="508.1" cy="632.1" r="1.3" fill="#a8a8a8"/>
<circle cx="531.0" cy="600.2" r="1.3" fill="#a8a8a8"/>
<circle cx="513.9" cy="628.4" r="1.3" fill="#a8a8a8"/>
<circle cx="523.9" cy="607.1" r="1.3" fill="#a8a8a8"/>
<circle cx="522.5" cy="611.4" r="1.3" fill="#a8a8a8"/>
<circle cx="528.9" cy="605.1" r="1.3" fill="#a8a8a8"/>
<circle cx="513.4" cy="625.5" r="1.3" fill="#a8a8a8"/>
<circle cx="540.9" cy="602.5" r="1.3" fill="#a8a8a8"/>
<circle cx="526.6" cy="600.6" r="1.3" fill="#a8a8a8"/>
<circle cx="528.6" cy="614.9" r="1.3" fill="#a8a8a8"/>
<circle cx="523.9" cy="615.1" r="1.3" fill="#a8a8a8"/>
<circle cx="529.7" cy="613.8" r="1.3" fill="#a8a8a8"/>
<circle cx="529.3" cy="609.3" r="1.3" fill="#a8a8a8"/>
<circle cx="536.1" cy="595.9" r="1.3" fill="#a8a8a8"/>
<circle cx="516.9" cy="621.1" r="1.3" fill="#a8a8a8"/>
<circle cx="533.5" cy="602.0" r="1.3" fill="#a8a8a8"/>
<circle cx="514.5" cy="625.6" r="1.3" fill="#a8a8a8"/>
<circle cx="549.9" cy="599.4" r="1.3" fill="#a8a8a8"/>
<circle cx="532.1" cy="600.8" r="1.3" fill="#a8a8a8"/>
<circle cx="526.2" cy="614.0" r="1.3" fill="#a8a8a8"/>
<circle cx="517.5" cy="614.4" r="1.3" fill="#a8a8a8"/>
<circle cx="530.8" cy="595.5" r="1.3" fill="#a8a8a8"/>
<circle cx="533.4" cy="601.6" r="1.3" fill="#a8a8a8"/>
<circle cx="526.0" cy="604.5" r="1.3" fill="#a8a8a8"/>
<circle cx="542.3" cy="590.7" r="1.3" fill="#a8a8a8"/>
<circle cx="513.7" cy="621.8" r="1.3" fill="#a8a8a8"/>
<circle cx="539.9" cy="597.8" r="1.3" fill="#a8a8a8"/>
<circle cx="523.6" cy="609.7" r="1.3" fill="#a8a8a8"/>
<circle cx="529.2" cy="612.1" r="1.3" fill="#a8a8a8"/>
<circle cx="518.9" cy="622.4" r="1.3" fill="#a8a8a8"/>
<circle cx="535.1" cy="592.2" r="1.3" fill="#a8a8a8"/>
<circle cx="535.8" cy="608.4" r="1.3" fill="#a8a8a8"/>
<circle cx="546.3" cy="601.8" r="1.3" fill="#a8a8a8"/>
<circle cx="510.9" cy="627.4" r="1.3" fill="#a8a8a8"/>
<circle cx="518.1" cy="603.8" r="1.3" fill="#a8a8a8"/>
<circle cx="516.8" cy="609.6" r="1.3" fill="#a8a8a8"/>
<circle cx="513.1" cy="613.4" r="1.3" fill="#a8a8a8"/>
<circle cx="524.3" cy="596.2" r="1.3" fill="#a8a8a8"/>
<circle cx="516.8" cy="598.1" r="1.3" fill="#a8a8a8"/>
<circle cx="539.2" cy="590.4" r="1.3" fill="#a8a8a8"/>
<circle cx="545.4" cy="589.7" r="1.3" fill="#a8a8a8"/>
<circle cx="490.7" cy="608.8" r="1.3" fill="#a8a8a8"/>
<circle cx="484.5" cy="598.9" r="1.3" fill="#a8a8a8"/>
<circle cx="474.6" cy="590.4" r="1.3" fill="#a8a8a8"/>
<line x1="486.6" y1="481.6" x2="486.6" y2="636.4" stroke="#333" stroke-width="0.8" stroke-dasharray="2,1.6"/>
<line x1="520.4" y1="481.6" x2="520.4" y2="636.4" stroke="#333" stroke-width="0.8" stroke-dasharray="2,1.6"/>
<line x1="404.3" y1="588.9" x2="604.5" y2="588.9" stroke="#f0a0a0" stroke-width="0.9" stroke-dasharray="1.5,1"/>
<line x1="504.6" y1="481.2" x2="504.6" y2="637.0" stroke="#111" stroke-width="1.3" />
<line x1="405.3" y1="636.4" x2="604.4" y2="636.4" stroke="#111" stroke-width="1.3" />
<line x1="501.2" y1="483.2" x2="504.6" y2="483.2" stroke="#111" stroke-width="1" />
<text x="502.5" y="486.5" font-size="9" font-weight="normal" font-style="normal" text-anchor="end" fill="#222" color="#222" >4</text>
<line x1="501.2" y1="521.5" x2="504.6" y2="521.5" stroke="#111" stroke-width="1" />
<text x="502.5" y="524.8" font-size="9" font-weight="normal" font-style="normal" text-anchor="end" fill="#222" color="#222" >3</text>
<line x1="501.2" y1="559.8" x2="504.6" y2="559.8" stroke="#111" stroke-width="1" />
<text x="502.5" y="563.1" font-size="9" font-weight="normal" font-style="normal" text-anchor="end" fill="#222" color="#222" >2</text>
<line x1="501.2" y1="598.1" x2="504.6" y2="598.1" stroke="#111" stroke-width="1" />
<text x="502.5" y="601.4" font-size="9" font-weight="normal" font-style="normal" text-anchor="end" fill="#222" color="#222" >1</text>
<line x1="405.0" y1="636.4" x2="405.0" y2="639.6" stroke="#111" stroke-width="1" />
<text x="405.0" y="647.3" font-size="9" font-weight="normal" font-style="normal" text-anchor="middle" fill="#222" color="#222" >-4</text>
<line x1="454.7" y1="636.4" x2="454.7" y2="639.6" stroke="#111" stroke-width="1" />
<text x="454.7" y="647.3" font-size="9" font-weight="normal" font-style="normal" text-anchor="middle" fill="#222" color="#222" >-2</text>
<line x1="504.4" y1="636.4" x2="504.4" y2="639.6" stroke="#111" stroke-width="1" />
<text x="504.4" y="647.3" font-size="9" font-weight="normal" font-style="normal" text-anchor="middle" fill="#222" color="#222" >0</text>
<line x1="554.1" y1="636.4" x2="554.1" y2="639.6" stroke="#111" stroke-width="1" />
<text x="554.1" y="647.3" font-size="9" font-weight="normal" font-style="normal" text-anchor="middle" fill="#222" color="#222" >2</text>
<line x1="603.8" y1="636.4" x2="603.8" y2="639.6" stroke="#111" stroke-width="1" />
<text x="603.8" y="647.3" font-size="9" font-weight="normal" font-style="normal" text-anchor="middle" fill="#222" color="#222" >4</text>
<text x="507.5" y="658.9" font-size="9.3" font-weight="normal" font-style="normal" text-anchor="middle" fill="#222" color="#222" >Log2 fold change</text>
<text transform="translate(493.8,539.7) rotate(-90)" font-size="9.5" text-anchor="middle" fill="#222">-Log10(P)</text>
<circle cx="445.0" cy="517.5" r="1.50" fill="#1e2a82"/>
<circle cx="436.6" cy="534.0" r="1.50" fill="#1e2a82"/>
<circle cx="450.1" cy="540.1" r="1.50" fill="#1e2a82"/>
<circle cx="440.8" cy="545.6" r="1.50" fill="#1e2a82"/>
<circle cx="430.7" cy="554.5" r="1.50" fill="#1e2a82"/>
<circle cx="464.1" cy="552.9" r="1.50" fill="#1e2a82"/>
<circle cx="468.3" cy="552.9" r="1.50" fill="#1e2a82"/>
<circle cx="447.5" cy="557.0" r="1.50" fill="#1e2a82"/>
<circle cx="448.7" cy="556.7" r="1.50" fill="#1e2a82"/>
<circle cx="451.3" cy="555.2" r="1.50" fill="#1e2a82"/>
<circle cx="453.9" cy="554.8" r="1.50" fill="#1e2a82"/>
<circle cx="457.7" cy="557.4" r="1.50" fill="#1e2a82"/>
<circle cx="464.1" cy="563.1" r="1.50" fill="#1e2a82"/>
<circle cx="447.2" cy="565.7" r="1.50" fill="#1e2a82"/>
<circle cx="455.1" cy="567.6" r="1.50" fill="#1e2a82"/>
<circle cx="460.7" cy="566.9" r="1.50" fill="#1e2a82"/>
<circle cx="457.7" cy="570.6" r="1.50" fill="#1e2a82"/>
<circle cx="460.3" cy="572.5" r="1.50" fill="#1e2a82"/>
<circle cx="463.4" cy="571.0" r="1.50" fill="#1e2a82"/>
<circle cx="465.6" cy="569.9" r="1.50" fill="#1e2a82"/>
<circle cx="468.3" cy="571.0" r="1.50" fill="#1e2a82"/>
<circle cx="463.7" cy="574.4" r="1.50" fill="#1e2a82"/>
<circle cx="468.3" cy="575.0" r="1.50" fill="#1e2a82"/>
<circle cx="470.1" cy="575.0" r="1.50" fill="#1e2a82"/>
<circle cx="473.2" cy="575.5" r="1.50" fill="#1e2a82"/>
<circle cx="453.9" cy="578.2" r="1.50" fill="#1e2a82"/>
<circle cx="450.9" cy="580.4" r="1.50" fill="#1e2a82"/>
<circle cx="457.3" cy="581.0" r="1.50" fill="#1e2a82"/>
<circle cx="464.1" cy="578.0" r="1.50" fill="#1e2a82"/>
<circle cx="464.9" cy="581.2" r="1.50" fill="#1e2a82"/>
<circle cx="468.3" cy="580.4" r="1.50" fill="#1e2a82"/>
<circle cx="469.0" cy="581.9" r="1.50" fill="#1e2a82"/>
<circle cx="470.9" cy="583.4" r="1.50" fill="#1e2a82"/>
<circle cx="474.3" cy="581.9" r="1.50" fill="#1e2a82"/>
<circle cx="474.7" cy="584.6" r="1.50" fill="#1e2a82"/>
<circle cx="464.5" cy="583.8" r="1.50" fill="#1e2a82"/>
<circle cx="460.3" cy="586.1" r="1.50" fill="#1e2a82"/>
<circle cx="462.2" cy="586.8" r="1.50" fill="#1e2a82"/>
<circle cx="476.9" cy="587.2" r="1.50" fill="#1e2a82"/>
<circle cx="466.0" cy="585.0" r="1.50" fill="#1e2a82"/>
<circle cx="471.5" cy="585.5" r="1.50" fill="#1e2a82"/>
<circle cx="564.6" cy="532.9" r="1.50" fill="#1e2a82"/>
<circle cx="584.9" cy="541.4" r="1.50" fill="#1e2a82"/>
<circle cx="567.1" cy="559.1" r="1.50" fill="#1e2a82"/>
<circle cx="558.7" cy="569.7" r="1.50" fill="#1e2a82"/>
<circle cx="557.6" cy="573.0" r="1.50" fill="#1e2a82"/>
<circle cx="563.3" cy="576.0" r="1.50" fill="#1e2a82"/>
<circle cx="551.7" cy="575.2" r="1.50" fill="#1e2a82"/>
<circle cx="546.9" cy="576.6" r="1.50" fill="#1e2a82"/>
<circle cx="533.4" cy="579.8" r="1.50" fill="#1e2a82"/>
<circle cx="539.0" cy="583.0" r="1.50" fill="#1e2a82"/>
<circle cx="537.0" cy="586.1" r="1.50" fill="#1e2a82"/>
<circle cx="530.6" cy="586.8" r="1.50" fill="#1e2a82"/>
<circle cx="549.6" cy="584.0" r="1.50" fill="#1e2a82"/>
<circle cx="552.8" cy="583.0" r="1.50" fill="#1e2a82"/>
<circle cx="556.0" cy="578.1" r="1.50" fill="#1e2a82"/>
<circle cx="552.8" cy="587.8" r="1.50" fill="#1e2a82"/>
<circle cx="547.5" cy="580.9" r="1.50" fill="#1e2a82"/>
<circle cx="453.6" cy="558.9" r="1.60" fill="#56c4a0"/>
<circle cx="455.8" cy="561.2" r="1.60" fill="#56c4a0"/>
<circle cx="452.8" cy="569.1" r="1.60" fill="#56c4a0"/>
<circle cx="473.5" cy="571.0" r="1.60" fill="#56c4a0"/>
<circle cx="466.4" cy="577.0" r="1.60" fill="#56c4a0"/>
<circle cx="469.0" cy="578.5" r="1.60" fill="#56c4a0"/>
<circle cx="455.8" cy="578.2" r="1.60" fill="#56c4a0"/>
<circle cx="455.8" cy="582.7" r="1.60" fill="#56c4a0"/>
<circle cx="472.0" cy="581.2" r="1.60" fill="#56c4a0"/>
<circle cx="470.1" cy="586.1" r="1.60" fill="#56c4a0"/>
<circle cx="473.2" cy="587.2" r="1.60" fill="#56c4a0"/>
<circle cx="467.5" cy="578.0" r="1.60" fill="#56c4a0"/>
<circle cx="562.5" cy="547.3" r="1.60" fill="#56c4a0"/>
<circle cx="576.0" cy="555.5" r="1.60" fill="#56c4a0"/>
<circle cx="550.3" cy="562.3" r="1.60" fill="#56c4a0"/>
<circle cx="559.1" cy="563.3" r="1.60" fill="#56c4a0"/>
<circle cx="545.4" cy="584.0" r="1.60" fill="#56c4a0"/>
<circle cx="548.1" cy="581.5" r="1.60" fill="#56c4a0"/>
<line x1="429.6" y1="560.4" x2="458.1" y2="583.0" stroke="#111" stroke-width="0.8" />
<line x1="445.5" y1="596.3" x2="466.6" y2="587.2" stroke="#111" stroke-width="0.8" />
<line x1="562.7" y1="517.5" x2="552.8" y2="577.7" stroke="#111" stroke-width="0.8" />
<circle cx="458.8" cy="583.8" r="2.50" fill="#ecec2a"/>
<circle cx="467.1" cy="587.6" r="2.50" fill="#ecec2a"/>
<circle cx="552.2" cy="578.7" r="2.50" fill="#ecec2a"/>
<text x="396.9" y="561.8" font-size="9.1" font-weight="bold" font-style="normal" text-anchor="start" fill="#111" color="#111" >mTOR</text>
<text x="417.6" y="602.0" font-size="9.1" font-weight="bold" font-style="normal" text-anchor="start" fill="#111" color="#111" >PTEN</text>
<text x="560.8" y="514.3" font-size="9.1" font-weight="bold" font-style="normal" text-anchor="start" fill="#111" color="#111" >LAMP2</text>
</svg>
</body></html>
